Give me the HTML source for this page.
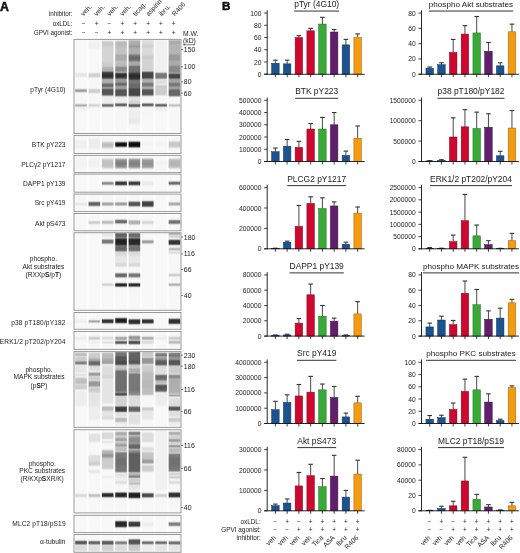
<!DOCTYPE html>
<html><head><meta charset="utf-8"><title>figure</title>
<style>
html,body{margin:0;padding:0;background:#fff;}
body{width:520px;height:553px;overflow:hidden;}
svg{display:block;font-family:"Liberation Sans", sans-serif;will-change:transform;filter:blur(0.25px);}
</style></head><body>
<svg width="520" height="553" viewBox="0 0 520 553">
<rect width="520" height="553" fill="#fff"/>
<text x="0.10" y="10.80" font-size="12.3" text-anchor="start" font-weight="bold" fill="#111" stroke="#111" stroke-width="0.5">A</text>
<text x="72.60" y="16.00" font-size="6.3" text-anchor="end" font-weight="normal" fill="#222" >inhibitor:</text>
<text x="72.60" y="25.60" font-size="6.3" text-anchor="end" font-weight="normal" fill="#222" >oxLDL:</text>
<text x="72.60" y="35.30" font-size="6.3" text-anchor="end" font-weight="normal" fill="#222" >GPVI agonist:</text>
<text x="83.60" y="16.6" font-size="6.8" fill="#222" transform="rotate(-48 83.60 16.6)">veh.</text>
<text x="83.75" y="25.60" font-size="6.5" text-anchor="middle" font-weight="normal" fill="#222" >−</text>
<text x="83.75" y="35.30" font-size="6.5" text-anchor="middle" font-weight="normal" fill="#222" >−</text>
<text x="96.64" y="16.6" font-size="6.8" fill="#222" transform="rotate(-48 96.64 16.6)">veh.</text>
<text x="96.61" y="25.60" font-size="6.5" text-anchor="middle" font-weight="normal" fill="#222" >+</text>
<text x="96.61" y="35.30" font-size="6.5" text-anchor="middle" font-weight="normal" fill="#222" >−</text>
<text x="109.68" y="16.6" font-size="6.8" fill="#222" transform="rotate(-48 109.68 16.6)">veh.</text>
<text x="109.47" y="25.60" font-size="6.5" text-anchor="middle" font-weight="normal" fill="#222" >−</text>
<text x="109.47" y="35.30" font-size="6.5" text-anchor="middle" font-weight="normal" fill="#222" >+</text>
<text x="122.72" y="16.6" font-size="6.8" fill="#222" transform="rotate(-48 122.72 16.6)">veh.</text>
<text x="122.33" y="25.60" font-size="6.5" text-anchor="middle" font-weight="normal" fill="#222" >+</text>
<text x="122.33" y="35.30" font-size="6.5" text-anchor="middle" font-weight="normal" fill="#222" >+</text>
<text x="135.76" y="16.6" font-size="6.8" fill="#222" transform="rotate(-48 135.76 16.6)">ticag.</text>
<text x="135.19" y="25.60" font-size="6.5" text-anchor="middle" font-weight="normal" fill="#222" >+</text>
<text x="135.19" y="35.30" font-size="6.5" text-anchor="middle" font-weight="normal" fill="#222" >+</text>
<text x="148.80" y="16.6" font-size="6.8" fill="#222" transform="rotate(-48 148.80 16.6)">aspirin</text>
<text x="148.05" y="25.60" font-size="6.5" text-anchor="middle" font-weight="normal" fill="#222" >+</text>
<text x="148.05" y="35.30" font-size="6.5" text-anchor="middle" font-weight="normal" fill="#222" >+</text>
<text x="161.84" y="16.6" font-size="6.8" fill="#222" transform="rotate(-48 161.84 16.6)">ibru.</text>
<text x="160.91" y="25.60" font-size="6.5" text-anchor="middle" font-weight="normal" fill="#222" >+</text>
<text x="160.91" y="35.30" font-size="6.5" text-anchor="middle" font-weight="normal" fill="#222" >+</text>
<text x="174.88" y="16.6" font-size="6.8" fill="#222" transform="rotate(-48 174.88 16.6)">R406</text>
<text x="173.77" y="25.60" font-size="6.5" text-anchor="middle" font-weight="normal" fill="#222" >+</text>
<text x="173.77" y="35.30" font-size="6.5" text-anchor="middle" font-weight="normal" fill="#222" >+</text>
<text x="183.00" y="35.90" font-size="6.8" text-anchor="start" font-weight="normal" fill="#222" >M.W.</text>
<text x="183.00" y="43.00" font-size="6.8" text-anchor="start" font-weight="normal" fill="#222" >(kD)</text>
<line x1="183" y1="44.8" x2="194.8" y2="44.8" stroke="#222" stroke-width="0.6"/>
<defs><filter id="hb" x="-2%" y="-1%" width="104%" height="102%"><feGaussianBlur stdDeviation="0.45 0.01"/></filter><linearGradient id="g0_0" gradientUnits="userSpaceOnUse" x1="0" y1="39.9" x2="0" y2="133.0"><stop offset="0.00%" stop-color="#f8f8f8"/><stop offset="33.83%" stop-color="#f8f8f8"/><stop offset="34.91%" stop-color="#f4f4f4"/><stop offset="36.52%" stop-color="#e7e7e7"/><stop offset="37.59%" stop-color="#e5e5e5"/><stop offset="38.94%" stop-color="#e7e7e7"/><stop offset="40.55%" stop-color="#f4f4f4"/><stop offset="41.35%" stop-color="#f8f8f8"/><stop offset="51.02%" stop-color="#f8f8f8"/><stop offset="51.56%" stop-color="#f6f6f6"/><stop offset="52.09%" stop-color="#eeeeee"/><stop offset="52.63%" stop-color="#dbdbdb"/><stop offset="53.71%" stop-color="#a8a8a8"/><stop offset="53.97%" stop-color="#a1a1a1"/><stop offset="54.51%" stop-color="#9b9b9b"/><stop offset="55.05%" stop-color="#a1a1a1"/><stop offset="55.32%" stop-color="#a8a8a8"/><stop offset="56.39%" stop-color="#dbdbdb"/><stop offset="56.93%" stop-color="#eeeeee"/><stop offset="57.47%" stop-color="#f6f6f6"/><stop offset="58.00%" stop-color="#f8f8f8"/><stop offset="67.67%" stop-color="#f6f6f6"/><stop offset="68.21%" stop-color="#efefef"/><stop offset="68.47%" stop-color="#e9e9e9"/><stop offset="69.82%" stop-color="#b5b5b5"/><stop offset="70.35%" stop-color="#aeaeae"/><stop offset="70.89%" stop-color="#b5b5b5"/><stop offset="72.23%" stop-color="#e8e8e8"/><stop offset="72.50%" stop-color="#eeeeee"/><stop offset="73.04%" stop-color="#f2f2f2"/><stop offset="74.38%" stop-color="#f0f0f0"/><stop offset="76.26%" stop-color="#f7f7f7"/><stop offset="77.34%" stop-color="#f8f8f8"/><stop offset="99.89%" stop-color="#f8f8f8"/></linearGradient><linearGradient id="g0_1" gradientUnits="userSpaceOnUse" x1="0" y1="39.9" x2="0" y2="133.0"><stop offset="0.00%" stop-color="#f8f8f8"/><stop offset="4.83%" stop-color="#f0f0f0"/><stop offset="7.52%" stop-color="#f0f0f0"/><stop offset="10.47%" stop-color="#f8f8f8"/><stop offset="34.10%" stop-color="#f8f8f8"/><stop offset="35.18%" stop-color="#f0f0f0"/><stop offset="36.79%" stop-color="#d1d1d1"/><stop offset="37.86%" stop-color="#cdcdcd"/><stop offset="39.21%" stop-color="#d1d1d1"/><stop offset="40.82%" stop-color="#f0f0f0"/><stop offset="41.62%" stop-color="#f7f7f7"/><stop offset="50.75%" stop-color="#f8f8f8"/><stop offset="51.56%" stop-color="#f6f6f6"/><stop offset="52.09%" stop-color="#f0f0f0"/><stop offset="53.71%" stop-color="#d1d1d1"/><stop offset="55.05%" stop-color="#cdcdcd"/><stop offset="56.12%" stop-color="#d1d1d1"/><stop offset="57.73%" stop-color="#f0f0f0"/><stop offset="58.27%" stop-color="#f6f6f6"/><stop offset="59.08%" stop-color="#f8f8f8"/><stop offset="67.67%" stop-color="#f7f7f7"/><stop offset="68.47%" stop-color="#f0f0f0"/><stop offset="69.82%" stop-color="#d5d5d5"/><stop offset="70.35%" stop-color="#d2d2d2"/><stop offset="70.89%" stop-color="#d5d5d5"/><stop offset="72.23%" stop-color="#f0f0f0"/><stop offset="73.31%" stop-color="#f8f8f8"/><stop offset="99.89%" stop-color="#f8f8f8"/></linearGradient><linearGradient id="g0_2" gradientUnits="userSpaceOnUse" x1="0" y1="39.9" x2="0" y2="133.0"><stop offset="0.00%" stop-color="#f6f6f6"/><stop offset="0.81%" stop-color="#ececec"/><stop offset="2.15%" stop-color="#cfcfcf"/><stop offset="3.22%" stop-color="#c8c8c8"/><stop offset="5.37%" stop-color="#c9c9c9"/><stop offset="7.52%" stop-color="#d3d3d3"/><stop offset="8.59%" stop-color="#d4d4d4"/><stop offset="22.29%" stop-color="#d4d4d4"/><stop offset="24.70%" stop-color="#cecece"/><stop offset="27.93%" stop-color="#cbcbcb"/><stop offset="28.46%" stop-color="#c7c7c7"/><stop offset="30.08%" stop-color="#b2b2b2"/><stop offset="32.49%" stop-color="#aeaeae"/><stop offset="33.03%" stop-color="#ababab"/><stop offset="33.57%" stop-color="#9e9e9e"/><stop offset="33.83%" stop-color="#929292"/><stop offset="34.91%" stop-color="#545454"/><stop offset="35.45%" stop-color="#424242"/><stop offset="35.98%" stop-color="#3b3b3b"/><stop offset="37.06%" stop-color="#313131"/><stop offset="38.40%" stop-color="#2d2d2d"/><stop offset="39.74%" stop-color="#343434"/><stop offset="40.55%" stop-color="#414141"/><stop offset="41.08%" stop-color="#565656"/><stop offset="41.89%" stop-color="#888888"/><stop offset="42.43%" stop-color="#a2a2a2"/><stop offset="42.96%" stop-color="#adadad"/><stop offset="43.50%" stop-color="#afafaf"/><stop offset="45.11%" stop-color="#aeaeae"/><stop offset="45.92%" stop-color="#a7a7a7"/><stop offset="46.46%" stop-color="#999999"/><stop offset="47.53%" stop-color="#737373"/><stop offset="48.34%" stop-color="#686868"/><stop offset="49.14%" stop-color="#686868"/><stop offset="49.68%" stop-color="#6d6d6d"/><stop offset="50.21%" stop-color="#7a7a7a"/><stop offset="51.02%" stop-color="#949494"/><stop offset="51.56%" stop-color="#9a9a9a"/><stop offset="51.83%" stop-color="#979797"/><stop offset="52.09%" stop-color="#909090"/><stop offset="53.17%" stop-color="#656565"/><stop offset="53.71%" stop-color="#5a5a5a"/><stop offset="54.78%" stop-color="#555555"/><stop offset="58.00%" stop-color="#575757"/><stop offset="58.54%" stop-color="#5f5f5f"/><stop offset="59.08%" stop-color="#737373"/><stop offset="59.34%" stop-color="#838383"/><stop offset="60.15%" stop-color="#bdbdbd"/><stop offset="60.69%" stop-color="#dcdcdc"/><stop offset="61.22%" stop-color="#ebebeb"/><stop offset="61.76%" stop-color="#efefef"/><stop offset="67.13%" stop-color="#eeeeee"/><stop offset="67.67%" stop-color="#ebebeb"/><stop offset="67.94%" stop-color="#e5e5e5"/><stop offset="68.21%" stop-color="#dadada"/><stop offset="68.47%" stop-color="#cbcbcb"/><stop offset="69.28%" stop-color="#919191"/><stop offset="69.55%" stop-color="#818181"/><stop offset="69.82%" stop-color="#767676"/><stop offset="70.09%" stop-color="#6f6f6f"/><stop offset="70.35%" stop-color="#6d6d6d"/><stop offset="70.62%" stop-color="#6f6f6f"/><stop offset="70.89%" stop-color="#767676"/><stop offset="71.16%" stop-color="#818181"/><stop offset="71.43%" stop-color="#919191"/><stop offset="72.23%" stop-color="#cdcdcd"/><stop offset="72.50%" stop-color="#dddddd"/><stop offset="72.77%" stop-color="#e9e9e9"/><stop offset="73.04%" stop-color="#f0f0f0"/><stop offset="73.58%" stop-color="#f7f7f7"/><stop offset="99.89%" stop-color="#f8f8f8"/></linearGradient><linearGradient id="g0_3" gradientUnits="userSpaceOnUse" x1="0" y1="39.9" x2="0" y2="133.0"><stop offset="0.00%" stop-color="#f5f5f5"/><stop offset="0.81%" stop-color="#e8e8e8"/><stop offset="1.61%" stop-color="#cfcfcf"/><stop offset="2.15%" stop-color="#c3c3c3"/><stop offset="2.95%" stop-color="#bcbcbc"/><stop offset="6.18%" stop-color="#bbbbbb"/><stop offset="8.86%" stop-color="#c3c3c3"/><stop offset="13.96%" stop-color="#c3c3c3"/><stop offset="15.04%" stop-color="#bebebe"/><stop offset="16.65%" stop-color="#adadad"/><stop offset="18.26%" stop-color="#aaaaaa"/><stop offset="20.95%" stop-color="#ababab"/><stop offset="23.09%" stop-color="#bcbcbc"/><stop offset="27.12%" stop-color="#bbbbbb"/><stop offset="27.93%" stop-color="#b5b5b5"/><stop offset="29.54%" stop-color="#8e8e8e"/><stop offset="30.61%" stop-color="#888888"/><stop offset="33.03%" stop-color="#8b8b8b"/><stop offset="33.57%" stop-color="#929292"/><stop offset="34.37%" stop-color="#a4a4a4"/><stop offset="34.64%" stop-color="#a5a5a5"/><stop offset="34.91%" stop-color="#9f9f9f"/><stop offset="35.18%" stop-color="#929292"/><stop offset="35.98%" stop-color="#595959"/><stop offset="36.25%" stop-color="#4a4a4a"/><stop offset="36.52%" stop-color="#3f3f3f"/><stop offset="36.79%" stop-color="#383838"/><stop offset="37.33%" stop-color="#303030"/><stop offset="38.40%" stop-color="#2d2d2d"/><stop offset="39.74%" stop-color="#343434"/><stop offset="40.55%" stop-color="#414141"/><stop offset="41.08%" stop-color="#555555"/><stop offset="41.89%" stop-color="#808080"/><stop offset="42.16%" stop-color="#8c8c8c"/><stop offset="42.43%" stop-color="#949494"/><stop offset="42.96%" stop-color="#9a9a9a"/><stop offset="44.58%" stop-color="#989898"/><stop offset="45.11%" stop-color="#949494"/><stop offset="45.65%" stop-color="#8b8b8b"/><stop offset="46.72%" stop-color="#707070"/><stop offset="47.26%" stop-color="#696969"/><stop offset="47.80%" stop-color="#686868"/><stop offset="48.60%" stop-color="#717171"/><stop offset="49.68%" stop-color="#8f8f8f"/><stop offset="50.21%" stop-color="#9a9a9a"/><stop offset="50.75%" stop-color="#9f9f9f"/><stop offset="51.56%" stop-color="#9e9e9e"/><stop offset="52.09%" stop-color="#989898"/><stop offset="52.36%" stop-color="#929292"/><stop offset="53.71%" stop-color="#636363"/><stop offset="54.24%" stop-color="#595959"/><stop offset="55.32%" stop-color="#555555"/><stop offset="58.81%" stop-color="#575757"/><stop offset="59.34%" stop-color="#5e5e5e"/><stop offset="59.61%" stop-color="#666666"/><stop offset="59.88%" stop-color="#737373"/><stop offset="60.15%" stop-color="#858585"/><stop offset="60.96%" stop-color="#c5c5c5"/><stop offset="61.22%" stop-color="#d6d6d6"/><stop offset="61.49%" stop-color="#e1e1e1"/><stop offset="61.76%" stop-color="#e8e8e8"/><stop offset="62.30%" stop-color="#ededed"/><stop offset="66.33%" stop-color="#eeeeee"/><stop offset="67.13%" stop-color="#e7e7e7"/><stop offset="67.40%" stop-color="#e0e0e0"/><stop offset="67.67%" stop-color="#d4d4d4"/><stop offset="67.94%" stop-color="#c4c4c4"/><stop offset="68.74%" stop-color="#848484"/><stop offset="69.01%" stop-color="#737373"/><stop offset="69.28%" stop-color="#666666"/><stop offset="69.55%" stop-color="#5f5f5f"/><stop offset="69.82%" stop-color="#5d5d5d"/><stop offset="70.09%" stop-color="#5f5f5f"/><stop offset="70.35%" stop-color="#676767"/><stop offset="70.62%" stop-color="#737373"/><stop offset="70.89%" stop-color="#858585"/><stop offset="71.70%" stop-color="#c8c8c8"/><stop offset="71.97%" stop-color="#dadada"/><stop offset="72.23%" stop-color="#e7e7e7"/><stop offset="72.50%" stop-color="#efefef"/><stop offset="73.04%" stop-color="#f6f6f6"/><stop offset="99.89%" stop-color="#f8f8f8"/></linearGradient><linearGradient id="g0_4" gradientUnits="userSpaceOnUse" x1="0" y1="39.9" x2="0" y2="133.0"><stop offset="0.00%" stop-color="#d9d9d9"/><stop offset="0.81%" stop-color="#bcbcbc"/><stop offset="1.34%" stop-color="#b3b3b3"/><stop offset="1.88%" stop-color="#b0b0b0"/><stop offset="4.56%" stop-color="#adadad"/><stop offset="6.44%" stop-color="#9c9c9c"/><stop offset="7.25%" stop-color="#9c9c9c"/><stop offset="8.86%" stop-color="#ababab"/><stop offset="9.67%" stop-color="#aeaeae"/><stop offset="13.69%" stop-color="#afafaf"/><stop offset="14.50%" stop-color="#acacac"/><stop offset="15.04%" stop-color="#a5a5a5"/><stop offset="16.11%" stop-color="#878787"/><stop offset="16.65%" stop-color="#7c7c7c"/><stop offset="18.26%" stop-color="#6a6a6a"/><stop offset="19.07%" stop-color="#656565"/><stop offset="20.41%" stop-color="#686868"/><stop offset="22.02%" stop-color="#787878"/><stop offset="22.56%" stop-color="#818181"/><stop offset="23.63%" stop-color="#9d9d9d"/><stop offset="24.17%" stop-color="#a6a6a6"/><stop offset="24.97%" stop-color="#aaaaaa"/><stop offset="26.32%" stop-color="#a9a9a9"/><stop offset="27.12%" stop-color="#a1a1a1"/><stop offset="28.46%" stop-color="#7a7a7a"/><stop offset="29.00%" stop-color="#717171"/><stop offset="29.81%" stop-color="#6e6e6e"/><stop offset="33.30%" stop-color="#6e6e6e"/><stop offset="34.10%" stop-color="#6b6b6b"/><stop offset="34.64%" stop-color="#646464"/><stop offset="35.98%" stop-color="#404040"/><stop offset="36.52%" stop-color="#383838"/><stop offset="37.86%" stop-color="#2c2c2c"/><stop offset="39.21%" stop-color="#2a2a2a"/><stop offset="40.55%" stop-color="#2e2e2e"/><stop offset="41.62%" stop-color="#393939"/><stop offset="42.16%" stop-color="#444444"/><stop offset="43.50%" stop-color="#6f6f6f"/><stop offset="44.31%" stop-color="#777777"/><stop offset="46.19%" stop-color="#777777"/><stop offset="47.53%" stop-color="#6b6b6b"/><stop offset="48.34%" stop-color="#676767"/><stop offset="51.29%" stop-color="#6b6b6b"/><stop offset="51.83%" stop-color="#626262"/><stop offset="52.63%" stop-color="#4f4f4f"/><stop offset="53.44%" stop-color="#454545"/><stop offset="58.81%" stop-color="#464646"/><stop offset="59.34%" stop-color="#4d4d4d"/><stop offset="59.61%" stop-color="#565656"/><stop offset="59.88%" stop-color="#656565"/><stop offset="60.15%" stop-color="#787878"/><stop offset="60.96%" stop-color="#bbbbbb"/><stop offset="61.22%" stop-color="#cbcbcb"/><stop offset="61.49%" stop-color="#d6d6d6"/><stop offset="62.03%" stop-color="#dedede"/><stop offset="64.98%" stop-color="#e0e0e0"/><stop offset="66.60%" stop-color="#d2d2d2"/><stop offset="67.67%" stop-color="#d6d6d6"/><stop offset="67.94%" stop-color="#d4d4d4"/><stop offset="68.21%" stop-color="#cdcdcd"/><stop offset="68.47%" stop-color="#c0c0c0"/><stop offset="69.28%" stop-color="#848484"/><stop offset="69.55%" stop-color="#737373"/><stop offset="69.82%" stop-color="#666666"/><stop offset="70.09%" stop-color="#5e5e5e"/><stop offset="70.62%" stop-color="#5a5a5a"/><stop offset="70.89%" stop-color="#5e5e5e"/><stop offset="71.16%" stop-color="#666666"/><stop offset="71.43%" stop-color="#737373"/><stop offset="71.70%" stop-color="#858585"/><stop offset="72.50%" stop-color="#c8c8c8"/><stop offset="72.77%" stop-color="#dadada"/><stop offset="73.04%" stop-color="#e6e6e6"/><stop offset="73.58%" stop-color="#f2f2f2"/><stop offset="75.99%" stop-color="#eeeeee"/><stop offset="84.59%" stop-color="#eeeeee"/><stop offset="87.27%" stop-color="#e6e6e6"/><stop offset="92.64%" stop-color="#f7f7f7"/><stop offset="99.89%" stop-color="#f8f8f8"/></linearGradient><linearGradient id="g0_5" gradientUnits="userSpaceOnUse" x1="0" y1="39.9" x2="0" y2="133.0"><stop offset="0.00%" stop-color="#ebebeb"/><stop offset="0.81%" stop-color="#e0e0e0"/><stop offset="1.34%" stop-color="#dcdcdc"/><stop offset="4.56%" stop-color="#d9d9d9"/><stop offset="6.71%" stop-color="#cdcdcd"/><stop offset="7.52%" stop-color="#cfcfcf"/><stop offset="9.13%" stop-color="#d9d9d9"/><stop offset="10.20%" stop-color="#dadada"/><stop offset="15.31%" stop-color="#d9d9d9"/><stop offset="17.45%" stop-color="#cdcdcd"/><stop offset="18.53%" stop-color="#cccccc"/><stop offset="20.14%" stop-color="#cdcdcd"/><stop offset="22.02%" stop-color="#d4d4d4"/><stop offset="29.81%" stop-color="#d2d2d2"/><stop offset="32.76%" stop-color="#d4d4d4"/><stop offset="33.30%" stop-color="#cacaca"/><stop offset="33.57%" stop-color="#bebebe"/><stop offset="33.83%" stop-color="#aeaeae"/><stop offset="34.64%" stop-color="#707070"/><stop offset="34.91%" stop-color="#606060"/><stop offset="35.18%" stop-color="#545454"/><stop offset="35.45%" stop-color="#4c4c4c"/><stop offset="36.25%" stop-color="#444444"/><stop offset="39.21%" stop-color="#444444"/><stop offset="40.01%" stop-color="#454545"/><stop offset="40.55%" stop-color="#4c4c4c"/><stop offset="41.08%" stop-color="#5e5e5e"/><stop offset="41.89%" stop-color="#8c8c8c"/><stop offset="42.43%" stop-color="#a3a3a3"/><stop offset="42.96%" stop-color="#adadad"/><stop offset="43.50%" stop-color="#afafaf"/><stop offset="44.58%" stop-color="#aeaeae"/><stop offset="45.11%" stop-color="#a9a9a9"/><stop offset="45.65%" stop-color="#9e9e9e"/><stop offset="46.72%" stop-color="#818181"/><stop offset="47.26%" stop-color="#7a7a7a"/><stop offset="48.07%" stop-color="#777777"/><stop offset="49.14%" stop-color="#7d7d7d"/><stop offset="49.68%" stop-color="#888888"/><stop offset="50.75%" stop-color="#a5a5a5"/><stop offset="51.56%" stop-color="#acacac"/><stop offset="52.09%" stop-color="#a5a5a5"/><stop offset="52.36%" stop-color="#9e9e9e"/><stop offset="53.71%" stop-color="#666666"/><stop offset="54.24%" stop-color="#5a5a5a"/><stop offset="55.32%" stop-color="#555555"/><stop offset="58.00%" stop-color="#575757"/><stop offset="58.54%" stop-color="#5f5f5f"/><stop offset="59.08%" stop-color="#737373"/><stop offset="59.34%" stop-color="#838383"/><stop offset="60.15%" stop-color="#bebebe"/><stop offset="60.69%" stop-color="#dedede"/><stop offset="61.22%" stop-color="#f0f0f0"/><stop offset="62.03%" stop-color="#f7f7f7"/><stop offset="66.33%" stop-color="#f7f7f7"/><stop offset="66.86%" stop-color="#f4f4f4"/><stop offset="67.13%" stop-color="#efefef"/><stop offset="67.40%" stop-color="#e7e7e7"/><stop offset="67.67%" stop-color="#dadada"/><stop offset="67.94%" stop-color="#c8c8c8"/><stop offset="68.74%" stop-color="#858585"/><stop offset="69.01%" stop-color="#737373"/><stop offset="69.28%" stop-color="#676767"/><stop offset="69.55%" stop-color="#5f5f5f"/><stop offset="69.82%" stop-color="#5d5d5d"/><stop offset="70.09%" stop-color="#5f5f5f"/><stop offset="70.35%" stop-color="#676767"/><stop offset="70.62%" stop-color="#737373"/><stop offset="70.89%" stop-color="#858585"/><stop offset="71.70%" stop-color="#c8c8c8"/><stop offset="71.97%" stop-color="#dadada"/><stop offset="72.23%" stop-color="#e7e7e7"/><stop offset="72.50%" stop-color="#efefef"/><stop offset="73.04%" stop-color="#f6f6f6"/><stop offset="99.89%" stop-color="#f8f8f8"/></linearGradient><linearGradient id="g0_6" gradientUnits="userSpaceOnUse" x1="0" y1="39.9" x2="0" y2="133.0"><stop offset="0.00%" stop-color="#f5f5f5"/><stop offset="2.15%" stop-color="#f0f0f0"/><stop offset="33.57%" stop-color="#f0f0f0"/><stop offset="34.10%" stop-color="#ececec"/><stop offset="34.64%" stop-color="#dddddd"/><stop offset="34.91%" stop-color="#d0d0d0"/><stop offset="35.71%" stop-color="#9d9d9d"/><stop offset="35.98%" stop-color="#8f8f8f"/><stop offset="36.52%" stop-color="#7e7e7e"/><stop offset="37.33%" stop-color="#777777"/><stop offset="39.21%" stop-color="#777777"/><stop offset="40.28%" stop-color="#7a7a7a"/><stop offset="40.82%" stop-color="#848484"/><stop offset="41.35%" stop-color="#9c9c9c"/><stop offset="42.16%" stop-color="#cdcdcd"/><stop offset="42.43%" stop-color="#d8d8d8"/><stop offset="42.96%" stop-color="#e2e2e2"/><stop offset="45.65%" stop-color="#dddddd"/><stop offset="47.80%" stop-color="#e8e8e8"/><stop offset="48.34%" stop-color="#e2e2e2"/><stop offset="49.41%" stop-color="#d0d0d0"/><stop offset="49.95%" stop-color="#cdcdcd"/><stop offset="57.47%" stop-color="#cccccc"/><stop offset="58.54%" stop-color="#d1d1d1"/><stop offset="59.08%" stop-color="#d9d9d9"/><stop offset="60.15%" stop-color="#f0f0f0"/><stop offset="60.96%" stop-color="#f7f7f7"/><stop offset="66.86%" stop-color="#f7f7f7"/><stop offset="67.40%" stop-color="#f4f4f4"/><stop offset="67.94%" stop-color="#e7e7e7"/><stop offset="68.21%" stop-color="#dadada"/><stop offset="68.47%" stop-color="#c8c8c8"/><stop offset="69.28%" stop-color="#858585"/><stop offset="69.55%" stop-color="#747474"/><stop offset="69.82%" stop-color="#686868"/><stop offset="70.09%" stop-color="#616161"/><stop offset="70.35%" stop-color="#616161"/><stop offset="70.62%" stop-color="#686868"/><stop offset="70.89%" stop-color="#747474"/><stop offset="71.16%" stop-color="#858585"/><stop offset="71.97%" stop-color="#c7c7c7"/><stop offset="72.23%" stop-color="#d9d9d9"/><stop offset="72.50%" stop-color="#e5e5e5"/><stop offset="73.04%" stop-color="#f0f0f0"/><stop offset="75.19%" stop-color="#efefef"/><stop offset="78.14%" stop-color="#f8f8f8"/><stop offset="99.89%" stop-color="#f8f8f8"/></linearGradient><linearGradient id="g0_7" gradientUnits="userSpaceOnUse" x1="0" y1="39.9" x2="0" y2="133.0"><stop offset="0.00%" stop-color="#d9d9d9"/><stop offset="0.54%" stop-color="#c4c4c4"/><stop offset="1.07%" stop-color="#b4b4b4"/><stop offset="1.61%" stop-color="#adadad"/><stop offset="2.15%" stop-color="#aaaaaa"/><stop offset="3.49%" stop-color="#ababab"/><stop offset="5.91%" stop-color="#b4b4b4"/><stop offset="13.96%" stop-color="#b4b4b4"/><stop offset="15.04%" stop-color="#afafaf"/><stop offset="16.65%" stop-color="#9c9c9c"/><stop offset="18.26%" stop-color="#999999"/><stop offset="20.95%" stop-color="#9a9a9a"/><stop offset="23.09%" stop-color="#aaaaaa"/><stop offset="26.05%" stop-color="#aaaaaa"/><stop offset="27.12%" stop-color="#a5a5a5"/><stop offset="28.73%" stop-color="#8c8c8c"/><stop offset="29.81%" stop-color="#888888"/><stop offset="33.83%" stop-color="#8a8a8a"/><stop offset="34.37%" stop-color="#8e8e8e"/><stop offset="35.18%" stop-color="#9c9c9c"/><stop offset="35.45%" stop-color="#9d9d9d"/><stop offset="35.71%" stop-color="#999999"/><stop offset="35.98%" stop-color="#8f8f8f"/><stop offset="36.79%" stop-color="#616161"/><stop offset="37.33%" stop-color="#4d4d4d"/><stop offset="37.86%" stop-color="#464646"/><stop offset="39.21%" stop-color="#444444"/><stop offset="40.01%" stop-color="#454545"/><stop offset="40.55%" stop-color="#4c4c4c"/><stop offset="41.08%" stop-color="#5d5d5d"/><stop offset="42.16%" stop-color="#939393"/><stop offset="42.70%" stop-color="#a2a2a2"/><stop offset="43.23%" stop-color="#a5a5a5"/><stop offset="44.31%" stop-color="#a5a5a5"/><stop offset="45.11%" stop-color="#a0a0a0"/><stop offset="45.65%" stop-color="#979797"/><stop offset="46.72%" stop-color="#7f7f7f"/><stop offset="47.26%" stop-color="#797979"/><stop offset="48.07%" stop-color="#777777"/><stop offset="49.14%" stop-color="#7c7c7c"/><stop offset="49.68%" stop-color="#858585"/><stop offset="50.75%" stop-color="#9c9c9c"/><stop offset="51.56%" stop-color="#a2a2a2"/><stop offset="52.36%" stop-color="#999999"/><stop offset="53.71%" stop-color="#727272"/><stop offset="54.24%" stop-color="#696969"/><stop offset="55.32%" stop-color="#666666"/><stop offset="58.81%" stop-color="#676767"/><stop offset="59.34%" stop-color="#6e6e6e"/><stop offset="59.61%" stop-color="#757575"/><stop offset="59.88%" stop-color="#818181"/><stop offset="60.15%" stop-color="#919191"/><stop offset="60.96%" stop-color="#cdcdcd"/><stop offset="61.22%" stop-color="#dddddd"/><stop offset="61.49%" stop-color="#e9e9e9"/><stop offset="62.03%" stop-color="#f5f5f5"/><stop offset="62.57%" stop-color="#f8f8f8"/><stop offset="66.86%" stop-color="#f8f8f8"/><stop offset="67.94%" stop-color="#f5f5f5"/><stop offset="68.47%" stop-color="#ededed"/><stop offset="69.82%" stop-color="#c7c7c7"/><stop offset="70.35%" stop-color="#c1c1c1"/><stop offset="70.89%" stop-color="#c7c7c7"/><stop offset="72.23%" stop-color="#ededed"/><stop offset="72.77%" stop-color="#f5f5f5"/><stop offset="73.31%" stop-color="#f7f7f7"/><stop offset="99.89%" stop-color="#f8f8f8"/></linearGradient><linearGradient id="g1_0" gradientUnits="userSpaceOnUse" x1="0" y1="135.9" x2="0" y2="153.0"><stop offset="0.00%" stop-color="#f8f8f8"/><stop offset="19.01%" stop-color="#f8f8f8"/><stop offset="30.70%" stop-color="#f1f1f1"/><stop offset="39.47%" stop-color="#f0f0f0"/><stop offset="65.79%" stop-color="#f0f0f0"/><stop offset="80.41%" stop-color="#f8f8f8"/><stop offset="99.42%" stop-color="#f8f8f8"/></linearGradient><linearGradient id="g1_1" gradientUnits="userSpaceOnUse" x1="0" y1="135.9" x2="0" y2="153.0"><stop offset="0.00%" stop-color="#f8f8f8"/><stop offset="11.70%" stop-color="#f7f7f7"/><stop offset="23.39%" stop-color="#ededed"/><stop offset="32.16%" stop-color="#ececec"/><stop offset="65.79%" stop-color="#ececec"/><stop offset="80.41%" stop-color="#f7f7f7"/><stop offset="99.42%" stop-color="#f8f8f8"/></linearGradient><linearGradient id="g1_2" gradientUnits="userSpaceOnUse" x1="0" y1="135.9" x2="0" y2="153.0"><stop offset="0.00%" stop-color="#f8f8f8"/><stop offset="26.32%" stop-color="#f6f6f6"/><stop offset="30.70%" stop-color="#eeeeee"/><stop offset="38.01%" stop-color="#d3d3d3"/><stop offset="42.40%" stop-color="#c8c8c8"/><stop offset="46.78%" stop-color="#c0c0c0"/><stop offset="52.63%" stop-color="#bcbcbc"/><stop offset="58.48%" stop-color="#bebebe"/><stop offset="64.33%" stop-color="#c8c8c8"/><stop offset="68.71%" stop-color="#d3d3d3"/><stop offset="76.02%" stop-color="#eeeeee"/><stop offset="78.95%" stop-color="#f5f5f5"/><stop offset="83.33%" stop-color="#f8f8f8"/><stop offset="99.42%" stop-color="#f8f8f8"/></linearGradient><linearGradient id="g1_3" gradientUnits="userSpaceOnUse" x1="0" y1="135.9" x2="0" y2="153.0"><stop offset="0.00%" stop-color="#f8f8f8"/><stop offset="24.85%" stop-color="#f7f7f7"/><stop offset="27.78%" stop-color="#f4f4f4"/><stop offset="29.24%" stop-color="#efefef"/><stop offset="30.70%" stop-color="#e7e7e7"/><stop offset="32.16%" stop-color="#d9d9d9"/><stop offset="33.63%" stop-color="#c5c5c5"/><stop offset="35.09%" stop-color="#acacac"/><stop offset="39.47%" stop-color="#555555"/><stop offset="40.94%" stop-color="#3d3d3d"/><stop offset="42.40%" stop-color="#2a2a2a"/><stop offset="43.86%" stop-color="#1d1d1d"/><stop offset="45.32%" stop-color="#141414"/><stop offset="46.78%" stop-color="#0f0f0f"/><stop offset="49.71%" stop-color="#0b0b0b"/><stop offset="52.63%" stop-color="#0c0c0c"/><stop offset="55.56%" stop-color="#141414"/><stop offset="57.02%" stop-color="#1d1d1d"/><stop offset="58.48%" stop-color="#2a2a2a"/><stop offset="59.94%" stop-color="#3d3d3d"/><stop offset="61.40%" stop-color="#555555"/><stop offset="65.79%" stop-color="#acacac"/><stop offset="67.25%" stop-color="#c5c5c5"/><stop offset="68.71%" stop-color="#d9d9d9"/><stop offset="70.18%" stop-color="#e7e7e7"/><stop offset="71.64%" stop-color="#efefef"/><stop offset="73.10%" stop-color="#f4f4f4"/><stop offset="76.02%" stop-color="#f7f7f7"/><stop offset="99.42%" stop-color="#f8f8f8"/></linearGradient><linearGradient id="g1_4" gradientUnits="userSpaceOnUse" x1="0" y1="135.9" x2="0" y2="153.0"><stop offset="0.00%" stop-color="#f8f8f8"/><stop offset="21.93%" stop-color="#f7f7f7"/><stop offset="24.85%" stop-color="#f4f4f4"/><stop offset="26.32%" stop-color="#efefef"/><stop offset="27.78%" stop-color="#e7e7e7"/><stop offset="29.24%" stop-color="#d9d9d9"/><stop offset="30.70%" stop-color="#c5c5c5"/><stop offset="32.16%" stop-color="#acacac"/><stop offset="36.55%" stop-color="#555555"/><stop offset="38.01%" stop-color="#3d3d3d"/><stop offset="39.47%" stop-color="#2a2a2a"/><stop offset="40.94%" stop-color="#1d1d1d"/><stop offset="43.86%" stop-color="#0f0f0f"/><stop offset="49.71%" stop-color="#0a0a0a"/><stop offset="54.09%" stop-color="#0b0b0b"/><stop offset="57.02%" stop-color="#0f0f0f"/><stop offset="59.94%" stop-color="#1d1d1d"/><stop offset="61.40%" stop-color="#2a2a2a"/><stop offset="62.87%" stop-color="#3d3d3d"/><stop offset="64.33%" stop-color="#555555"/><stop offset="68.71%" stop-color="#acacac"/><stop offset="70.18%" stop-color="#c5c5c5"/><stop offset="71.64%" stop-color="#d9d9d9"/><stop offset="73.10%" stop-color="#e7e7e7"/><stop offset="74.56%" stop-color="#efefef"/><stop offset="76.02%" stop-color="#f4f4f4"/><stop offset="78.95%" stop-color="#f7f7f7"/><stop offset="99.42%" stop-color="#f8f8f8"/></linearGradient><linearGradient id="g1_5" gradientUnits="userSpaceOnUse" x1="0" y1="135.9" x2="0" y2="153.0"><stop offset="0.00%" stop-color="#f8f8f8"/><stop offset="26.32%" stop-color="#f8f8f8"/><stop offset="46.78%" stop-color="#f3f3f3"/><stop offset="70.18%" stop-color="#f8f8f8"/><stop offset="99.42%" stop-color="#f8f8f8"/></linearGradient><linearGradient id="g1_6" gradientUnits="userSpaceOnUse" x1="0" y1="135.9" x2="0" y2="153.0"><stop offset="0.00%" stop-color="#f8f8f8"/><stop offset="26.32%" stop-color="#f8f8f8"/><stop offset="46.78%" stop-color="#f3f3f3"/><stop offset="70.18%" stop-color="#f8f8f8"/><stop offset="99.42%" stop-color="#f8f8f8"/></linearGradient><linearGradient id="g1_7" gradientUnits="userSpaceOnUse" x1="0" y1="135.9" x2="0" y2="153.0"><stop offset="0.00%" stop-color="#f8f8f8"/><stop offset="23.39%" stop-color="#f7f7f7"/><stop offset="27.78%" stop-color="#efefef"/><stop offset="35.09%" stop-color="#d8d8d8"/><stop offset="39.47%" stop-color="#cecece"/><stop offset="43.86%" stop-color="#c8c8c8"/><stop offset="49.71%" stop-color="#c6c6c6"/><stop offset="55.56%" stop-color="#c7c7c7"/><stop offset="61.40%" stop-color="#cecece"/><stop offset="65.79%" stop-color="#d8d8d8"/><stop offset="73.10%" stop-color="#efefef"/><stop offset="77.49%" stop-color="#f7f7f7"/><stop offset="99.42%" stop-color="#f8f8f8"/></linearGradient><linearGradient id="g2_0" gradientUnits="userSpaceOnUse" x1="0" y1="155.9" x2="0" y2="172.1"><stop offset="0.00%" stop-color="#f8f8f8"/><stop offset="33.95%" stop-color="#f3f3f3"/><stop offset="66.36%" stop-color="#f3f3f3"/><stop offset="81.79%" stop-color="#f8f8f8"/><stop offset="100.31%" stop-color="#f8f8f8"/></linearGradient><linearGradient id="g2_1" gradientUnits="userSpaceOnUse" x1="0" y1="155.9" x2="0" y2="172.1"><stop offset="0.00%" stop-color="#f8f8f8"/><stop offset="12.35%" stop-color="#f8f8f8"/><stop offset="24.69%" stop-color="#f2f2f2"/><stop offset="33.95%" stop-color="#f1f1f1"/><stop offset="66.36%" stop-color="#f1f1f1"/><stop offset="81.79%" stop-color="#f8f8f8"/><stop offset="100.31%" stop-color="#f8f8f8"/></linearGradient><linearGradient id="g2_2" gradientUnits="userSpaceOnUse" x1="0" y1="155.9" x2="0" y2="172.1"><stop offset="0.00%" stop-color="#f8f8f8"/><stop offset="10.80%" stop-color="#f5f5f5"/><stop offset="13.89%" stop-color="#eeeeee"/><stop offset="21.60%" stop-color="#d4d4d4"/><stop offset="27.78%" stop-color="#c8c8c8"/><stop offset="35.49%" stop-color="#c1c1c1"/><stop offset="46.30%" stop-color="#c0c0c0"/><stop offset="58.64%" stop-color="#c1c1c1"/><stop offset="67.90%" stop-color="#cacaca"/><stop offset="72.53%" stop-color="#d4d4d4"/><stop offset="80.25%" stop-color="#eeeeee"/><stop offset="84.88%" stop-color="#f6f6f6"/><stop offset="100.31%" stop-color="#f8f8f8"/></linearGradient><linearGradient id="g2_3" gradientUnits="userSpaceOnUse" x1="0" y1="155.9" x2="0" y2="172.1"><stop offset="0.00%" stop-color="#f8f8f8"/><stop offset="7.72%" stop-color="#f6f6f6"/><stop offset="10.80%" stop-color="#f0f0f0"/><stop offset="13.89%" stop-color="#e2e2e2"/><stop offset="21.60%" stop-color="#ababab"/><stop offset="24.69%" stop-color="#9c9c9c"/><stop offset="27.78%" stop-color="#929292"/><stop offset="32.41%" stop-color="#898989"/><stop offset="38.58%" stop-color="#818181"/><stop offset="47.84%" stop-color="#7d7d7d"/><stop offset="54.01%" stop-color="#808080"/><stop offset="60.19%" stop-color="#878787"/><stop offset="67.90%" stop-color="#979797"/><stop offset="72.53%" stop-color="#ababab"/><stop offset="80.25%" stop-color="#e2e2e2"/><stop offset="81.79%" stop-color="#eaeaea"/><stop offset="84.88%" stop-color="#f4f4f4"/><stop offset="89.51%" stop-color="#f8f8f8"/><stop offset="100.31%" stop-color="#f8f8f8"/></linearGradient><linearGradient id="g2_4" gradientUnits="userSpaceOnUse" x1="0" y1="155.9" x2="0" y2="172.1"><stop offset="0.00%" stop-color="#f8f8f8"/><stop offset="7.72%" stop-color="#f6f6f6"/><stop offset="10.80%" stop-color="#f0f0f0"/><stop offset="13.89%" stop-color="#e2e2e2"/><stop offset="21.60%" stop-color="#ababab"/><stop offset="24.69%" stop-color="#9c9c9c"/><stop offset="27.78%" stop-color="#929292"/><stop offset="35.49%" stop-color="#868686"/><stop offset="47.84%" stop-color="#808080"/><stop offset="60.19%" stop-color="#878787"/><stop offset="64.81%" stop-color="#8f8f8f"/><stop offset="67.90%" stop-color="#979797"/><stop offset="72.53%" stop-color="#ababab"/><stop offset="80.25%" stop-color="#e2e2e2"/><stop offset="81.79%" stop-color="#eaeaea"/><stop offset="84.88%" stop-color="#f4f4f4"/><stop offset="89.51%" stop-color="#f8f8f8"/><stop offset="100.31%" stop-color="#f8f8f8"/></linearGradient><linearGradient id="g2_5" gradientUnits="userSpaceOnUse" x1="0" y1="155.9" x2="0" y2="172.1"><stop offset="0.00%" stop-color="#f8f8f8"/><stop offset="7.72%" stop-color="#f6f6f6"/><stop offset="10.80%" stop-color="#f1f1f1"/><stop offset="13.89%" stop-color="#e5e5e5"/><stop offset="21.60%" stop-color="#b4b4b4"/><stop offset="24.69%" stop-color="#a7a7a7"/><stop offset="27.78%" stop-color="#9e9e9e"/><stop offset="35.49%" stop-color="#959595"/><stop offset="46.30%" stop-color="#919191"/><stop offset="60.19%" stop-color="#969696"/><stop offset="67.90%" stop-color="#a2a2a2"/><stop offset="72.53%" stop-color="#b4b4b4"/><stop offset="80.25%" stop-color="#e5e5e5"/><stop offset="81.79%" stop-color="#ececec"/><stop offset="84.88%" stop-color="#f5f5f5"/><stop offset="89.51%" stop-color="#f8f8f8"/><stop offset="100.31%" stop-color="#f8f8f8"/></linearGradient><linearGradient id="g2_6" gradientUnits="userSpaceOnUse" x1="0" y1="155.9" x2="0" y2="172.1"><stop offset="0.00%" stop-color="#f8f8f8"/><stop offset="18.52%" stop-color="#f8f8f8"/><stop offset="40.12%" stop-color="#f3f3f3"/><stop offset="100.31%" stop-color="#f8f8f8"/></linearGradient><linearGradient id="g2_7" gradientUnits="userSpaceOnUse" x1="0" y1="155.9" x2="0" y2="172.1"><stop offset="0.00%" stop-color="#f8f8f8"/><stop offset="7.72%" stop-color="#f7f7f7"/><stop offset="12.35%" stop-color="#f1f1f1"/><stop offset="21.60%" stop-color="#cdcdcd"/><stop offset="27.78%" stop-color="#bebebe"/><stop offset="35.49%" stop-color="#b6b6b6"/><stop offset="46.30%" stop-color="#b4b4b4"/><stop offset="57.10%" stop-color="#b5b5b5"/><stop offset="66.36%" stop-color="#bebebe"/><stop offset="72.53%" stop-color="#cdcdcd"/><stop offset="80.25%" stop-color="#ececec"/><stop offset="84.88%" stop-color="#f6f6f6"/><stop offset="100.31%" stop-color="#f8f8f8"/></linearGradient><linearGradient id="g3_0" gradientUnits="userSpaceOnUse" x1="0" y1="174.6" x2="0" y2="191.7"><stop offset="0.00%" stop-color="#f8f8f8"/><stop offset="99.42%" stop-color="#f8f8f8"/></linearGradient><linearGradient id="g3_1" gradientUnits="userSpaceOnUse" x1="0" y1="174.6" x2="0" y2="191.7"><stop offset="0.00%" stop-color="#f8f8f8"/><stop offset="99.42%" stop-color="#f8f8f8"/></linearGradient><linearGradient id="g3_2" gradientUnits="userSpaceOnUse" x1="0" y1="174.6" x2="0" y2="191.7"><stop offset="0.00%" stop-color="#f8f8f8"/><stop offset="30.70%" stop-color="#f8f8f8"/><stop offset="35.09%" stop-color="#f5f5f5"/><stop offset="38.01%" stop-color="#ececec"/><stop offset="39.47%" stop-color="#e2e2e2"/><stop offset="46.78%" stop-color="#989898"/><stop offset="48.25%" stop-color="#8f8f8f"/><stop offset="51.17%" stop-color="#888888"/><stop offset="54.09%" stop-color="#8f8f8f"/><stop offset="55.56%" stop-color="#989898"/><stop offset="62.87%" stop-color="#e2e2e2"/><stop offset="64.33%" stop-color="#ececec"/><stop offset="67.25%" stop-color="#f5f5f5"/><stop offset="71.64%" stop-color="#f8f8f8"/><stop offset="99.42%" stop-color="#f8f8f8"/></linearGradient><linearGradient id="g3_3" gradientUnits="userSpaceOnUse" x1="0" y1="174.6" x2="0" y2="191.7"><stop offset="0.00%" stop-color="#f8f8f8"/><stop offset="27.78%" stop-color="#f8f8f8"/><stop offset="32.16%" stop-color="#f3f3f3"/><stop offset="33.63%" stop-color="#eeeeee"/><stop offset="35.09%" stop-color="#e3e3e3"/><stop offset="36.55%" stop-color="#d3d3d3"/><stop offset="38.01%" stop-color="#bebebe"/><stop offset="42.40%" stop-color="#6c6c6c"/><stop offset="43.86%" stop-color="#575757"/><stop offset="45.32%" stop-color="#474747"/><stop offset="46.78%" stop-color="#3c3c3c"/><stop offset="48.25%" stop-color="#373737"/><stop offset="51.17%" stop-color="#333333"/><stop offset="54.09%" stop-color="#373737"/><stop offset="55.56%" stop-color="#3c3c3c"/><stop offset="57.02%" stop-color="#474747"/><stop offset="58.48%" stop-color="#575757"/><stop offset="59.94%" stop-color="#6c6c6c"/><stop offset="64.33%" stop-color="#bebebe"/><stop offset="65.79%" stop-color="#d3d3d3"/><stop offset="67.25%" stop-color="#e3e3e3"/><stop offset="68.71%" stop-color="#eeeeee"/><stop offset="70.18%" stop-color="#f3f3f3"/><stop offset="73.10%" stop-color="#f7f7f7"/><stop offset="99.42%" stop-color="#f8f8f8"/></linearGradient><linearGradient id="g3_4" gradientUnits="userSpaceOnUse" x1="0" y1="174.6" x2="0" y2="191.7"><stop offset="0.00%" stop-color="#f8f8f8"/><stop offset="27.78%" stop-color="#f8f8f8"/><stop offset="32.16%" stop-color="#f3f3f3"/><stop offset="33.63%" stop-color="#eeeeee"/><stop offset="35.09%" stop-color="#e4e4e4"/><stop offset="36.55%" stop-color="#d4d4d4"/><stop offset="38.01%" stop-color="#bfbfbf"/><stop offset="42.40%" stop-color="#707070"/><stop offset="43.86%" stop-color="#5b5b5b"/><stop offset="45.32%" stop-color="#4b4b4b"/><stop offset="46.78%" stop-color="#414141"/><stop offset="48.25%" stop-color="#3c3c3c"/><stop offset="51.17%" stop-color="#383838"/><stop offset="54.09%" stop-color="#3c3c3c"/><stop offset="55.56%" stop-color="#414141"/><stop offset="57.02%" stop-color="#4b4b4b"/><stop offset="58.48%" stop-color="#5b5b5b"/><stop offset="59.94%" stop-color="#707070"/><stop offset="64.33%" stop-color="#bfbfbf"/><stop offset="65.79%" stop-color="#d4d4d4"/><stop offset="67.25%" stop-color="#e4e4e4"/><stop offset="68.71%" stop-color="#eeeeee"/><stop offset="70.18%" stop-color="#f3f3f3"/><stop offset="73.10%" stop-color="#f7f7f7"/><stop offset="99.42%" stop-color="#f8f8f8"/></linearGradient><linearGradient id="g3_5" gradientUnits="userSpaceOnUse" x1="0" y1="174.6" x2="0" y2="191.7"><stop offset="0.00%" stop-color="#f8f8f8"/><stop offset="32.16%" stop-color="#f8f8f8"/><stop offset="45.32%" stop-color="#ececec"/><stop offset="51.17%" stop-color="#ebebeb"/><stop offset="58.48%" stop-color="#ececec"/><stop offset="70.18%" stop-color="#f7f7f7"/><stop offset="99.42%" stop-color="#f8f8f8"/></linearGradient><linearGradient id="g3_6" gradientUnits="userSpaceOnUse" x1="0" y1="174.6" x2="0" y2="191.7"><stop offset="0.00%" stop-color="#f8f8f8"/><stop offset="99.42%" stop-color="#f8f8f8"/></linearGradient><linearGradient id="g3_7" gradientUnits="userSpaceOnUse" x1="0" y1="174.6" x2="0" y2="191.7"><stop offset="0.00%" stop-color="#f8f8f8"/><stop offset="29.24%" stop-color="#f8f8f8"/><stop offset="33.63%" stop-color="#f4f4f4"/><stop offset="36.55%" stop-color="#e9e9e9"/><stop offset="38.01%" stop-color="#dddddd"/><stop offset="39.47%" stop-color="#cccccc"/><stop offset="43.86%" stop-color="#909090"/><stop offset="45.32%" stop-color="#7f7f7f"/><stop offset="46.78%" stop-color="#747474"/><stop offset="49.71%" stop-color="#696969"/><stop offset="52.63%" stop-color="#6c6c6c"/><stop offset="54.09%" stop-color="#747474"/><stop offset="55.56%" stop-color="#7f7f7f"/><stop offset="57.02%" stop-color="#909090"/><stop offset="61.40%" stop-color="#cccccc"/><stop offset="62.87%" stop-color="#dddddd"/><stop offset="64.33%" stop-color="#e9e9e9"/><stop offset="67.25%" stop-color="#f4f4f4"/><stop offset="71.64%" stop-color="#f8f8f8"/><stop offset="99.42%" stop-color="#f8f8f8"/></linearGradient><linearGradient id="g4_0" gradientUnits="userSpaceOnUse" x1="0" y1="194.6" x2="0" y2="211.1"><stop offset="0.00%" stop-color="#f8f8f8"/><stop offset="42.42%" stop-color="#f7f7f7"/><stop offset="46.97%" stop-color="#f4f4f4"/><stop offset="56.06%" stop-color="#e5e5e5"/><stop offset="59.09%" stop-color="#e6e6e6"/><stop offset="69.70%" stop-color="#f7f7f7"/><stop offset="100.00%" stop-color="#f8f8f8"/></linearGradient><linearGradient id="g4_1" gradientUnits="userSpaceOnUse" x1="0" y1="194.6" x2="0" y2="211.1"><stop offset="0.00%" stop-color="#f8f8f8"/><stop offset="31.82%" stop-color="#f8f8f8"/><stop offset="36.36%" stop-color="#f4f4f4"/><stop offset="39.39%" stop-color="#e8e8e8"/><stop offset="40.91%" stop-color="#dcdcdc"/><stop offset="42.42%" stop-color="#cbcbcb"/><stop offset="46.97%" stop-color="#8c8c8c"/><stop offset="48.48%" stop-color="#7b7b7b"/><stop offset="50.00%" stop-color="#6f6f6f"/><stop offset="53.03%" stop-color="#636363"/><stop offset="56.06%" stop-color="#606060"/><stop offset="60.61%" stop-color="#636363"/><stop offset="63.64%" stop-color="#6f6f6f"/><stop offset="65.15%" stop-color="#7b7b7b"/><stop offset="66.67%" stop-color="#8c8c8c"/><stop offset="71.21%" stop-color="#cbcbcb"/><stop offset="72.73%" stop-color="#dcdcdc"/><stop offset="74.24%" stop-color="#e8e8e8"/><stop offset="75.76%" stop-color="#f0f0f0"/><stop offset="80.30%" stop-color="#f8f8f8"/><stop offset="100.00%" stop-color="#f8f8f8"/></linearGradient><linearGradient id="g4_2" gradientUnits="userSpaceOnUse" x1="0" y1="194.6" x2="0" y2="211.1"><stop offset="0.00%" stop-color="#f8f8f8"/><stop offset="39.39%" stop-color="#f6f6f6"/><stop offset="42.42%" stop-color="#efefef"/><stop offset="43.94%" stop-color="#e8e8e8"/><stop offset="51.52%" stop-color="#b0b0b0"/><stop offset="53.03%" stop-color="#a9a9a9"/><stop offset="56.06%" stop-color="#a3a3a3"/><stop offset="59.09%" stop-color="#a5a5a5"/><stop offset="62.12%" stop-color="#b0b0b0"/><stop offset="69.70%" stop-color="#e8e8e8"/><stop offset="72.73%" stop-color="#f3f3f3"/><stop offset="77.27%" stop-color="#f8f8f8"/><stop offset="100.00%" stop-color="#f8f8f8"/></linearGradient><linearGradient id="g4_3" gradientUnits="userSpaceOnUse" x1="0" y1="194.6" x2="0" y2="211.1"><stop offset="0.00%" stop-color="#f8f8f8"/><stop offset="39.39%" stop-color="#f6f6f6"/><stop offset="42.42%" stop-color="#eeeeee"/><stop offset="43.94%" stop-color="#e6e6e6"/><stop offset="51.52%" stop-color="#a8a8a8"/><stop offset="53.03%" stop-color="#a0a0a0"/><stop offset="56.06%" stop-color="#999999"/><stop offset="59.09%" stop-color="#9b9b9b"/><stop offset="62.12%" stop-color="#a8a8a8"/><stop offset="69.70%" stop-color="#e6e6e6"/><stop offset="72.73%" stop-color="#f3f3f3"/><stop offset="77.27%" stop-color="#f8f8f8"/><stop offset="100.00%" stop-color="#f8f8f8"/></linearGradient><linearGradient id="g4_4" gradientUnits="userSpaceOnUse" x1="0" y1="194.6" x2="0" y2="211.1"><stop offset="0.00%" stop-color="#f8f8f8"/><stop offset="30.30%" stop-color="#f8f8f8"/><stop offset="34.85%" stop-color="#f4f4f4"/><stop offset="37.88%" stop-color="#e6e6e6"/><stop offset="39.39%" stop-color="#d9d9d9"/><stop offset="40.91%" stop-color="#c6c6c6"/><stop offset="45.45%" stop-color="#828282"/><stop offset="46.97%" stop-color="#6f6f6f"/><stop offset="48.48%" stop-color="#626262"/><stop offset="51.52%" stop-color="#545454"/><stop offset="56.06%" stop-color="#505050"/><stop offset="62.12%" stop-color="#545454"/><stop offset="65.15%" stop-color="#626262"/><stop offset="66.67%" stop-color="#6f6f6f"/><stop offset="68.18%" stop-color="#828282"/><stop offset="72.73%" stop-color="#c6c6c6"/><stop offset="74.24%" stop-color="#d9d9d9"/><stop offset="75.76%" stop-color="#e6e6e6"/><stop offset="77.27%" stop-color="#efefef"/><stop offset="78.79%" stop-color="#f4f4f4"/><stop offset="81.82%" stop-color="#f7f7f7"/><stop offset="100.00%" stop-color="#f8f8f8"/></linearGradient><linearGradient id="g4_5" gradientUnits="userSpaceOnUse" x1="0" y1="194.6" x2="0" y2="211.1"><stop offset="0.00%" stop-color="#f8f8f8"/><stop offset="27.27%" stop-color="#f8f8f8"/><stop offset="31.82%" stop-color="#f4f4f4"/><stop offset="33.33%" stop-color="#eeeeee"/><stop offset="34.85%" stop-color="#e5e5e5"/><stop offset="36.36%" stop-color="#d6d6d6"/><stop offset="37.88%" stop-color="#c2c2c2"/><stop offset="42.42%" stop-color="#777777"/><stop offset="43.94%" stop-color="#636363"/><stop offset="45.45%" stop-color="#545454"/><stop offset="46.97%" stop-color="#4b4b4b"/><stop offset="48.48%" stop-color="#454545"/><stop offset="54.55%" stop-color="#414141"/><stop offset="63.64%" stop-color="#434343"/><stop offset="66.67%" stop-color="#4b4b4b"/><stop offset="68.18%" stop-color="#545454"/><stop offset="69.70%" stop-color="#636363"/><stop offset="71.21%" stop-color="#777777"/><stop offset="75.76%" stop-color="#c2c2c2"/><stop offset="77.27%" stop-color="#d6d6d6"/><stop offset="78.79%" stop-color="#e5e5e5"/><stop offset="80.30%" stop-color="#eeeeee"/><stop offset="81.82%" stop-color="#f4f4f4"/><stop offset="84.85%" stop-color="#f7f7f7"/><stop offset="100.00%" stop-color="#f8f8f8"/></linearGradient><linearGradient id="g4_6" gradientUnits="userSpaceOnUse" x1="0" y1="194.6" x2="0" y2="211.1"><stop offset="0.00%" stop-color="#f8f8f8"/><stop offset="100.00%" stop-color="#f8f8f8"/></linearGradient><linearGradient id="g4_7" gradientUnits="userSpaceOnUse" x1="0" y1="194.6" x2="0" y2="211.1"><stop offset="0.00%" stop-color="#f8f8f8"/><stop offset="39.39%" stop-color="#f6f6f6"/><stop offset="42.42%" stop-color="#efefef"/><stop offset="43.94%" stop-color="#e9e9e9"/><stop offset="51.52%" stop-color="#b4b4b4"/><stop offset="53.03%" stop-color="#aeaeae"/><stop offset="56.06%" stop-color="#a8a8a8"/><stop offset="59.09%" stop-color="#aaaaaa"/><stop offset="62.12%" stop-color="#b4b4b4"/><stop offset="69.70%" stop-color="#e9e9e9"/><stop offset="72.73%" stop-color="#f4f4f4"/><stop offset="77.27%" stop-color="#f8f8f8"/><stop offset="100.00%" stop-color="#f8f8f8"/></linearGradient><linearGradient id="g5_0" gradientUnits="userSpaceOnUse" x1="0" y1="214.0" x2="0" y2="230.3"><stop offset="0.00%" stop-color="#f8f8f8"/><stop offset="99.69%" stop-color="#f8f8f8"/></linearGradient><linearGradient id="g5_1" gradientUnits="userSpaceOnUse" x1="0" y1="214.0" x2="0" y2="230.3"><stop offset="0.00%" stop-color="#f8f8f8"/><stop offset="35.28%" stop-color="#f7f7f7"/><stop offset="39.88%" stop-color="#efefef"/><stop offset="47.55%" stop-color="#d1d1d1"/><stop offset="52.15%" stop-color="#cacaca"/><stop offset="56.75%" stop-color="#d1d1d1"/><stop offset="64.42%" stop-color="#efefef"/><stop offset="67.48%" stop-color="#f5f5f5"/><stop offset="72.09%" stop-color="#f8f8f8"/><stop offset="99.69%" stop-color="#f8f8f8"/></linearGradient><linearGradient id="g5_2" gradientUnits="userSpaceOnUse" x1="0" y1="214.0" x2="0" y2="230.3"><stop offset="0.00%" stop-color="#f8f8f8"/><stop offset="29.14%" stop-color="#f8f8f8"/><stop offset="35.28%" stop-color="#f5f5f5"/><stop offset="38.34%" stop-color="#ececec"/><stop offset="46.01%" stop-color="#c5c5c5"/><stop offset="50.61%" stop-color="#bbbbbb"/><stop offset="53.68%" stop-color="#bdbdbd"/><stop offset="56.75%" stop-color="#c5c5c5"/><stop offset="64.42%" stop-color="#ececec"/><stop offset="67.48%" stop-color="#f5f5f5"/><stop offset="72.09%" stop-color="#f8f8f8"/><stop offset="99.69%" stop-color="#f8f8f8"/></linearGradient><linearGradient id="g5_3" gradientUnits="userSpaceOnUse" x1="0" y1="214.0" x2="0" y2="230.3"><stop offset="0.00%" stop-color="#f8f8f8"/><stop offset="24.54%" stop-color="#f8f8f8"/><stop offset="29.14%" stop-color="#f0f0f0"/><stop offset="30.67%" stop-color="#e9e9e9"/><stop offset="32.21%" stop-color="#dddddd"/><stop offset="33.74%" stop-color="#cccccc"/><stop offset="38.34%" stop-color="#909090"/><stop offset="39.88%" stop-color="#7f7f7f"/><stop offset="41.41%" stop-color="#737373"/><stop offset="44.48%" stop-color="#686868"/><stop offset="47.55%" stop-color="#666666"/><stop offset="50.61%" stop-color="#6c6c6c"/><stop offset="52.15%" stop-color="#737373"/><stop offset="53.68%" stop-color="#7f7f7f"/><stop offset="55.21%" stop-color="#909090"/><stop offset="59.82%" stop-color="#cccccc"/><stop offset="61.35%" stop-color="#dddddd"/><stop offset="62.88%" stop-color="#e9e9e9"/><stop offset="64.42%" stop-color="#f0f0f0"/><stop offset="67.48%" stop-color="#f7f7f7"/><stop offset="70.55%" stop-color="#f8f8f8"/><stop offset="99.69%" stop-color="#f8f8f8"/></linearGradient><linearGradient id="g5_4" gradientUnits="userSpaceOnUse" x1="0" y1="214.0" x2="0" y2="230.3"><stop offset="0.00%" stop-color="#f8f8f8"/><stop offset="27.61%" stop-color="#f8f8f8"/><stop offset="32.21%" stop-color="#f4f4f4"/><stop offset="35.28%" stop-color="#ebebeb"/><stop offset="41.41%" stop-color="#c5c5c5"/><stop offset="44.48%" stop-color="#b7b7b7"/><stop offset="47.55%" stop-color="#b1b1b1"/><stop offset="50.61%" stop-color="#afafaf"/><stop offset="55.21%" stop-color="#b1b1b1"/><stop offset="58.28%" stop-color="#b7b7b7"/><stop offset="61.35%" stop-color="#c5c5c5"/><stop offset="67.48%" stop-color="#ebebeb"/><stop offset="70.55%" stop-color="#f4f4f4"/><stop offset="75.15%" stop-color="#f8f8f8"/><stop offset="99.69%" stop-color="#f8f8f8"/></linearGradient><linearGradient id="g5_5" gradientUnits="userSpaceOnUse" x1="0" y1="214.0" x2="0" y2="230.3"><stop offset="0.00%" stop-color="#f8f8f8"/><stop offset="33.74%" stop-color="#f7f7f7"/><stop offset="38.34%" stop-color="#f2f2f2"/><stop offset="47.55%" stop-color="#dadada"/><stop offset="52.15%" stop-color="#d8d8d8"/><stop offset="58.28%" stop-color="#dddddd"/><stop offset="65.95%" stop-color="#f2f2f2"/><stop offset="69.02%" stop-color="#f6f6f6"/><stop offset="99.69%" stop-color="#f8f8f8"/></linearGradient><linearGradient id="g5_6" gradientUnits="userSpaceOnUse" x1="0" y1="214.0" x2="0" y2="230.3"><stop offset="0.00%" stop-color="#f8f8f8"/><stop offset="99.69%" stop-color="#f8f8f8"/></linearGradient><linearGradient id="g5_7" gradientUnits="userSpaceOnUse" x1="0" y1="214.0" x2="0" y2="230.3"><stop offset="0.00%" stop-color="#f8f8f8"/><stop offset="26.07%" stop-color="#f8f8f8"/><stop offset="30.67%" stop-color="#f1f1f1"/><stop offset="33.74%" stop-color="#dfdfdf"/><stop offset="35.28%" stop-color="#cfcfcf"/><stop offset="39.88%" stop-color="#979797"/><stop offset="41.41%" stop-color="#878787"/><stop offset="42.94%" stop-color="#7c7c7c"/><stop offset="46.01%" stop-color="#717171"/><stop offset="49.08%" stop-color="#6f6f6f"/><stop offset="52.15%" stop-color="#717171"/><stop offset="55.21%" stop-color="#7c7c7c"/><stop offset="56.75%" stop-color="#878787"/><stop offset="58.28%" stop-color="#979797"/><stop offset="62.88%" stop-color="#cfcfcf"/><stop offset="64.42%" stop-color="#dfdfdf"/><stop offset="67.48%" stop-color="#f1f1f1"/><stop offset="72.09%" stop-color="#f8f8f8"/><stop offset="99.69%" stop-color="#f8f8f8"/></linearGradient><linearGradient id="g6_0" gradientUnits="userSpaceOnUse" x1="0" y1="233.2" x2="0" y2="309.8"><stop offset="0.00%" stop-color="#f8f8f8"/><stop offset="99.87%" stop-color="#f8f8f8"/></linearGradient><linearGradient id="g6_1" gradientUnits="userSpaceOnUse" x1="0" y1="233.2" x2="0" y2="309.8"><stop offset="0.00%" stop-color="#f8f8f8"/><stop offset="99.87%" stop-color="#f8f8f8"/></linearGradient><linearGradient id="g6_2" gradientUnits="userSpaceOnUse" x1="0" y1="233.2" x2="0" y2="309.8"><stop offset="0.00%" stop-color="#f2f2f2"/><stop offset="1.31%" stop-color="#e8e8e8"/><stop offset="2.61%" stop-color="#e5e5e5"/><stop offset="3.59%" stop-color="#e8e8e8"/><stop offset="5.55%" stop-color="#f6f6f6"/><stop offset="6.53%" stop-color="#f5f5f5"/><stop offset="7.18%" stop-color="#eaeaea"/><stop offset="7.51%" stop-color="#dfdfdf"/><stop offset="7.83%" stop-color="#d1d1d1"/><stop offset="8.81%" stop-color="#9a9a9a"/><stop offset="9.14%" stop-color="#8c8c8c"/><stop offset="9.46%" stop-color="#818181"/><stop offset="10.12%" stop-color="#767676"/><stop offset="11.10%" stop-color="#747474"/><stop offset="11.75%" stop-color="#767676"/><stop offset="12.40%" stop-color="#818181"/><stop offset="12.73%" stop-color="#8c8c8c"/><stop offset="13.05%" stop-color="#9a9a9a"/><stop offset="14.03%" stop-color="#d1d1d1"/><stop offset="14.36%" stop-color="#dfdfdf"/><stop offset="15.01%" stop-color="#f1f1f1"/><stop offset="15.99%" stop-color="#f8f8f8"/><stop offset="63.32%" stop-color="#f8f8f8"/><stop offset="64.62%" stop-color="#f4f4f4"/><stop offset="66.58%" stop-color="#d5d5d5"/><stop offset="67.23%" stop-color="#d2d2d2"/><stop offset="67.89%" stop-color="#d5d5d5"/><stop offset="69.52%" stop-color="#f0f0f0"/><stop offset="70.82%" stop-color="#f8f8f8"/><stop offset="99.87%" stop-color="#f8f8f8"/></linearGradient><linearGradient id="g6_3" gradientUnits="userSpaceOnUse" x1="0" y1="233.2" x2="0" y2="309.8"><stop offset="0.00%" stop-color="#5f5f5f"/><stop offset="3.59%" stop-color="#616161"/><stop offset="4.24%" stop-color="#676767"/><stop offset="5.22%" stop-color="#767676"/><stop offset="5.87%" stop-color="#797979"/><stop offset="6.20%" stop-color="#747474"/><stop offset="6.53%" stop-color="#6b6b6b"/><stop offset="7.83%" stop-color="#363636"/><stop offset="8.49%" stop-color="#292929"/><stop offset="9.46%" stop-color="#232323"/><stop offset="13.38%" stop-color="#242424"/><stop offset="14.03%" stop-color="#272727"/><stop offset="14.69%" stop-color="#333333"/><stop offset="15.99%" stop-color="#5e5e5e"/><stop offset="16.64%" stop-color="#6b6b6b"/><stop offset="17.30%" stop-color="#6d6d6d"/><stop offset="18.60%" stop-color="#666666"/><stop offset="20.23%" stop-color="#646464"/><stop offset="21.54%" stop-color="#656565"/><stop offset="22.19%" stop-color="#6b6b6b"/><stop offset="22.85%" stop-color="#7c7c7c"/><stop offset="23.17%" stop-color="#8a8a8a"/><stop offset="24.15%" stop-color="#bdbdbd"/><stop offset="24.48%" stop-color="#cacaca"/><stop offset="24.80%" stop-color="#d2d2d2"/><stop offset="25.46%" stop-color="#d9d9d9"/><stop offset="28.72%" stop-color="#dbdbdb"/><stop offset="31.33%" stop-color="#e7e7e7"/><stop offset="36.23%" stop-color="#e8e8e8"/><stop offset="37.86%" stop-color="#e6e6e6"/><stop offset="40.14%" stop-color="#d9d9d9"/><stop offset="41.45%" stop-color="#d7d7d7"/><stop offset="42.75%" stop-color="#dddddd"/><stop offset="45.04%" stop-color="#f5f5f5"/><stop offset="47.00%" stop-color="#f8f8f8"/><stop offset="49.93%" stop-color="#f8f8f8"/><stop offset="50.91%" stop-color="#f0f0f0"/><stop offset="51.24%" stop-color="#e9e9e9"/><stop offset="51.57%" stop-color="#dddddd"/><stop offset="51.89%" stop-color="#cccccc"/><stop offset="52.87%" stop-color="#909090"/><stop offset="53.20%" stop-color="#7f7f7f"/><stop offset="53.52%" stop-color="#737373"/><stop offset="54.18%" stop-color="#686868"/><stop offset="55.16%" stop-color="#656565"/><stop offset="55.81%" stop-color="#686868"/><stop offset="56.46%" stop-color="#737373"/><stop offset="56.79%" stop-color="#7f7f7f"/><stop offset="57.11%" stop-color="#909090"/><stop offset="58.09%" stop-color="#cccccc"/><stop offset="58.42%" stop-color="#dddddd"/><stop offset="58.75%" stop-color="#e9e9e9"/><stop offset="59.07%" stop-color="#f0f0f0"/><stop offset="60.05%" stop-color="#f8f8f8"/><stop offset="62.66%" stop-color="#f8f8f8"/><stop offset="63.64%" stop-color="#f3f3f3"/><stop offset="63.97%" stop-color="#ececec"/><stop offset="64.30%" stop-color="#e1e1e1"/><stop offset="64.62%" stop-color="#cfcfcf"/><stop offset="64.95%" stop-color="#b7b7b7"/><stop offset="65.93%" stop-color="#5d5d5d"/><stop offset="66.25%" stop-color="#454545"/><stop offset="66.58%" stop-color="#333333"/><stop offset="66.91%" stop-color="#282828"/><stop offset="67.23%" stop-color="#222222"/><stop offset="67.56%" stop-color="#202020"/><stop offset="67.89%" stop-color="#222222"/><stop offset="68.21%" stop-color="#282828"/><stop offset="68.54%" stop-color="#333333"/><stop offset="68.86%" stop-color="#454545"/><stop offset="69.19%" stop-color="#5d5d5d"/><stop offset="70.17%" stop-color="#b7b7b7"/><stop offset="70.50%" stop-color="#cfcfcf"/><stop offset="70.82%" stop-color="#e1e1e1"/><stop offset="71.15%" stop-color="#ececec"/><stop offset="71.80%" stop-color="#f6f6f6"/><stop offset="72.78%" stop-color="#f8f8f8"/><stop offset="99.87%" stop-color="#f8f8f8"/></linearGradient><linearGradient id="g6_4" gradientUnits="userSpaceOnUse" x1="0" y1="233.2" x2="0" y2="309.8"><stop offset="0.00%" stop-color="#696969"/><stop offset="3.59%" stop-color="#6b6b6b"/><stop offset="4.24%" stop-color="#717171"/><stop offset="5.22%" stop-color="#808080"/><stop offset="5.87%" stop-color="#828282"/><stop offset="6.20%" stop-color="#7d7d7d"/><stop offset="6.53%" stop-color="#737373"/><stop offset="7.83%" stop-color="#3c3c3c"/><stop offset="8.49%" stop-color="#2e2e2e"/><stop offset="9.46%" stop-color="#282828"/><stop offset="13.38%" stop-color="#292929"/><stop offset="14.03%" stop-color="#2d2d2d"/><stop offset="14.69%" stop-color="#393939"/><stop offset="15.99%" stop-color="#666666"/><stop offset="16.64%" stop-color="#757575"/><stop offset="17.30%" stop-color="#777777"/><stop offset="18.60%" stop-color="#707070"/><stop offset="20.23%" stop-color="#6e6e6e"/><stop offset="21.54%" stop-color="#6f6f6f"/><stop offset="22.19%" stop-color="#747474"/><stop offset="22.85%" stop-color="#848484"/><stop offset="24.15%" stop-color="#c0c0c0"/><stop offset="24.48%" stop-color="#cccccc"/><stop offset="24.80%" stop-color="#d4d4d4"/><stop offset="25.46%" stop-color="#dbdbdb"/><stop offset="28.72%" stop-color="#dddddd"/><stop offset="31.33%" stop-color="#e7e7e7"/><stop offset="36.55%" stop-color="#e8e8e8"/><stop offset="38.19%" stop-color="#e5e5e5"/><stop offset="40.14%" stop-color="#d9d9d9"/><stop offset="41.45%" stop-color="#d7d7d7"/><stop offset="42.75%" stop-color="#dddddd"/><stop offset="45.04%" stop-color="#f5f5f5"/><stop offset="46.67%" stop-color="#f8f8f8"/><stop offset="49.93%" stop-color="#f8f8f8"/><stop offset="50.91%" stop-color="#f1f1f1"/><stop offset="51.57%" stop-color="#dfdfdf"/><stop offset="51.89%" stop-color="#d1d1d1"/><stop offset="52.87%" stop-color="#9a9a9a"/><stop offset="53.20%" stop-color="#8c8c8c"/><stop offset="53.52%" stop-color="#818181"/><stop offset="54.18%" stop-color="#767676"/><stop offset="55.48%" stop-color="#747474"/><stop offset="56.14%" stop-color="#7a7a7a"/><stop offset="56.79%" stop-color="#8c8c8c"/><stop offset="57.11%" stop-color="#9a9a9a"/><stop offset="58.09%" stop-color="#d1d1d1"/><stop offset="58.42%" stop-color="#dfdfdf"/><stop offset="59.07%" stop-color="#f1f1f1"/><stop offset="60.05%" stop-color="#f8f8f8"/><stop offset="62.66%" stop-color="#f8f8f8"/><stop offset="63.64%" stop-color="#f3f3f3"/><stop offset="63.97%" stop-color="#ededed"/><stop offset="64.30%" stop-color="#e1e1e1"/><stop offset="64.62%" stop-color="#d0d0d0"/><stop offset="64.95%" stop-color="#b8b8b8"/><stop offset="65.93%" stop-color="#606060"/><stop offset="66.25%" stop-color="#484848"/><stop offset="66.58%" stop-color="#373737"/><stop offset="66.91%" stop-color="#2c2c2c"/><stop offset="67.56%" stop-color="#242424"/><stop offset="68.21%" stop-color="#2c2c2c"/><stop offset="68.54%" stop-color="#373737"/><stop offset="68.86%" stop-color="#484848"/><stop offset="69.19%" stop-color="#606060"/><stop offset="70.17%" stop-color="#b8b8b8"/><stop offset="70.50%" stop-color="#d0d0d0"/><stop offset="70.82%" stop-color="#e1e1e1"/><stop offset="71.15%" stop-color="#ededed"/><stop offset="71.80%" stop-color="#f6f6f6"/><stop offset="99.87%" stop-color="#f8f8f8"/></linearGradient><linearGradient id="g6_5" gradientUnits="userSpaceOnUse" x1="0" y1="233.2" x2="0" y2="309.8"><stop offset="0.00%" stop-color="#f8f8f8"/><stop offset="7.51%" stop-color="#f6f6f6"/><stop offset="8.16%" stop-color="#eeeeee"/><stop offset="8.49%" stop-color="#e6e6e6"/><stop offset="10.12%" stop-color="#a8a8a8"/><stop offset="10.44%" stop-color="#a0a0a0"/><stop offset="11.10%" stop-color="#999999"/><stop offset="11.75%" stop-color="#9b9b9b"/><stop offset="12.40%" stop-color="#a8a8a8"/><stop offset="13.71%" stop-color="#dbdbdb"/><stop offset="14.36%" stop-color="#eeeeee"/><stop offset="15.01%" stop-color="#f6f6f6"/><stop offset="15.67%" stop-color="#f8f8f8"/><stop offset="99.87%" stop-color="#f8f8f8"/></linearGradient><linearGradient id="g6_6" gradientUnits="userSpaceOnUse" x1="0" y1="233.2" x2="0" y2="309.8"><stop offset="0.00%" stop-color="#f8f8f8"/><stop offset="99.87%" stop-color="#f8f8f8"/></linearGradient><linearGradient id="g6_7" gradientUnits="userSpaceOnUse" x1="0" y1="233.2" x2="0" y2="309.8"><stop offset="0.00%" stop-color="#939393"/><stop offset="0.65%" stop-color="#9c9c9c"/><stop offset="0.98%" stop-color="#a4a4a4"/><stop offset="1.96%" stop-color="#c7c7c7"/><stop offset="2.61%" stop-color="#d7d7d7"/><stop offset="2.94%" stop-color="#d9d9d9"/><stop offset="3.92%" stop-color="#d1d1d1"/><stop offset="4.57%" stop-color="#cfcfcf"/><stop offset="5.22%" stop-color="#d7d7d7"/><stop offset="6.20%" stop-color="#e9e9e9"/><stop offset="6.85%" stop-color="#eeeeee"/><stop offset="7.18%" stop-color="#ebebeb"/><stop offset="7.51%" stop-color="#e2e2e2"/><stop offset="7.83%" stop-color="#d3d3d3"/><stop offset="8.16%" stop-color="#bdbdbd"/><stop offset="9.14%" stop-color="#6c6c6c"/><stop offset="9.46%" stop-color="#575757"/><stop offset="9.79%" stop-color="#474747"/><stop offset="10.12%" stop-color="#3c3c3c"/><stop offset="10.77%" stop-color="#343434"/><stop offset="12.40%" stop-color="#323232"/><stop offset="13.38%" stop-color="#373737"/><stop offset="13.71%" stop-color="#3c3c3c"/><stop offset="14.03%" stop-color="#474747"/><stop offset="14.36%" stop-color="#575757"/><stop offset="14.69%" stop-color="#6c6c6c"/><stop offset="15.67%" stop-color="#bebebe"/><stop offset="15.99%" stop-color="#d3d3d3"/><stop offset="16.32%" stop-color="#e3e3e3"/><stop offset="16.64%" stop-color="#ededed"/><stop offset="17.30%" stop-color="#f5f5f5"/><stop offset="17.62%" stop-color="#f4f4f4"/><stop offset="18.28%" stop-color="#ebebeb"/><stop offset="19.91%" stop-color="#c1c1c1"/><stop offset="20.56%" stop-color="#b9b9b9"/><stop offset="20.89%" stop-color="#b9b9b9"/><stop offset="21.54%" stop-color="#c1c1c1"/><stop offset="22.85%" stop-color="#e1e1e1"/><stop offset="23.17%" stop-color="#e5e5e5"/><stop offset="23.83%" stop-color="#e6e6e6"/><stop offset="24.80%" stop-color="#dedede"/><stop offset="25.46%" stop-color="#dcdcdc"/><stop offset="26.11%" stop-color="#e1e1e1"/><stop offset="27.42%" stop-color="#f2f2f2"/><stop offset="28.39%" stop-color="#f7f7f7"/><stop offset="50.91%" stop-color="#f8f8f8"/><stop offset="51.89%" stop-color="#f3f3f3"/><stop offset="52.55%" stop-color="#eaeaea"/><stop offset="53.85%" stop-color="#d1d1d1"/><stop offset="54.83%" stop-color="#cccccc"/><stop offset="55.48%" stop-color="#d1d1d1"/><stop offset="57.11%" stop-color="#efefef"/><stop offset="57.77%" stop-color="#f5f5f5"/><stop offset="63.32%" stop-color="#f8f8f8"/><stop offset="63.97%" stop-color="#f6f6f6"/><stop offset="64.62%" stop-color="#efefef"/><stop offset="65.27%" stop-color="#e0e0e0"/><stop offset="66.58%" stop-color="#b5b5b5"/><stop offset="67.23%" stop-color="#aeaeae"/><stop offset="67.89%" stop-color="#b5b5b5"/><stop offset="69.52%" stop-color="#e9e9e9"/><stop offset="70.17%" stop-color="#f4f4f4"/><stop offset="70.82%" stop-color="#f7f7f7"/><stop offset="99.87%" stop-color="#f8f8f8"/></linearGradient><linearGradient id="g7_0" gradientUnits="userSpaceOnUse" x1="0" y1="313.0" x2="0" y2="328.8"><stop offset="0.00%" stop-color="#f8f8f8"/><stop offset="36.39%" stop-color="#f7f7f7"/><stop offset="52.22%" stop-color="#eeeeee"/><stop offset="69.62%" stop-color="#f7f7f7"/><stop offset="99.68%" stop-color="#f8f8f8"/></linearGradient><linearGradient id="g7_1" gradientUnits="userSpaceOnUse" x1="0" y1="313.0" x2="0" y2="328.8"><stop offset="0.00%" stop-color="#f8f8f8"/><stop offset="37.97%" stop-color="#f6f6f6"/><stop offset="41.14%" stop-color="#eeeeee"/><stop offset="42.72%" stop-color="#e6e6e6"/><stop offset="49.05%" stop-color="#b4b4b4"/><stop offset="50.63%" stop-color="#aaaaaa"/><stop offset="52.22%" stop-color="#a5a5a5"/><stop offset="53.80%" stop-color="#a5a5a5"/><stop offset="55.38%" stop-color="#aaaaaa"/><stop offset="56.96%" stop-color="#b4b4b4"/><stop offset="63.29%" stop-color="#e6e6e6"/><stop offset="64.87%" stop-color="#eeeeee"/><stop offset="68.04%" stop-color="#f6f6f6"/><stop offset="99.68%" stop-color="#f8f8f8"/></linearGradient><linearGradient id="g7_2" gradientUnits="userSpaceOnUse" x1="0" y1="313.0" x2="0" y2="328.8"><stop offset="0.00%" stop-color="#f8f8f8"/><stop offset="28.48%" stop-color="#f7f7f7"/><stop offset="31.65%" stop-color="#f3f3f3"/><stop offset="33.23%" stop-color="#ededed"/><stop offset="34.81%" stop-color="#e3e3e3"/><stop offset="36.39%" stop-color="#d3d3d3"/><stop offset="37.97%" stop-color="#bcbcbc"/><stop offset="42.72%" stop-color="#696969"/><stop offset="44.30%" stop-color="#525252"/><stop offset="45.89%" stop-color="#424242"/><stop offset="47.47%" stop-color="#383838"/><stop offset="49.05%" stop-color="#323232"/><stop offset="52.22%" stop-color="#2e2e2e"/><stop offset="55.38%" stop-color="#323232"/><stop offset="56.96%" stop-color="#383838"/><stop offset="58.54%" stop-color="#424242"/><stop offset="60.13%" stop-color="#525252"/><stop offset="61.71%" stop-color="#696969"/><stop offset="66.46%" stop-color="#bcbcbc"/><stop offset="68.04%" stop-color="#d3d3d3"/><stop offset="69.62%" stop-color="#e3e3e3"/><stop offset="71.20%" stop-color="#ededed"/><stop offset="72.78%" stop-color="#f3f3f3"/><stop offset="75.95%" stop-color="#f7f7f7"/><stop offset="99.68%" stop-color="#f8f8f8"/></linearGradient><linearGradient id="g7_3" gradientUnits="userSpaceOnUse" x1="0" y1="313.0" x2="0" y2="328.8"><stop offset="0.00%" stop-color="#f8f8f8"/><stop offset="20.57%" stop-color="#f7f7f7"/><stop offset="23.73%" stop-color="#f3f3f3"/><stop offset="25.32%" stop-color="#ececec"/><stop offset="26.90%" stop-color="#e1e1e1"/><stop offset="28.48%" stop-color="#d0d0d0"/><stop offset="30.06%" stop-color="#b8b8b8"/><stop offset="34.81%" stop-color="#5e5e5e"/><stop offset="36.39%" stop-color="#464646"/><stop offset="37.97%" stop-color="#353535"/><stop offset="39.56%" stop-color="#2a2a2a"/><stop offset="41.14%" stop-color="#232323"/><stop offset="47.47%" stop-color="#1e1e1e"/><stop offset="52.22%" stop-color="#1f1f1f"/><stop offset="55.38%" stop-color="#232323"/><stop offset="56.96%" stop-color="#2a2a2a"/><stop offset="58.54%" stop-color="#353535"/><stop offset="60.13%" stop-color="#464646"/><stop offset="61.71%" stop-color="#5e5e5e"/><stop offset="66.46%" stop-color="#b8b8b8"/><stop offset="68.04%" stop-color="#d0d0d0"/><stop offset="69.62%" stop-color="#e1e1e1"/><stop offset="71.20%" stop-color="#ececec"/><stop offset="72.78%" stop-color="#f3f3f3"/><stop offset="75.95%" stop-color="#f7f7f7"/><stop offset="99.68%" stop-color="#f8f8f8"/></linearGradient><linearGradient id="g7_4" gradientUnits="userSpaceOnUse" x1="0" y1="313.0" x2="0" y2="328.8"><stop offset="0.00%" stop-color="#f8f8f8"/><stop offset="26.90%" stop-color="#f8f8f8"/><stop offset="31.65%" stop-color="#f3f3f3"/><stop offset="33.23%" stop-color="#ededed"/><stop offset="34.81%" stop-color="#e3e3e3"/><stop offset="36.39%" stop-color="#d3d3d3"/><stop offset="37.97%" stop-color="#bcbcbc"/><stop offset="42.72%" stop-color="#696969"/><stop offset="44.30%" stop-color="#525252"/><stop offset="45.89%" stop-color="#424242"/><stop offset="47.47%" stop-color="#383838"/><stop offset="49.05%" stop-color="#323232"/><stop offset="55.38%" stop-color="#2d2d2d"/><stop offset="61.71%" stop-color="#323232"/><stop offset="63.29%" stop-color="#383838"/><stop offset="64.87%" stop-color="#424242"/><stop offset="66.46%" stop-color="#525252"/><stop offset="68.04%" stop-color="#696969"/><stop offset="72.78%" stop-color="#bcbcbc"/><stop offset="74.37%" stop-color="#d3d3d3"/><stop offset="75.95%" stop-color="#e3e3e3"/><stop offset="77.53%" stop-color="#ededed"/><stop offset="79.11%" stop-color="#f3f3f3"/><stop offset="82.28%" stop-color="#f7f7f7"/><stop offset="99.68%" stop-color="#f8f8f8"/></linearGradient><linearGradient id="g7_5" gradientUnits="userSpaceOnUse" x1="0" y1="313.0" x2="0" y2="328.8"><stop offset="0.00%" stop-color="#f8f8f8"/><stop offset="28.48%" stop-color="#f7f7f7"/><stop offset="31.65%" stop-color="#f3f3f3"/><stop offset="33.23%" stop-color="#ededed"/><stop offset="34.81%" stop-color="#e3e3e3"/><stop offset="36.39%" stop-color="#d3d3d3"/><stop offset="37.97%" stop-color="#bcbcbc"/><stop offset="42.72%" stop-color="#696969"/><stop offset="44.30%" stop-color="#525252"/><stop offset="45.89%" stop-color="#424242"/><stop offset="47.47%" stop-color="#383838"/><stop offset="49.05%" stop-color="#323232"/><stop offset="52.22%" stop-color="#2e2e2e"/><stop offset="56.96%" stop-color="#323232"/><stop offset="58.54%" stop-color="#383838"/><stop offset="60.13%" stop-color="#424242"/><stop offset="61.71%" stop-color="#525252"/><stop offset="63.29%" stop-color="#696969"/><stop offset="68.04%" stop-color="#bcbcbc"/><stop offset="69.62%" stop-color="#d3d3d3"/><stop offset="71.20%" stop-color="#e3e3e3"/><stop offset="72.78%" stop-color="#ededed"/><stop offset="74.37%" stop-color="#f3f3f3"/><stop offset="77.53%" stop-color="#f7f7f7"/><stop offset="99.68%" stop-color="#f8f8f8"/></linearGradient><linearGradient id="g7_6" gradientUnits="userSpaceOnUse" x1="0" y1="313.0" x2="0" y2="328.8"><stop offset="0.00%" stop-color="#f8f8f8"/><stop offset="99.68%" stop-color="#f8f8f8"/></linearGradient><linearGradient id="g7_7" gradientUnits="userSpaceOnUse" x1="0" y1="313.0" x2="0" y2="328.8"><stop offset="0.00%" stop-color="#f8f8f8"/><stop offset="25.32%" stop-color="#f7f7f7"/><stop offset="28.48%" stop-color="#f3f3f3"/><stop offset="30.06%" stop-color="#ededed"/><stop offset="31.65%" stop-color="#e3e3e3"/><stop offset="33.23%" stop-color="#d3d3d3"/><stop offset="34.81%" stop-color="#bcbcbc"/><stop offset="39.56%" stop-color="#696969"/><stop offset="41.14%" stop-color="#525252"/><stop offset="42.72%" stop-color="#424242"/><stop offset="44.30%" stop-color="#383838"/><stop offset="45.89%" stop-color="#323232"/><stop offset="52.22%" stop-color="#2d2d2d"/><stop offset="56.96%" stop-color="#2e2e2e"/><stop offset="60.13%" stop-color="#323232"/><stop offset="61.71%" stop-color="#383838"/><stop offset="63.29%" stop-color="#424242"/><stop offset="64.87%" stop-color="#525252"/><stop offset="66.46%" stop-color="#696969"/><stop offset="71.20%" stop-color="#bcbcbc"/><stop offset="72.78%" stop-color="#d3d3d3"/><stop offset="74.37%" stop-color="#e3e3e3"/><stop offset="75.95%" stop-color="#ededed"/><stop offset="77.53%" stop-color="#f3f3f3"/><stop offset="80.70%" stop-color="#f7f7f7"/><stop offset="99.68%" stop-color="#f8f8f8"/></linearGradient><linearGradient id="g8_0" gradientUnits="userSpaceOnUse" x1="0" y1="332.0" x2="0" y2="348.9"><stop offset="0.00%" stop-color="#f8f8f8"/><stop offset="22.19%" stop-color="#f7f7f7"/><stop offset="36.98%" stop-color="#ececec"/><stop offset="53.25%" stop-color="#f8f8f8"/><stop offset="100.59%" stop-color="#f8f8f8"/></linearGradient><linearGradient id="g8_1" gradientUnits="userSpaceOnUse" x1="0" y1="332.0" x2="0" y2="348.9"><stop offset="0.00%" stop-color="#f8f8f8"/><stop offset="22.19%" stop-color="#f5f5f5"/><stop offset="25.15%" stop-color="#efefef"/><stop offset="32.54%" stop-color="#d1d1d1"/><stop offset="36.98%" stop-color="#cacaca"/><stop offset="41.42%" stop-color="#d1d1d1"/><stop offset="48.82%" stop-color="#eeeeee"/><stop offset="51.78%" stop-color="#f3f3f3"/><stop offset="62.13%" stop-color="#ededed"/><stop offset="73.96%" stop-color="#f7f7f7"/><stop offset="100.59%" stop-color="#f8f8f8"/></linearGradient><linearGradient id="g8_2" gradientUnits="userSpaceOnUse" x1="0" y1="332.0" x2="0" y2="348.9"><stop offset="0.00%" stop-color="#f8f8f8"/><stop offset="22.19%" stop-color="#f7f7f7"/><stop offset="25.15%" stop-color="#f3f3f3"/><stop offset="32.54%" stop-color="#e1e1e1"/><stop offset="36.98%" stop-color="#dddddd"/><stop offset="41.42%" stop-color="#e1e1e1"/><stop offset="47.34%" stop-color="#efefef"/><stop offset="50.30%" stop-color="#f2f2f2"/><stop offset="53.25%" stop-color="#efefef"/><stop offset="59.17%" stop-color="#e2e2e2"/><stop offset="62.13%" stop-color="#e0e0e0"/><stop offset="73.96%" stop-color="#f7f7f7"/><stop offset="100.59%" stop-color="#f8f8f8"/></linearGradient><linearGradient id="g8_3" gradientUnits="userSpaceOnUse" x1="0" y1="332.0" x2="0" y2="348.9"><stop offset="0.00%" stop-color="#f8f8f8"/><stop offset="17.75%" stop-color="#f8f8f8"/><stop offset="22.19%" stop-color="#f3f3f3"/><stop offset="25.15%" stop-color="#e8e8e8"/><stop offset="32.54%" stop-color="#b0b0b0"/><stop offset="34.02%" stop-color="#a9a9a9"/><stop offset="36.98%" stop-color="#a3a3a3"/><stop offset="39.94%" stop-color="#a5a5a5"/><stop offset="41.42%" stop-color="#a9a9a9"/><stop offset="47.34%" stop-color="#c9c9c9"/><stop offset="48.82%" stop-color="#cdcdcd"/><stop offset="50.30%" stop-color="#c9c9c9"/><stop offset="51.78%" stop-color="#bdbdbd"/><stop offset="53.25%" stop-color="#ababab"/><stop offset="56.21%" stop-color="#818181"/><stop offset="57.69%" stop-color="#6f6f6f"/><stop offset="59.17%" stop-color="#626262"/><stop offset="60.65%" stop-color="#5a5a5a"/><stop offset="62.13%" stop-color="#585858"/><stop offset="63.61%" stop-color="#5a5a5a"/><stop offset="65.09%" stop-color="#626262"/><stop offset="66.57%" stop-color="#6f6f6f"/><stop offset="68.05%" stop-color="#828282"/><stop offset="72.49%" stop-color="#c6c6c6"/><stop offset="73.96%" stop-color="#d9d9d9"/><stop offset="75.44%" stop-color="#e6e6e6"/><stop offset="76.92%" stop-color="#efefef"/><stop offset="78.40%" stop-color="#f4f4f4"/><stop offset="81.36%" stop-color="#f7f7f7"/><stop offset="100.59%" stop-color="#f8f8f8"/></linearGradient><linearGradient id="g8_4" gradientUnits="userSpaceOnUse" x1="0" y1="332.0" x2="0" y2="348.9"><stop offset="0.00%" stop-color="#f8f8f8"/><stop offset="11.83%" stop-color="#f8f8f8"/><stop offset="16.27%" stop-color="#f3f3f3"/><stop offset="19.23%" stop-color="#e6e6e6"/><stop offset="26.63%" stop-color="#a8a8a8"/><stop offset="28.11%" stop-color="#a0a0a0"/><stop offset="31.07%" stop-color="#989898"/><stop offset="35.50%" stop-color="#969696"/><stop offset="39.94%" stop-color="#9b9b9b"/><stop offset="42.90%" stop-color="#a6a6a6"/><stop offset="45.86%" stop-color="#b7b7b7"/><stop offset="47.34%" stop-color="#bbbbbb"/><stop offset="48.82%" stop-color="#bababa"/><stop offset="50.30%" stop-color="#b1b1b1"/><stop offset="51.78%" stop-color="#a1a1a1"/><stop offset="54.73%" stop-color="#787878"/><stop offset="56.21%" stop-color="#666666"/><stop offset="57.69%" stop-color="#585858"/><stop offset="59.17%" stop-color="#4f4f4f"/><stop offset="62.13%" stop-color="#494949"/><stop offset="65.09%" stop-color="#505050"/><stop offset="66.57%" stop-color="#595959"/><stop offset="68.05%" stop-color="#676767"/><stop offset="69.53%" stop-color="#7b7b7b"/><stop offset="73.96%" stop-color="#c3c3c3"/><stop offset="75.44%" stop-color="#d7d7d7"/><stop offset="76.92%" stop-color="#e5e5e5"/><stop offset="78.40%" stop-color="#efefef"/><stop offset="79.88%" stop-color="#f4f4f4"/><stop offset="82.84%" stop-color="#f7f7f7"/><stop offset="100.59%" stop-color="#f8f8f8"/></linearGradient><linearGradient id="g8_5" gradientUnits="userSpaceOnUse" x1="0" y1="332.0" x2="0" y2="348.9"><stop offset="0.00%" stop-color="#f8f8f8"/><stop offset="17.75%" stop-color="#f8f8f8"/><stop offset="22.19%" stop-color="#f4f4f4"/><stop offset="25.15%" stop-color="#e9e9e9"/><stop offset="32.54%" stop-color="#b4b4b4"/><stop offset="34.02%" stop-color="#aeaeae"/><stop offset="36.98%" stop-color="#a9a9a9"/><stop offset="39.94%" stop-color="#aeaeae"/><stop offset="41.42%" stop-color="#b4b4b4"/><stop offset="47.34%" stop-color="#dcdcdc"/><stop offset="50.30%" stop-color="#e6e6e6"/><stop offset="51.78%" stop-color="#e5e5e5"/><stop offset="57.69%" stop-color="#dadada"/><stop offset="62.13%" stop-color="#d9d9d9"/><stop offset="65.09%" stop-color="#dddddd"/><stop offset="72.49%" stop-color="#f2f2f2"/><stop offset="75.44%" stop-color="#f6f6f6"/><stop offset="100.59%" stop-color="#f8f8f8"/></linearGradient><linearGradient id="g8_6" gradientUnits="userSpaceOnUse" x1="0" y1="332.0" x2="0" y2="348.9"><stop offset="0.00%" stop-color="#f8f8f8"/><stop offset="22.19%" stop-color="#f7f7f7"/><stop offset="36.98%" stop-color="#ececec"/><stop offset="53.25%" stop-color="#f8f8f8"/><stop offset="100.59%" stop-color="#f8f8f8"/></linearGradient><linearGradient id="g8_7" gradientUnits="userSpaceOnUse" x1="0" y1="332.0" x2="0" y2="348.9"><stop offset="0.00%" stop-color="#f8f8f8"/><stop offset="22.19%" stop-color="#f5f5f5"/><stop offset="25.15%" stop-color="#efefef"/><stop offset="32.54%" stop-color="#d1d1d1"/><stop offset="36.98%" stop-color="#cacaca"/><stop offset="41.42%" stop-color="#d1d1d1"/><stop offset="45.86%" stop-color="#e0e0e0"/><stop offset="48.82%" stop-color="#e3e3e3"/><stop offset="51.78%" stop-color="#d8d8d8"/><stop offset="56.21%" stop-color="#c0c0c0"/><stop offset="57.69%" stop-color="#bbbbbb"/><stop offset="60.65%" stop-color="#b7b7b7"/><stop offset="63.61%" stop-color="#bbbbbb"/><stop offset="65.09%" stop-color="#c1c1c1"/><stop offset="72.49%" stop-color="#ebebeb"/><stop offset="75.44%" stop-color="#f4f4f4"/><stop offset="79.88%" stop-color="#f8f8f8"/><stop offset="100.59%" stop-color="#f8f8f8"/></linearGradient><linearGradient id="g9_0" gradientUnits="userSpaceOnUse" x1="0" y1="352.1" x2="0" y2="426.9"><stop offset="0.00%" stop-color="#ededed"/><stop offset="1.67%" stop-color="#c6c6c6"/><stop offset="2.67%" stop-color="#bdbdbd"/><stop offset="4.01%" stop-color="#bebebe"/><stop offset="4.68%" stop-color="#c5c5c5"/><stop offset="5.68%" stop-color="#d6d6d6"/><stop offset="6.35%" stop-color="#dadada"/><stop offset="8.02%" stop-color="#cecece"/><stop offset="11.03%" stop-color="#cacaca"/><stop offset="11.70%" stop-color="#c1c1c1"/><stop offset="12.03%" stop-color="#b9b9b9"/><stop offset="13.03%" stop-color="#969696"/><stop offset="13.70%" stop-color="#838383"/><stop offset="14.37%" stop-color="#7c7c7c"/><stop offset="15.04%" stop-color="#7f7f7f"/><stop offset="15.37%" stop-color="#858585"/><stop offset="16.04%" stop-color="#9d9d9d"/><stop offset="17.05%" stop-color="#cfcfcf"/><stop offset="17.38%" stop-color="#dbdbdb"/><stop offset="17.71%" stop-color="#e3e3e3"/><stop offset="18.38%" stop-color="#e8e8e8"/><stop offset="25.40%" stop-color="#e5e5e5"/><stop offset="28.41%" stop-color="#f0f0f0"/><stop offset="30.08%" stop-color="#e3e3e3"/><stop offset="30.75%" stop-color="#e1e1e1"/><stop offset="32.75%" stop-color="#eeeeee"/><stop offset="33.42%" stop-color="#e8e8e8"/><stop offset="34.76%" stop-color="#d1d1d1"/><stop offset="35.43%" stop-color="#cacaca"/><stop offset="39.77%" stop-color="#bcbcbc"/><stop offset="41.11%" stop-color="#c1c1c1"/><stop offset="43.45%" stop-color="#d6d6d6"/><stop offset="44.12%" stop-color="#d6d6d6"/><stop offset="45.79%" stop-color="#cdcdcd"/><stop offset="48.46%" stop-color="#cecece"/><stop offset="49.13%" stop-color="#d4d4d4"/><stop offset="50.80%" stop-color="#efefef"/><stop offset="51.47%" stop-color="#f3f3f3"/><stop offset="54.14%" stop-color="#eeeeee"/><stop offset="69.52%" stop-color="#eeeeee"/><stop offset="74.20%" stop-color="#f8f8f8"/><stop offset="99.93%" stop-color="#f8f8f8"/></linearGradient><linearGradient id="g9_1" gradientUnits="userSpaceOnUse" x1="0" y1="352.1" x2="0" y2="426.9"><stop offset="0.00%" stop-color="#f0f0f0"/><stop offset="1.67%" stop-color="#d4d4d4"/><stop offset="2.34%" stop-color="#cecece"/><stop offset="6.68%" stop-color="#cbcbcb"/><stop offset="7.69%" stop-color="#c6c6c6"/><stop offset="9.36%" stop-color="#b0b0b0"/><stop offset="11.03%" stop-color="#a3a3a3"/><stop offset="11.70%" stop-color="#969696"/><stop offset="12.70%" stop-color="#7a7a7a"/><stop offset="13.37%" stop-color="#6d6d6d"/><stop offset="14.04%" stop-color="#686868"/><stop offset="15.04%" stop-color="#666666"/><stop offset="16.04%" stop-color="#696969"/><stop offset="16.71%" stop-color="#727272"/><stop offset="17.38%" stop-color="#898989"/><stop offset="18.38%" stop-color="#bababa"/><stop offset="18.72%" stop-color="#c7c7c7"/><stop offset="19.39%" stop-color="#d7d7d7"/><stop offset="20.39%" stop-color="#dddddd"/><stop offset="23.73%" stop-color="#dedede"/><stop offset="25.74%" stop-color="#ebebeb"/><stop offset="26.40%" stop-color="#e4e4e4"/><stop offset="26.74%" stop-color="#dbdbdb"/><stop offset="28.07%" stop-color="#ababab"/><stop offset="28.41%" stop-color="#a3a3a3"/><stop offset="29.08%" stop-color="#9b9b9b"/><stop offset="30.08%" stop-color="#9b9b9b"/><stop offset="30.75%" stop-color="#a2a2a2"/><stop offset="31.08%" stop-color="#a9a9a9"/><stop offset="32.09%" stop-color="#c7c7c7"/><stop offset="32.75%" stop-color="#d4d4d4"/><stop offset="33.09%" stop-color="#d5d5d5"/><stop offset="34.43%" stop-color="#cecece"/><stop offset="35.43%" stop-color="#cdcdcd"/><stop offset="37.43%" stop-color="#d5d5d5"/><stop offset="38.10%" stop-color="#cfcfcf"/><stop offset="39.44%" stop-color="#a9a9a9"/><stop offset="40.11%" stop-color="#9e9e9e"/><stop offset="41.11%" stop-color="#999999"/><stop offset="43.11%" stop-color="#999999"/><stop offset="44.45%" stop-color="#9b9b9b"/><stop offset="45.12%" stop-color="#a2a2a2"/><stop offset="45.45%" stop-color="#a9a9a9"/><stop offset="46.46%" stop-color="#c7c7c7"/><stop offset="47.13%" stop-color="#d4d4d4"/><stop offset="47.79%" stop-color="#d4d4d4"/><stop offset="49.47%" stop-color="#cccccc"/><stop offset="51.80%" stop-color="#cdcdcd"/><stop offset="52.81%" stop-color="#d1d1d1"/><stop offset="54.48%" stop-color="#e0e0e0"/><stop offset="55.48%" stop-color="#e4e4e4"/><stop offset="70.86%" stop-color="#e5e5e5"/><stop offset="74.53%" stop-color="#eeeeee"/><stop offset="88.57%" stop-color="#eeeeee"/><stop offset="92.25%" stop-color="#f7f7f7"/><stop offset="99.93%" stop-color="#f8f8f8"/></linearGradient><linearGradient id="g9_2" gradientUnits="userSpaceOnUse" x1="0" y1="352.1" x2="0" y2="426.9"><stop offset="0.00%" stop-color="#ededed"/><stop offset="1.67%" stop-color="#c6c6c6"/><stop offset="2.34%" stop-color="#bebebe"/><stop offset="3.34%" stop-color="#bbbbbb"/><stop offset="7.35%" stop-color="#b9b9b9"/><stop offset="9.36%" stop-color="#adadad"/><stop offset="11.36%" stop-color="#a8a8a8"/><stop offset="13.70%" stop-color="#9c9c9c"/><stop offset="14.37%" stop-color="#9e9e9e"/><stop offset="14.71%" stop-color="#a3a3a3"/><stop offset="15.37%" stop-color="#b5b5b5"/><stop offset="16.38%" stop-color="#dbdbdb"/><stop offset="16.71%" stop-color="#e4e4e4"/><stop offset="17.38%" stop-color="#ebebeb"/><stop offset="19.72%" stop-color="#dedede"/><stop offset="29.41%" stop-color="#dddddd"/><stop offset="33.09%" stop-color="#d6d6d6"/><stop offset="34.09%" stop-color="#d8d8d8"/><stop offset="36.10%" stop-color="#e3e3e3"/><stop offset="37.10%" stop-color="#e5e5e5"/><stop offset="67.18%" stop-color="#e5e5e5"/><stop offset="68.18%" stop-color="#e9e9e9"/><stop offset="69.85%" stop-color="#f4f4f4"/><stop offset="70.52%" stop-color="#f6f6f6"/><stop offset="71.19%" stop-color="#f5f5f5"/><stop offset="71.86%" stop-color="#ededed"/><stop offset="73.20%" stop-color="#cdcdcd"/><stop offset="73.86%" stop-color="#c1c1c1"/><stop offset="74.53%" stop-color="#bcbcbc"/><stop offset="75.87%" stop-color="#bbbbbb"/><stop offset="77.21%" stop-color="#bfbfbf"/><stop offset="79.21%" stop-color="#dddddd"/><stop offset="80.21%" stop-color="#e4e4e4"/><stop offset="83.89%" stop-color="#e5e5e5"/><stop offset="87.90%" stop-color="#dddddd"/><stop offset="89.24%" stop-color="#e1e1e1"/><stop offset="91.24%" stop-color="#f2f2f2"/><stop offset="92.25%" stop-color="#f7f7f7"/><stop offset="99.93%" stop-color="#f8f8f8"/></linearGradient><linearGradient id="g9_3" gradientUnits="userSpaceOnUse" x1="0" y1="352.1" x2="0" y2="426.9"><stop offset="0.00%" stop-color="#787878"/><stop offset="4.01%" stop-color="#767676"/><stop offset="4.68%" stop-color="#727272"/><stop offset="6.35%" stop-color="#5b5b5b"/><stop offset="7.02%" stop-color="#575757"/><stop offset="11.03%" stop-color="#545454"/><stop offset="13.70%" stop-color="#484848"/><stop offset="15.04%" stop-color="#484848"/><stop offset="15.71%" stop-color="#4f4f4f"/><stop offset="16.38%" stop-color="#626262"/><stop offset="17.71%" stop-color="#a5a5a5"/><stop offset="18.38%" stop-color="#bcbcbc"/><stop offset="19.05%" stop-color="#c5c5c5"/><stop offset="20.05%" stop-color="#c7c7c7"/><stop offset="21.39%" stop-color="#c2c2c2"/><stop offset="23.40%" stop-color="#b2b2b2"/><stop offset="24.06%" stop-color="#a3a3a3"/><stop offset="25.40%" stop-color="#7c7c7c"/><stop offset="25.74%" stop-color="#767676"/><stop offset="26.40%" stop-color="#707070"/><stop offset="50.80%" stop-color="#6e6e6e"/><stop offset="52.14%" stop-color="#747474"/><stop offset="53.48%" stop-color="#888888"/><stop offset="53.81%" stop-color="#888888"/><stop offset="54.14%" stop-color="#838383"/><stop offset="54.48%" stop-color="#797979"/><stop offset="55.48%" stop-color="#555555"/><stop offset="55.82%" stop-color="#4f4f4f"/><stop offset="56.48%" stop-color="#4c4c4c"/><stop offset="56.82%" stop-color="#505050"/><stop offset="57.15%" stop-color="#585858"/><stop offset="57.49%" stop-color="#666666"/><stop offset="57.82%" stop-color="#787878"/><stop offset="58.82%" stop-color="#b8b8b8"/><stop offset="59.16%" stop-color="#c7c7c7"/><stop offset="59.49%" stop-color="#d0d0d0"/><stop offset="59.83%" stop-color="#d4d4d4"/><stop offset="68.52%" stop-color="#d2d2d2"/><stop offset="70.86%" stop-color="#d5d5d5"/><stop offset="71.52%" stop-color="#cfcfcf"/><stop offset="71.86%" stop-color="#c5c5c5"/><stop offset="72.19%" stop-color="#b5b5b5"/><stop offset="73.20%" stop-color="#717171"/><stop offset="73.53%" stop-color="#5e5e5e"/><stop offset="73.86%" stop-color="#4f4f4f"/><stop offset="74.20%" stop-color="#464646"/><stop offset="74.53%" stop-color="#404040"/><stop offset="75.20%" stop-color="#3d3d3d"/><stop offset="77.21%" stop-color="#3c3c3c"/><stop offset="78.21%" stop-color="#404040"/><stop offset="78.54%" stop-color="#464646"/><stop offset="78.88%" stop-color="#505050"/><stop offset="79.21%" stop-color="#5f5f5f"/><stop offset="79.55%" stop-color="#737373"/><stop offset="80.55%" stop-color="#bfbfbf"/><stop offset="80.88%" stop-color="#d2d2d2"/><stop offset="81.22%" stop-color="#dfdfdf"/><stop offset="81.55%" stop-color="#e6e6e6"/><stop offset="81.89%" stop-color="#e8e8e8"/><stop offset="83.22%" stop-color="#dfdfdf"/><stop offset="84.22%" stop-color="#dedede"/><stop offset="85.90%" stop-color="#eaeaea"/><stop offset="86.56%" stop-color="#ececec"/><stop offset="87.23%" stop-color="#e4e4e4"/><stop offset="88.24%" stop-color="#cbcbcb"/><stop offset="88.90%" stop-color="#c0c0c0"/><stop offset="89.57%" stop-color="#bbbbbb"/><stop offset="90.91%" stop-color="#b9b9b9"/><stop offset="92.25%" stop-color="#bfbfbf"/><stop offset="92.91%" stop-color="#c9c9c9"/><stop offset="94.25%" stop-color="#e4e4e4"/><stop offset="94.92%" stop-color="#ebebeb"/><stop offset="97.59%" stop-color="#efefef"/><stop offset="99.93%" stop-color="#f7f7f7"/></linearGradient><linearGradient id="g9_4" gradientUnits="userSpaceOnUse" x1="0" y1="352.1" x2="0" y2="426.9"><stop offset="0.00%" stop-color="#646464"/><stop offset="8.69%" stop-color="#646464"/><stop offset="12.03%" stop-color="#565656"/><stop offset="14.37%" stop-color="#575757"/><stop offset="15.04%" stop-color="#5e5e5e"/><stop offset="15.37%" stop-color="#666666"/><stop offset="15.71%" stop-color="#727272"/><stop offset="17.05%" stop-color="#afafaf"/><stop offset="17.71%" stop-color="#c1c1c1"/><stop offset="18.38%" stop-color="#c7c7c7"/><stop offset="20.39%" stop-color="#cecece"/><stop offset="21.06%" stop-color="#cccccc"/><stop offset="22.73%" stop-color="#b1b1b1"/><stop offset="23.40%" stop-color="#acacac"/><stop offset="25.40%" stop-color="#ababab"/><stop offset="27.41%" stop-color="#b4b4b4"/><stop offset="28.07%" stop-color="#aaaaaa"/><stop offset="29.41%" stop-color="#838383"/><stop offset="29.75%" stop-color="#7e7e7e"/><stop offset="30.41%" stop-color="#797979"/><stop offset="51.47%" stop-color="#787878"/><stop offset="52.81%" stop-color="#7b7b7b"/><stop offset="56.48%" stop-color="#8d8d8d"/><stop offset="57.15%" stop-color="#9a9a9a"/><stop offset="58.49%" stop-color="#cbcbcb"/><stop offset="58.82%" stop-color="#d3d3d3"/><stop offset="59.49%" stop-color="#dbdbdb"/><stop offset="70.86%" stop-color="#dedede"/><stop offset="71.52%" stop-color="#d9d9d9"/><stop offset="71.86%" stop-color="#d1d1d1"/><stop offset="72.19%" stop-color="#c4c4c4"/><stop offset="73.53%" stop-color="#7f7f7f"/><stop offset="73.86%" stop-color="#737373"/><stop offset="74.20%" stop-color="#6c6c6c"/><stop offset="75.20%" stop-color="#646464"/><stop offset="77.54%" stop-color="#646464"/><stop offset="78.21%" stop-color="#686868"/><stop offset="78.88%" stop-color="#737373"/><stop offset="79.21%" stop-color="#7f7f7f"/><stop offset="79.55%" stop-color="#909090"/><stop offset="80.55%" stop-color="#cbcbcb"/><stop offset="80.88%" stop-color="#dadada"/><stop offset="81.22%" stop-color="#e4e4e4"/><stop offset="81.55%" stop-color="#e9e9e9"/><stop offset="81.89%" stop-color="#ebebeb"/><stop offset="84.22%" stop-color="#e1e1e1"/><stop offset="94.92%" stop-color="#e1e1e1"/><stop offset="96.26%" stop-color="#e5e5e5"/><stop offset="98.26%" stop-color="#f6f6f6"/><stop offset="99.93%" stop-color="#f8f8f8"/></linearGradient><linearGradient id="g9_5" gradientUnits="userSpaceOnUse" x1="0" y1="352.1" x2="0" y2="426.9"><stop offset="0.00%" stop-color="#c8c8c8"/><stop offset="4.34%" stop-color="#c8c8c8"/><stop offset="6.35%" stop-color="#d2d2d2"/><stop offset="6.68%" stop-color="#d1d1d1"/><stop offset="7.35%" stop-color="#c5c5c5"/><stop offset="8.36%" stop-color="#a7a7a7"/><stop offset="9.02%" stop-color="#9b9b9b"/><stop offset="10.03%" stop-color="#969696"/><stop offset="13.03%" stop-color="#969696"/><stop offset="14.04%" stop-color="#989898"/><stop offset="14.71%" stop-color="#a0a0a0"/><stop offset="15.37%" stop-color="#b2b2b2"/><stop offset="16.38%" stop-color="#d3d3d3"/><stop offset="17.05%" stop-color="#dbdbdb"/><stop offset="19.05%" stop-color="#cecece"/><stop offset="25.07%" stop-color="#cccccc"/><stop offset="28.41%" stop-color="#bebebe"/><stop offset="35.76%" stop-color="#bebebe"/><stop offset="39.10%" stop-color="#b9b9b9"/><stop offset="46.12%" stop-color="#b9b9b9"/><stop offset="49.47%" stop-color="#bebebe"/><stop offset="55.48%" stop-color="#bfbfbf"/><stop offset="56.48%" stop-color="#c9c9c9"/><stop offset="58.16%" stop-color="#ededed"/><stop offset="58.82%" stop-color="#f5f5f5"/><stop offset="59.49%" stop-color="#f7f7f7"/><stop offset="72.19%" stop-color="#f7f7f7"/><stop offset="73.20%" stop-color="#efefef"/><stop offset="74.53%" stop-color="#d6d6d6"/><stop offset="75.20%" stop-color="#cdcdcd"/><stop offset="76.20%" stop-color="#c9c9c9"/><stop offset="77.21%" stop-color="#cecece"/><stop offset="78.88%" stop-color="#e2e2e2"/><stop offset="79.88%" stop-color="#e7e7e7"/><stop offset="88.90%" stop-color="#e8e8e8"/><stop offset="92.25%" stop-color="#f7f7f7"/><stop offset="99.93%" stop-color="#f8f8f8"/></linearGradient><linearGradient id="g9_6" gradientUnits="userSpaceOnUse" x1="0" y1="352.1" x2="0" y2="426.9"><stop offset="0.00%" stop-color="#e3e3e3"/><stop offset="0.33%" stop-color="#d7d7d7"/><stop offset="1.34%" stop-color="#a8a8a8"/><stop offset="2.01%" stop-color="#919191"/><stop offset="3.01%" stop-color="#7e7e7e"/><stop offset="4.01%" stop-color="#767676"/><stop offset="4.68%" stop-color="#7b7b7b"/><stop offset="6.02%" stop-color="#a1a1a1"/><stop offset="6.35%" stop-color="#a7a7a7"/><stop offset="6.68%" stop-color="#a8a8a8"/><stop offset="9.36%" stop-color="#949494"/><stop offset="10.03%" stop-color="#8a8a8a"/><stop offset="11.36%" stop-color="#6f6f6f"/><stop offset="12.03%" stop-color="#676767"/><stop offset="14.04%" stop-color="#5c5c5c"/><stop offset="15.37%" stop-color="#5c5c5c"/><stop offset="16.04%" stop-color="#616161"/><stop offset="16.71%" stop-color="#6f6f6f"/><stop offset="17.38%" stop-color="#8c8c8c"/><stop offset="18.38%" stop-color="#c1c1c1"/><stop offset="18.72%" stop-color="#cecece"/><stop offset="19.39%" stop-color="#dadada"/><stop offset="20.05%" stop-color="#dddddd"/><stop offset="28.41%" stop-color="#dfdfdf"/><stop offset="29.08%" stop-color="#dadada"/><stop offset="29.41%" stop-color="#d3d3d3"/><stop offset="29.75%" stop-color="#c7c7c7"/><stop offset="31.08%" stop-color="#858585"/><stop offset="31.75%" stop-color="#717171"/><stop offset="32.42%" stop-color="#686868"/><stop offset="33.76%" stop-color="#666666"/><stop offset="36.10%" stop-color="#727272"/><stop offset="36.76%" stop-color="#7c7c7c"/><stop offset="38.10%" stop-color="#a4a4a4"/><stop offset="38.77%" stop-color="#b3b3b3"/><stop offset="39.44%" stop-color="#b9b9b9"/><stop offset="42.11%" stop-color="#c5c5c5"/><stop offset="42.45%" stop-color="#c2c2c2"/><stop offset="42.78%" stop-color="#b9b9b9"/><stop offset="43.11%" stop-color="#ababab"/><stop offset="44.12%" stop-color="#797979"/><stop offset="44.79%" stop-color="#646464"/><stop offset="45.79%" stop-color="#585858"/><stop offset="47.46%" stop-color="#555555"/><stop offset="50.80%" stop-color="#606060"/><stop offset="51.47%" stop-color="#676767"/><stop offset="51.80%" stop-color="#6e6e6e"/><stop offset="52.14%" stop-color="#7a7a7a"/><stop offset="52.47%" stop-color="#8a8a8a"/><stop offset="53.48%" stop-color="#c5c5c5"/><stop offset="53.81%" stop-color="#d5d5d5"/><stop offset="54.14%" stop-color="#e0e0e0"/><stop offset="54.48%" stop-color="#e7e7e7"/><stop offset="55.15%" stop-color="#ededed"/><stop offset="70.19%" stop-color="#eeeeee"/><stop offset="74.20%" stop-color="#f8f8f8"/><stop offset="99.93%" stop-color="#f8f8f8"/></linearGradient><linearGradient id="g9_7" gradientUnits="userSpaceOnUse" x1="0" y1="352.1" x2="0" y2="426.9"><stop offset="0.00%" stop-color="#e0e0e0"/><stop offset="0.33%" stop-color="#d2d2d2"/><stop offset="1.34%" stop-color="#9e9e9e"/><stop offset="1.67%" stop-color="#909090"/><stop offset="2.01%" stop-color="#858585"/><stop offset="2.67%" stop-color="#7b7b7b"/><stop offset="3.68%" stop-color="#787878"/><stop offset="5.01%" stop-color="#7a7a7a"/><stop offset="5.68%" stop-color="#7e7e7e"/><stop offset="7.35%" stop-color="#939393"/><stop offset="8.02%" stop-color="#979797"/><stop offset="8.69%" stop-color="#979797"/><stop offset="9.69%" stop-color="#8c8c8c"/><stop offset="11.03%" stop-color="#696969"/><stop offset="11.70%" stop-color="#5c5c5c"/><stop offset="12.37%" stop-color="#575757"/><stop offset="13.70%" stop-color="#555555"/><stop offset="15.71%" stop-color="#575757"/><stop offset="16.38%" stop-color="#5d5d5d"/><stop offset="16.71%" stop-color="#656565"/><stop offset="17.05%" stop-color="#717171"/><stop offset="18.05%" stop-color="#a5a5a5"/><stop offset="18.38%" stop-color="#b5b5b5"/><stop offset="18.72%" stop-color="#c1c1c1"/><stop offset="19.05%" stop-color="#c8c8c8"/><stop offset="19.72%" stop-color="#cdcdcd"/><stop offset="26.74%" stop-color="#cccccc"/><stop offset="29.08%" stop-color="#d3d3d3"/><stop offset="29.75%" stop-color="#cacaca"/><stop offset="31.08%" stop-color="#9c9c9c"/><stop offset="31.42%" stop-color="#939393"/><stop offset="32.09%" stop-color="#8b8b8b"/><stop offset="32.75%" stop-color="#898989"/><stop offset="33.76%" stop-color="#8c8c8c"/><stop offset="35.76%" stop-color="#a8a8a8"/><stop offset="36.76%" stop-color="#aeaeae"/><stop offset="53.14%" stop-color="#afafaf"/><stop offset="54.14%" stop-color="#b3b3b3"/><stop offset="55.82%" stop-color="#c7c7c7"/><stop offset="56.48%" stop-color="#c2c2c2"/><stop offset="57.49%" stop-color="#ababab"/><stop offset="57.82%" stop-color="#a7a7a7"/><stop offset="58.16%" stop-color="#a8a8a8"/><stop offset="58.49%" stop-color="#adadad"/><stop offset="58.82%" stop-color="#b6b6b6"/><stop offset="59.83%" stop-color="#dbdbdb"/><stop offset="60.16%" stop-color="#e4e4e4"/><stop offset="60.83%" stop-color="#ebebeb"/><stop offset="63.17%" stop-color="#dedede"/><stop offset="70.86%" stop-color="#dedede"/><stop offset="71.52%" stop-color="#d8d8d8"/><stop offset="71.86%" stop-color="#cecece"/><stop offset="72.19%" stop-color="#c0c0c0"/><stop offset="73.20%" stop-color="#848484"/><stop offset="73.53%" stop-color="#727272"/><stop offset="73.86%" stop-color="#666666"/><stop offset="74.53%" stop-color="#595959"/><stop offset="75.53%" stop-color="#555555"/><stop offset="76.54%" stop-color="#595959"/><stop offset="77.21%" stop-color="#666666"/><stop offset="77.54%" stop-color="#737373"/><stop offset="77.87%" stop-color="#858585"/><stop offset="78.88%" stop-color="#c5c5c5"/><stop offset="79.21%" stop-color="#d5d5d5"/><stop offset="79.55%" stop-color="#dfdfdf"/><stop offset="79.88%" stop-color="#e4e4e4"/><stop offset="81.89%" stop-color="#dedede"/><stop offset="83.89%" stop-color="#dedede"/><stop offset="84.56%" stop-color="#e0e0e0"/><stop offset="86.56%" stop-color="#eeeeee"/><stop offset="87.23%" stop-color="#eaeaea"/><stop offset="88.90%" stop-color="#d1d1d1"/><stop offset="89.91%" stop-color="#cccccc"/><stop offset="91.24%" stop-color="#cccccc"/><stop offset="92.58%" stop-color="#d2d2d2"/><stop offset="94.25%" stop-color="#e8e8e8"/><stop offset="94.92%" stop-color="#ececec"/><stop offset="97.59%" stop-color="#efefef"/><stop offset="99.93%" stop-color="#f7f7f7"/></linearGradient><linearGradient id="g10_0" gradientUnits="userSpaceOnUse" x1="0" y1="430.2" x2="0" y2="512.4"><stop offset="0.00%" stop-color="#f8f8f8"/><stop offset="75.43%" stop-color="#f8f8f8"/><stop offset="76.64%" stop-color="#f5f5f5"/><stop offset="78.47%" stop-color="#dddddd"/><stop offset="79.38%" stop-color="#d8d8d8"/><stop offset="80.29%" stop-color="#dadada"/><stop offset="82.12%" stop-color="#f2f2f2"/><stop offset="83.33%" stop-color="#f8f8f8"/><stop offset="100.06%" stop-color="#f8f8f8"/></linearGradient><linearGradient id="g10_1" gradientUnits="userSpaceOnUse" x1="0" y1="430.2" x2="0" y2="512.4"><stop offset="0.00%" stop-color="#f8f8f8"/><stop offset="3.04%" stop-color="#f7f7f7"/><stop offset="5.47%" stop-color="#e3e3e3"/><stop offset="7.30%" stop-color="#e1e1e1"/><stop offset="13.08%" stop-color="#e2e2e2"/><stop offset="15.21%" stop-color="#f4f4f4"/><stop offset="16.42%" stop-color="#f8f8f8"/><stop offset="28.28%" stop-color="#f8f8f8"/><stop offset="29.50%" stop-color="#f3f3f3"/><stop offset="31.02%" stop-color="#e3e3e3"/><stop offset="31.63%" stop-color="#dfdfdf"/><stop offset="37.41%" stop-color="#dddddd"/><stop offset="39.54%" stop-color="#d0d0d0"/><stop offset="40.45%" stop-color="#cecece"/><stop offset="41.97%" stop-color="#d3d3d3"/><stop offset="44.40%" stop-color="#f3f3f3"/><stop offset="45.62%" stop-color="#f8f8f8"/><stop offset="47.45%" stop-color="#f6f6f6"/><stop offset="49.27%" stop-color="#e9e9e9"/><stop offset="50.49%" stop-color="#e7e7e7"/><stop offset="51.40%" stop-color="#e9e9e9"/><stop offset="53.22%" stop-color="#f6f6f6"/><stop offset="54.14%" stop-color="#f8f8f8"/><stop offset="75.43%" stop-color="#f8f8f8"/><stop offset="76.64%" stop-color="#f2f2f2"/><stop offset="77.25%" stop-color="#e7e7e7"/><stop offset="78.47%" stop-color="#c9c9c9"/><stop offset="79.38%" stop-color="#c0c0c0"/><stop offset="80.29%" stop-color="#c4c4c4"/><stop offset="80.90%" stop-color="#cfcfcf"/><stop offset="82.12%" stop-color="#ededed"/><stop offset="82.73%" stop-color="#f5f5f5"/><stop offset="83.33%" stop-color="#f7f7f7"/><stop offset="100.06%" stop-color="#f8f8f8"/></linearGradient><linearGradient id="g10_2" gradientUnits="userSpaceOnUse" x1="0" y1="430.2" x2="0" y2="512.4"><stop offset="0.00%" stop-color="#f8f8f8"/><stop offset="1.82%" stop-color="#f5f5f5"/><stop offset="3.95%" stop-color="#dadada"/><stop offset="5.78%" stop-color="#d7d7d7"/><stop offset="9.43%" stop-color="#d9d9d9"/><stop offset="10.04%" stop-color="#dddddd"/><stop offset="11.25%" stop-color="#eeeeee"/><stop offset="11.86%" stop-color="#f3f3f3"/><stop offset="12.47%" stop-color="#f3f3f3"/><stop offset="13.99%" stop-color="#e6e6e6"/><stop offset="14.60%" stop-color="#e5e5e5"/><stop offset="17.03%" stop-color="#f7f7f7"/><stop offset="22.20%" stop-color="#f7f7f7"/><stop offset="22.81%" stop-color="#f4f4f4"/><stop offset="23.42%" stop-color="#ebebeb"/><stop offset="24.94%" stop-color="#c1c1c1"/><stop offset="25.55%" stop-color="#b8b8b8"/><stop offset="27.98%" stop-color="#b1b1b1"/><stop offset="29.81%" stop-color="#9c9c9c"/><stop offset="30.72%" stop-color="#979797"/><stop offset="31.93%" stop-color="#9c9c9c"/><stop offset="32.54%" stop-color="#a4a4a4"/><stop offset="34.06%" stop-color="#c1c1c1"/><stop offset="34.98%" stop-color="#cacaca"/><stop offset="36.19%" stop-color="#cdcdcd"/><stop offset="45.62%" stop-color="#cecece"/><stop offset="46.53%" stop-color="#d5d5d5"/><stop offset="48.05%" stop-color="#f0f0f0"/><stop offset="48.97%" stop-color="#f7f7f7"/><stop offset="54.14%" stop-color="#f8f8f8"/><stop offset="57.18%" stop-color="#ebebeb"/><stop offset="59.00%" stop-color="#f5f5f5"/><stop offset="60.22%" stop-color="#f8f8f8"/><stop offset="74.21%" stop-color="#f7f7f7"/><stop offset="74.82%" stop-color="#f3f3f3"/><stop offset="75.12%" stop-color="#ededed"/><stop offset="75.43%" stop-color="#e2e2e2"/><stop offset="75.73%" stop-color="#d2d2d2"/><stop offset="76.03%" stop-color="#bbbbbb"/><stop offset="76.95%" stop-color="#656565"/><stop offset="77.25%" stop-color="#4e4e4e"/><stop offset="77.55%" stop-color="#3e3e3e"/><stop offset="77.86%" stop-color="#333333"/><stop offset="78.16%" stop-color="#2d2d2d"/><stop offset="78.77%" stop-color="#292929"/><stop offset="79.68%" stop-color="#2d2d2d"/><stop offset="79.99%" stop-color="#333333"/><stop offset="80.29%" stop-color="#3e3e3e"/><stop offset="80.60%" stop-color="#4e4e4e"/><stop offset="80.90%" stop-color="#656565"/><stop offset="81.81%" stop-color="#bbbbbb"/><stop offset="82.12%" stop-color="#d2d2d2"/><stop offset="82.42%" stop-color="#e2e2e2"/><stop offset="82.73%" stop-color="#ededed"/><stop offset="83.33%" stop-color="#f6f6f6"/><stop offset="100.06%" stop-color="#f8f8f8"/></linearGradient><linearGradient id="g10_3" gradientUnits="userSpaceOnUse" x1="0" y1="430.2" x2="0" y2="512.4"><stop offset="0.00%" stop-color="#f7f7f7"/><stop offset="0.91%" stop-color="#f0f0f0"/><stop offset="1.52%" stop-color="#e1e1e1"/><stop offset="2.74%" stop-color="#b8b8b8"/><stop offset="3.35%" stop-color="#aeaeae"/><stop offset="3.95%" stop-color="#ababab"/><stop offset="5.47%" stop-color="#aeaeae"/><stop offset="6.08%" stop-color="#b7b7b7"/><stop offset="7.00%" stop-color="#cbcbcb"/><stop offset="7.60%" stop-color="#cfcfcf"/><stop offset="9.73%" stop-color="#b5b5b5"/><stop offset="10.95%" stop-color="#a3a3a3"/><stop offset="11.86%" stop-color="#9d9d9d"/><stop offset="12.47%" stop-color="#a3a3a3"/><stop offset="13.69%" stop-color="#c4c4c4"/><stop offset="14.29%" stop-color="#cccccc"/><stop offset="14.60%" stop-color="#cbcbcb"/><stop offset="16.42%" stop-color="#b5b5b5"/><stop offset="17.94%" stop-color="#a0a0a0"/><stop offset="18.55%" stop-color="#9d9d9d"/><stop offset="19.16%" stop-color="#a2a2a2"/><stop offset="20.68%" stop-color="#c2c2c2"/><stop offset="21.29%" stop-color="#c3c3c3"/><stop offset="22.51%" stop-color="#bcbcbc"/><stop offset="23.72%" stop-color="#bcbcbc"/><stop offset="25.55%" stop-color="#c8c8c8"/><stop offset="25.85%" stop-color="#c6c6c6"/><stop offset="26.16%" stop-color="#c0c0c0"/><stop offset="26.46%" stop-color="#b6b6b6"/><stop offset="27.37%" stop-color="#8e8e8e"/><stop offset="27.68%" stop-color="#858585"/><stop offset="27.98%" stop-color="#7f7f7f"/><stop offset="28.59%" stop-color="#797979"/><stop offset="32.54%" stop-color="#787878"/><stop offset="35.58%" stop-color="#707070"/><stop offset="40.75%" stop-color="#707070"/><stop offset="42.58%" stop-color="#717171"/><stop offset="45.01%" stop-color="#787878"/><stop offset="48.66%" stop-color="#787878"/><stop offset="49.57%" stop-color="#7b7b7b"/><stop offset="50.18%" stop-color="#858585"/><stop offset="50.49%" stop-color="#909090"/><stop offset="50.79%" stop-color="#9e9e9e"/><stop offset="51.70%" stop-color="#d1d1d1"/><stop offset="52.01%" stop-color="#dedede"/><stop offset="52.31%" stop-color="#e6e6e6"/><stop offset="52.62%" stop-color="#e9e9e9"/><stop offset="54.74%" stop-color="#dfdfdf"/><stop offset="57.18%" stop-color="#ececec"/><stop offset="60.52%" stop-color="#efefef"/><stop offset="61.13%" stop-color="#ededed"/><stop offset="62.65%" stop-color="#e0e0e0"/><stop offset="63.56%" stop-color="#dedede"/><stop offset="64.78%" stop-color="#e2e2e2"/><stop offset="66.30%" stop-color="#f3f3f3"/><stop offset="66.91%" stop-color="#f7f7f7"/><stop offset="73.60%" stop-color="#f7f7f7"/><stop offset="74.21%" stop-color="#f3f3f3"/><stop offset="74.51%" stop-color="#ededed"/><stop offset="74.82%" stop-color="#e2e2e2"/><stop offset="75.12%" stop-color="#d1d1d1"/><stop offset="75.43%" stop-color="#b9b9b9"/><stop offset="76.34%" stop-color="#626262"/><stop offset="76.64%" stop-color="#4a4a4a"/><stop offset="76.95%" stop-color="#393939"/><stop offset="77.25%" stop-color="#2e2e2e"/><stop offset="77.55%" stop-color="#282828"/><stop offset="78.77%" stop-color="#232323"/><stop offset="79.99%" stop-color="#282828"/><stop offset="80.29%" stop-color="#2e2e2e"/><stop offset="80.60%" stop-color="#393939"/><stop offset="80.90%" stop-color="#4a4a4a"/><stop offset="81.20%" stop-color="#626262"/><stop offset="82.12%" stop-color="#b9b9b9"/><stop offset="82.42%" stop-color="#d1d1d1"/><stop offset="82.73%" stop-color="#e2e2e2"/><stop offset="83.03%" stop-color="#ededed"/><stop offset="83.64%" stop-color="#f6f6f6"/><stop offset="100.06%" stop-color="#f8f8f8"/></linearGradient><linearGradient id="g10_4" gradientUnits="userSpaceOnUse" x1="0" y1="430.2" x2="0" y2="512.4"><stop offset="0.00%" stop-color="#f7f7f7"/><stop offset="0.61%" stop-color="#f1f1f1"/><stop offset="0.91%" stop-color="#ebebeb"/><stop offset="1.52%" stop-color="#d2d2d2"/><stop offset="2.43%" stop-color="#9e9e9e"/><stop offset="2.74%" stop-color="#909090"/><stop offset="3.04%" stop-color="#858585"/><stop offset="3.65%" stop-color="#7b7b7b"/><stop offset="4.26%" stop-color="#7b7b7b"/><stop offset="4.87%" stop-color="#848484"/><stop offset="6.08%" stop-color="#b0b0b0"/><stop offset="6.39%" stop-color="#b6b6b6"/><stop offset="6.69%" stop-color="#b8b8b8"/><stop offset="7.00%" stop-color="#b4b4b4"/><stop offset="8.21%" stop-color="#9d9d9d"/><stop offset="10.34%" stop-color="#8b8b8b"/><stop offset="13.08%" stop-color="#898989"/><stop offset="15.21%" stop-color="#959595"/><stop offset="15.82%" stop-color="#959595"/><stop offset="16.42%" stop-color="#8f8f8f"/><stop offset="17.64%" stop-color="#757575"/><stop offset="18.25%" stop-color="#6b6b6b"/><stop offset="19.16%" stop-color="#666666"/><stop offset="20.68%" stop-color="#666666"/><stop offset="21.29%" stop-color="#696969"/><stop offset="21.90%" stop-color="#747474"/><stop offset="22.20%" stop-color="#7e7e7e"/><stop offset="23.11%" stop-color="#a5a5a5"/><stop offset="23.42%" stop-color="#acacac"/><stop offset="23.72%" stop-color="#adadad"/><stop offset="24.03%" stop-color="#a9a9a9"/><stop offset="25.24%" stop-color="#8d8d8d"/><stop offset="26.76%" stop-color="#808080"/><stop offset="28.28%" stop-color="#676767"/><stop offset="29.20%" stop-color="#606060"/><stop offset="30.41%" stop-color="#5f5f5f"/><stop offset="49.27%" stop-color="#606060"/><stop offset="49.88%" stop-color="#676767"/><stop offset="50.18%" stop-color="#6e6e6e"/><stop offset="50.49%" stop-color="#797979"/><stop offset="51.40%" stop-color="#a8a8a8"/><stop offset="51.70%" stop-color="#b4b4b4"/><stop offset="52.01%" stop-color="#bbbbbb"/><stop offset="52.31%" stop-color="#bcbcbc"/><stop offset="54.44%" stop-color="#b1b1b1"/><stop offset="55.96%" stop-color="#858585"/><stop offset="56.27%" stop-color="#818181"/><stop offset="56.57%" stop-color="#818181"/><stop offset="56.87%" stop-color="#868686"/><stop offset="57.18%" stop-color="#8f8f8f"/><stop offset="58.39%" stop-color="#c5c5c5"/><stop offset="58.70%" stop-color="#cecece"/><stop offset="59.00%" stop-color="#d2d2d2"/><stop offset="60.83%" stop-color="#cdcdcd"/><stop offset="62.96%" stop-color="#d3d3d3"/><stop offset="64.48%" stop-color="#c1c1c1"/><stop offset="65.09%" stop-color="#bfbfbf"/><stop offset="65.69%" stop-color="#c6c6c6"/><stop offset="66.91%" stop-color="#e0e0e0"/><stop offset="67.52%" stop-color="#e7e7e7"/><stop offset="71.78%" stop-color="#e6e6e6"/><stop offset="73.91%" stop-color="#f2f2f2"/><stop offset="74.51%" stop-color="#ebebeb"/><stop offset="74.82%" stop-color="#e1e1e1"/><stop offset="75.12%" stop-color="#d0d0d0"/><stop offset="75.43%" stop-color="#b8b8b8"/><stop offset="76.34%" stop-color="#5e5e5e"/><stop offset="76.64%" stop-color="#464646"/><stop offset="76.95%" stop-color="#353535"/><stop offset="77.25%" stop-color="#2a2a2a"/><stop offset="77.86%" stop-color="#202020"/><stop offset="79.68%" stop-color="#1e1e1e"/><stop offset="80.90%" stop-color="#232323"/><stop offset="81.20%" stop-color="#2a2a2a"/><stop offset="81.51%" stop-color="#353535"/><stop offset="81.81%" stop-color="#464646"/><stop offset="82.12%" stop-color="#5e5e5e"/><stop offset="83.03%" stop-color="#b8b8b8"/><stop offset="83.33%" stop-color="#d0d0d0"/><stop offset="83.64%" stop-color="#e1e1e1"/><stop offset="83.94%" stop-color="#ececec"/><stop offset="84.25%" stop-color="#f3f3f3"/><stop offset="85.46%" stop-color="#f8f8f8"/><stop offset="100.06%" stop-color="#f8f8f8"/></linearGradient><linearGradient id="g10_5" gradientUnits="userSpaceOnUse" x1="0" y1="430.2" x2="0" y2="512.4"><stop offset="0.00%" stop-color="#f8f8f8"/><stop offset="1.82%" stop-color="#f5f5f5"/><stop offset="3.65%" stop-color="#e2e2e2"/><stop offset="4.87%" stop-color="#dddddd"/><stop offset="12.77%" stop-color="#dedede"/><stop offset="13.69%" stop-color="#e2e2e2"/><stop offset="15.51%" stop-color="#f5f5f5"/><stop offset="16.73%" stop-color="#f8f8f8"/><stop offset="19.46%" stop-color="#f5f5f5"/><stop offset="21.29%" stop-color="#e2e2e2"/><stop offset="22.20%" stop-color="#dedede"/><stop offset="23.72%" stop-color="#dedede"/><stop offset="25.85%" stop-color="#e6e6e6"/><stop offset="26.46%" stop-color="#dedede"/><stop offset="27.37%" stop-color="#cdcdcd"/><stop offset="27.98%" stop-color="#c6c6c6"/><stop offset="34.37%" stop-color="#c1c1c1"/><stop offset="34.98%" stop-color="#bbbbbb"/><stop offset="36.50%" stop-color="#a1a1a1"/><stop offset="37.71%" stop-color="#9a9a9a"/><stop offset="38.63%" stop-color="#9b9b9b"/><stop offset="39.23%" stop-color="#a2a2a2"/><stop offset="39.84%" stop-color="#b1b1b1"/><stop offset="41.06%" stop-color="#dcdcdc"/><stop offset="41.67%" stop-color="#e9e9e9"/><stop offset="41.97%" stop-color="#eaeaea"/><stop offset="42.58%" stop-color="#e4e4e4"/><stop offset="43.49%" stop-color="#d4d4d4"/><stop offset="44.10%" stop-color="#cecece"/><stop offset="48.05%" stop-color="#cccccc"/><stop offset="49.27%" stop-color="#d1d1d1"/><stop offset="49.88%" stop-color="#d9d9d9"/><stop offset="51.09%" stop-color="#f0f0f0"/><stop offset="52.31%" stop-color="#f8f8f8"/><stop offset="74.51%" stop-color="#f7f7f7"/><stop offset="75.12%" stop-color="#f4f4f4"/><stop offset="75.43%" stop-color="#eeeeee"/><stop offset="75.73%" stop-color="#e5e5e5"/><stop offset="76.03%" stop-color="#d7d7d7"/><stop offset="76.34%" stop-color="#c3c3c3"/><stop offset="77.25%" stop-color="#797979"/><stop offset="77.55%" stop-color="#656565"/><stop offset="77.86%" stop-color="#575757"/><stop offset="78.16%" stop-color="#4e4e4e"/><stop offset="78.47%" stop-color="#484848"/><stop offset="79.08%" stop-color="#454545"/><stop offset="79.99%" stop-color="#484848"/><stop offset="80.29%" stop-color="#4e4e4e"/><stop offset="80.60%" stop-color="#575757"/><stop offset="80.90%" stop-color="#656565"/><stop offset="81.20%" stop-color="#797979"/><stop offset="82.12%" stop-color="#c3c3c3"/><stop offset="82.42%" stop-color="#d7d7d7"/><stop offset="82.73%" stop-color="#e5e5e5"/><stop offset="83.03%" stop-color="#eeeeee"/><stop offset="83.33%" stop-color="#f4f4f4"/><stop offset="84.55%" stop-color="#f8f8f8"/><stop offset="100.06%" stop-color="#f8f8f8"/></linearGradient><linearGradient id="g10_6" gradientUnits="userSpaceOnUse" x1="0" y1="430.2" x2="0" y2="512.4"><stop offset="0.00%" stop-color="#f1f1f1"/><stop offset="70.56%" stop-color="#f1f1f1"/><stop offset="75.43%" stop-color="#f8f8f8"/><stop offset="76.64%" stop-color="#f4f4f4"/><stop offset="78.47%" stop-color="#d5d5d5"/><stop offset="79.08%" stop-color="#cfcfcf"/><stop offset="79.68%" stop-color="#cecece"/><stop offset="80.60%" stop-color="#d5d5d5"/><stop offset="82.12%" stop-color="#f0f0f0"/><stop offset="83.03%" stop-color="#f7f7f7"/><stop offset="100.06%" stop-color="#f8f8f8"/></linearGradient><linearGradient id="g10_7" gradientUnits="userSpaceOnUse" x1="0" y1="430.2" x2="0" y2="512.4"><stop offset="0.00%" stop-color="#f7f7f7"/><stop offset="0.91%" stop-color="#f0f0f0"/><stop offset="1.52%" stop-color="#e1e1e1"/><stop offset="2.74%" stop-color="#b8b8b8"/><stop offset="3.04%" stop-color="#b2b2b2"/><stop offset="3.65%" stop-color="#acacac"/><stop offset="4.26%" stop-color="#acacac"/><stop offset="4.87%" stop-color="#b2b2b2"/><stop offset="6.08%" stop-color="#cecece"/><stop offset="6.69%" stop-color="#d7d7d7"/><stop offset="8.21%" stop-color="#d0d0d0"/><stop offset="9.43%" stop-color="#d5d5d5"/><stop offset="10.04%" stop-color="#cfcfcf"/><stop offset="11.56%" stop-color="#a2a2a2"/><stop offset="12.17%" stop-color="#9c9c9c"/><stop offset="12.77%" stop-color="#9c9c9c"/><stop offset="13.38%" stop-color="#a2a2a2"/><stop offset="13.69%" stop-color="#a9a9a9"/><stop offset="14.60%" stop-color="#c7c7c7"/><stop offset="15.21%" stop-color="#d4d4d4"/><stop offset="16.73%" stop-color="#d5d5d5"/><stop offset="17.34%" stop-color="#d1d1d1"/><stop offset="17.64%" stop-color="#cacaca"/><stop offset="18.86%" stop-color="#9d9d9d"/><stop offset="19.16%" stop-color="#969696"/><stop offset="19.46%" stop-color="#939393"/><stop offset="19.77%" stop-color="#969696"/><stop offset="20.07%" stop-color="#9c9c9c"/><stop offset="20.99%" stop-color="#bdbdbd"/><stop offset="21.29%" stop-color="#c5c5c5"/><stop offset="21.59%" stop-color="#c9c9c9"/><stop offset="21.90%" stop-color="#c9c9c9"/><stop offset="23.11%" stop-color="#bebebe"/><stop offset="24.33%" stop-color="#bbbbbb"/><stop offset="25.85%" stop-color="#bcbcbc"/><stop offset="27.37%" stop-color="#c8c8c8"/><stop offset="27.68%" stop-color="#c6c6c6"/><stop offset="27.98%" stop-color="#c0c0c0"/><stop offset="28.28%" stop-color="#b6b6b6"/><stop offset="29.20%" stop-color="#8e8e8e"/><stop offset="29.50%" stop-color="#858585"/><stop offset="30.11%" stop-color="#7b7b7b"/><stop offset="35.28%" stop-color="#707070"/><stop offset="40.75%" stop-color="#707070"/><stop offset="48.66%" stop-color="#7b7b7b"/><stop offset="49.27%" stop-color="#858585"/><stop offset="49.57%" stop-color="#909090"/><stop offset="49.88%" stop-color="#9e9e9e"/><stop offset="50.79%" stop-color="#d0d0d0"/><stop offset="51.09%" stop-color="#dcdcdc"/><stop offset="51.40%" stop-color="#e3e3e3"/><stop offset="51.70%" stop-color="#e4e4e4"/><stop offset="53.22%" stop-color="#d3d3d3"/><stop offset="53.83%" stop-color="#d5d5d5"/><stop offset="54.74%" stop-color="#e1e1e1"/><stop offset="55.35%" stop-color="#e3e3e3"/><stop offset="56.87%" stop-color="#d1d1d1"/><stop offset="57.48%" stop-color="#cfcfcf"/><stop offset="58.09%" stop-color="#d4d4d4"/><stop offset="59.61%" stop-color="#f0f0f0"/><stop offset="60.22%" stop-color="#f4f4f4"/><stop offset="60.83%" stop-color="#f3f3f3"/><stop offset="62.65%" stop-color="#e0e0e0"/><stop offset="63.56%" stop-color="#dedede"/><stop offset="64.78%" stop-color="#e2e2e2"/><stop offset="66.30%" stop-color="#f3f3f3"/><stop offset="66.91%" stop-color="#f7f7f7"/><stop offset="73.60%" stop-color="#f7f7f7"/><stop offset="74.21%" stop-color="#f3f3f3"/><stop offset="74.51%" stop-color="#ededed"/><stop offset="74.82%" stop-color="#e3e3e3"/><stop offset="75.12%" stop-color="#d3d3d3"/><stop offset="75.43%" stop-color="#bcbcbc"/><stop offset="76.34%" stop-color="#696969"/><stop offset="76.64%" stop-color="#525252"/><stop offset="76.95%" stop-color="#424242"/><stop offset="77.25%" stop-color="#383838"/><stop offset="77.55%" stop-color="#323232"/><stop offset="78.77%" stop-color="#2d2d2d"/><stop offset="79.99%" stop-color="#323232"/><stop offset="80.29%" stop-color="#383838"/><stop offset="80.60%" stop-color="#424242"/><stop offset="80.90%" stop-color="#525252"/><stop offset="81.20%" stop-color="#696969"/><stop offset="82.12%" stop-color="#bcbcbc"/><stop offset="82.42%" stop-color="#d3d3d3"/><stop offset="82.73%" stop-color="#e3e3e3"/><stop offset="83.03%" stop-color="#ededed"/><stop offset="83.64%" stop-color="#f6f6f6"/><stop offset="100.06%" stop-color="#f8f8f8"/></linearGradient><linearGradient id="g11_0" gradientUnits="userSpaceOnUse" x1="0" y1="515.8" x2="0" y2="532.1"><stop offset="0.00%" stop-color="#f8f8f8"/><stop offset="99.69%" stop-color="#f8f8f8"/></linearGradient><linearGradient id="g11_1" gradientUnits="userSpaceOnUse" x1="0" y1="515.8" x2="0" y2="532.1"><stop offset="0.00%" stop-color="#f8f8f8"/><stop offset="99.69%" stop-color="#f8f8f8"/></linearGradient><linearGradient id="g11_2" gradientUnits="userSpaceOnUse" x1="0" y1="515.8" x2="0" y2="532.1"><stop offset="0.00%" stop-color="#f8f8f8"/><stop offset="99.69%" stop-color="#f8f8f8"/></linearGradient><linearGradient id="g11_3" gradientUnits="userSpaceOnUse" x1="0" y1="515.8" x2="0" y2="532.1"><stop offset="0.00%" stop-color="#f8f8f8"/><stop offset="21.47%" stop-color="#f7f7f7"/><stop offset="24.54%" stop-color="#f3f3f3"/><stop offset="26.07%" stop-color="#ededed"/><stop offset="27.61%" stop-color="#e2e2e2"/><stop offset="29.14%" stop-color="#d2d2d2"/><stop offset="30.67%" stop-color="#bbbbbb"/><stop offset="35.28%" stop-color="#656565"/><stop offset="36.81%" stop-color="#4e4e4e"/><stop offset="38.34%" stop-color="#3e3e3e"/><stop offset="39.88%" stop-color="#333333"/><stop offset="41.41%" stop-color="#2d2d2d"/><stop offset="47.55%" stop-color="#282828"/><stop offset="58.28%" stop-color="#292929"/><stop offset="61.35%" stop-color="#2d2d2d"/><stop offset="62.88%" stop-color="#333333"/><stop offset="64.42%" stop-color="#3e3e3e"/><stop offset="65.95%" stop-color="#4e4e4e"/><stop offset="67.48%" stop-color="#656565"/><stop offset="72.09%" stop-color="#bbbbbb"/><stop offset="73.62%" stop-color="#d2d2d2"/><stop offset="75.15%" stop-color="#e2e2e2"/><stop offset="76.69%" stop-color="#ededed"/><stop offset="78.22%" stop-color="#f3f3f3"/><stop offset="81.29%" stop-color="#f7f7f7"/><stop offset="99.69%" stop-color="#f8f8f8"/></linearGradient><linearGradient id="g11_4" gradientUnits="userSpaceOnUse" x1="0" y1="515.8" x2="0" y2="532.1"><stop offset="0.00%" stop-color="#f8f8f8"/><stop offset="24.54%" stop-color="#f7f7f7"/><stop offset="27.61%" stop-color="#f3f3f3"/><stop offset="29.14%" stop-color="#eeeeee"/><stop offset="30.67%" stop-color="#e4e4e4"/><stop offset="32.21%" stop-color="#d4d4d4"/><stop offset="33.74%" stop-color="#bfbfbf"/><stop offset="38.34%" stop-color="#707070"/><stop offset="39.88%" stop-color="#5b5b5b"/><stop offset="41.41%" stop-color="#4b4b4b"/><stop offset="42.94%" stop-color="#414141"/><stop offset="44.48%" stop-color="#3c3c3c"/><stop offset="50.61%" stop-color="#373737"/><stop offset="55.21%" stop-color="#383838"/><stop offset="58.28%" stop-color="#3c3c3c"/><stop offset="59.82%" stop-color="#414141"/><stop offset="61.35%" stop-color="#4b4b4b"/><stop offset="62.88%" stop-color="#5b5b5b"/><stop offset="64.42%" stop-color="#707070"/><stop offset="69.02%" stop-color="#bfbfbf"/><stop offset="70.55%" stop-color="#d4d4d4"/><stop offset="72.09%" stop-color="#e4e4e4"/><stop offset="73.62%" stop-color="#eeeeee"/><stop offset="75.15%" stop-color="#f3f3f3"/><stop offset="78.22%" stop-color="#f7f7f7"/><stop offset="99.69%" stop-color="#f8f8f8"/></linearGradient><linearGradient id="g11_5" gradientUnits="userSpaceOnUse" x1="0" y1="515.8" x2="0" y2="532.1"><stop offset="0.00%" stop-color="#f8f8f8"/><stop offset="32.21%" stop-color="#f7f7f7"/><stop offset="44.48%" stop-color="#efefef"/><stop offset="50.61%" stop-color="#eeeeee"/><stop offset="58.28%" stop-color="#efefef"/><stop offset="70.55%" stop-color="#f7f7f7"/><stop offset="99.69%" stop-color="#f8f8f8"/></linearGradient><linearGradient id="g11_6" gradientUnits="userSpaceOnUse" x1="0" y1="515.8" x2="0" y2="532.1"><stop offset="0.00%" stop-color="#f8f8f8"/><stop offset="99.69%" stop-color="#f8f8f8"/></linearGradient><linearGradient id="g11_7" gradientUnits="userSpaceOnUse" x1="0" y1="515.8" x2="0" y2="532.1"><stop offset="0.00%" stop-color="#f8f8f8"/><stop offset="27.61%" stop-color="#f8f8f8"/><stop offset="30.67%" stop-color="#f7f7f7"/><stop offset="33.74%" stop-color="#f1f1f1"/><stop offset="36.81%" stop-color="#e0e0e0"/><stop offset="38.34%" stop-color="#d2d2d2"/><stop offset="42.94%" stop-color="#9e9e9e"/><stop offset="44.48%" stop-color="#909090"/><stop offset="47.55%" stop-color="#7f7f7f"/><stop offset="50.61%" stop-color="#7a7a7a"/><stop offset="53.68%" stop-color="#7b7b7b"/><stop offset="56.75%" stop-color="#858585"/><stop offset="59.82%" stop-color="#9e9e9e"/><stop offset="64.42%" stop-color="#d2d2d2"/><stop offset="65.95%" stop-color="#e0e0e0"/><stop offset="69.02%" stop-color="#f1f1f1"/><stop offset="73.62%" stop-color="#f8f8f8"/><stop offset="99.69%" stop-color="#f8f8f8"/></linearGradient><linearGradient id="g12_0" gradientUnits="userSpaceOnUse" x1="0" y1="535.0" x2="0" y2="551.8"><stop offset="0.00%" stop-color="#f8f8f8"/><stop offset="23.81%" stop-color="#f7f7f7"/><stop offset="26.79%" stop-color="#f4f4f4"/><stop offset="28.27%" stop-color="#efefef"/><stop offset="29.76%" stop-color="#e6e6e6"/><stop offset="31.25%" stop-color="#d9d9d9"/><stop offset="32.74%" stop-color="#c6c6c6"/><stop offset="37.20%" stop-color="#828282"/><stop offset="38.69%" stop-color="#6f6f6f"/><stop offset="40.18%" stop-color="#626262"/><stop offset="41.67%" stop-color="#595959"/><stop offset="44.64%" stop-color="#525252"/><stop offset="47.62%" stop-color="#545454"/><stop offset="50.60%" stop-color="#616161"/><stop offset="52.08%" stop-color="#6f6f6f"/><stop offset="53.57%" stop-color="#818181"/><stop offset="58.04%" stop-color="#c1c1c1"/><stop offset="59.52%" stop-color="#d0d0d0"/><stop offset="61.01%" stop-color="#dadada"/><stop offset="62.50%" stop-color="#dedede"/><stop offset="71.43%" stop-color="#dadada"/><stop offset="87.80%" stop-color="#dbdbdb"/><stop offset="92.26%" stop-color="#e0e0e0"/><stop offset="99.70%" stop-color="#f2f2f2"/></linearGradient><linearGradient id="g12_1" gradientUnits="userSpaceOnUse" x1="0" y1="535.0" x2="0" y2="551.8"><stop offset="0.00%" stop-color="#f8f8f8"/><stop offset="25.30%" stop-color="#f8f8f8"/><stop offset="29.76%" stop-color="#f0f0f0"/><stop offset="31.25%" stop-color="#e8e8e8"/><stop offset="32.74%" stop-color="#dcdcdc"/><stop offset="34.23%" stop-color="#cbcbcb"/><stop offset="38.69%" stop-color="#8c8c8c"/><stop offset="40.18%" stop-color="#7b7b7b"/><stop offset="41.67%" stop-color="#6f6f6f"/><stop offset="43.15%" stop-color="#676767"/><stop offset="46.13%" stop-color="#626262"/><stop offset="49.11%" stop-color="#676767"/><stop offset="50.60%" stop-color="#6f6f6f"/><stop offset="52.08%" stop-color="#7b7b7b"/><stop offset="53.57%" stop-color="#8c8c8c"/><stop offset="58.04%" stop-color="#c6c6c6"/><stop offset="59.52%" stop-color="#d4d4d4"/><stop offset="61.01%" stop-color="#dddddd"/><stop offset="62.50%" stop-color="#e1e1e1"/><stop offset="87.80%" stop-color="#dfdfdf"/><stop offset="92.26%" stop-color="#e3e3e3"/><stop offset="99.70%" stop-color="#f3f3f3"/></linearGradient><linearGradient id="g12_2" gradientUnits="userSpaceOnUse" x1="0" y1="535.0" x2="0" y2="551.8"><stop offset="0.00%" stop-color="#f8f8f8"/><stop offset="23.81%" stop-color="#f7f7f7"/><stop offset="26.79%" stop-color="#f4f4f4"/><stop offset="28.27%" stop-color="#efefef"/><stop offset="29.76%" stop-color="#e7e7e7"/><stop offset="31.25%" stop-color="#dadada"/><stop offset="32.74%" stop-color="#c8c8c8"/><stop offset="37.20%" stop-color="#858585"/><stop offset="38.69%" stop-color="#737373"/><stop offset="40.18%" stop-color="#666666"/><stop offset="43.15%" stop-color="#595959"/><stop offset="46.13%" stop-color="#565656"/><stop offset="49.11%" stop-color="#595959"/><stop offset="52.08%" stop-color="#666666"/><stop offset="53.57%" stop-color="#727272"/><stop offset="55.06%" stop-color="#838383"/><stop offset="59.52%" stop-color="#bcbcbc"/><stop offset="61.01%" stop-color="#c9c9c9"/><stop offset="62.50%" stop-color="#d0d0d0"/><stop offset="65.48%" stop-color="#d3d3d3"/><stop offset="74.40%" stop-color="#d0d0d0"/><stop offset="89.29%" stop-color="#d2d2d2"/><stop offset="92.26%" stop-color="#d7d7d7"/><stop offset="99.70%" stop-color="#f1f1f1"/></linearGradient><linearGradient id="g12_3" gradientUnits="userSpaceOnUse" x1="0" y1="535.0" x2="0" y2="551.8"><stop offset="0.00%" stop-color="#f8f8f8"/><stop offset="26.79%" stop-color="#f8f8f8"/><stop offset="31.25%" stop-color="#f1f1f1"/><stop offset="34.23%" stop-color="#e0e0e0"/><stop offset="35.71%" stop-color="#d2d2d2"/><stop offset="40.18%" stop-color="#9e9e9e"/><stop offset="41.67%" stop-color="#909090"/><stop offset="43.15%" stop-color="#858585"/><stop offset="46.13%" stop-color="#7c7c7c"/><stop offset="49.11%" stop-color="#7f7f7f"/><stop offset="50.60%" stop-color="#858585"/><stop offset="53.57%" stop-color="#9d9d9d"/><stop offset="58.04%" stop-color="#cdcdcd"/><stop offset="59.52%" stop-color="#d8d8d8"/><stop offset="61.01%" stop-color="#dedede"/><stop offset="62.50%" stop-color="#e0e0e0"/><stop offset="71.43%" stop-color="#dadada"/><stop offset="87.80%" stop-color="#dbdbdb"/><stop offset="92.26%" stop-color="#e0e0e0"/><stop offset="99.70%" stop-color="#f2f2f2"/></linearGradient><linearGradient id="g12_4" gradientUnits="userSpaceOnUse" x1="0" y1="535.0" x2="0" y2="551.8"><stop offset="0.00%" stop-color="#f8f8f8"/><stop offset="14.88%" stop-color="#f7f7f7"/><stop offset="17.86%" stop-color="#f4f4f4"/><stop offset="19.35%" stop-color="#efefef"/><stop offset="20.83%" stop-color="#e6e6e6"/><stop offset="22.32%" stop-color="#d9d9d9"/><stop offset="23.81%" stop-color="#c6c6c6"/><stop offset="28.27%" stop-color="#828282"/><stop offset="29.76%" stop-color="#6f6f6f"/><stop offset="31.25%" stop-color="#626262"/><stop offset="34.23%" stop-color="#545454"/><stop offset="40.18%" stop-color="#505050"/><stop offset="47.62%" stop-color="#535353"/><stop offset="50.60%" stop-color="#5d5d5d"/><stop offset="53.57%" stop-color="#737373"/><stop offset="58.04%" stop-color="#a5a5a5"/><stop offset="59.52%" stop-color="#b2b2b2"/><stop offset="62.50%" stop-color="#c2c2c2"/><stop offset="66.96%" stop-color="#c8c8c8"/><stop offset="89.29%" stop-color="#cbcbcb"/><stop offset="92.26%" stop-color="#d1d1d1"/><stop offset="99.70%" stop-color="#efefef"/></linearGradient><linearGradient id="g12_5" gradientUnits="userSpaceOnUse" x1="0" y1="535.0" x2="0" y2="551.8"><stop offset="0.00%" stop-color="#f8f8f8"/><stop offset="26.79%" stop-color="#f8f8f8"/><stop offset="31.25%" stop-color="#f0f0f0"/><stop offset="32.74%" stop-color="#e9e9e9"/><stop offset="34.23%" stop-color="#dddddd"/><stop offset="35.71%" stop-color="#cccccc"/><stop offset="40.18%" stop-color="#909090"/><stop offset="41.67%" stop-color="#7f7f7f"/><stop offset="43.15%" stop-color="#747474"/><stop offset="44.64%" stop-color="#6d6d6d"/><stop offset="46.13%" stop-color="#6b6b6b"/><stop offset="47.62%" stop-color="#6d6d6d"/><stop offset="49.11%" stop-color="#747474"/><stop offset="50.60%" stop-color="#7f7f7f"/><stop offset="52.08%" stop-color="#909090"/><stop offset="56.55%" stop-color="#cbcbcb"/><stop offset="58.04%" stop-color="#dadada"/><stop offset="59.52%" stop-color="#e5e5e5"/><stop offset="61.01%" stop-color="#ebebeb"/><stop offset="63.99%" stop-color="#ededed"/><stop offset="89.29%" stop-color="#ececec"/><stop offset="99.70%" stop-color="#f6f6f6"/></linearGradient><linearGradient id="g12_6" gradientUnits="userSpaceOnUse" x1="0" y1="535.0" x2="0" y2="551.8"><stop offset="0.00%" stop-color="#f8f8f8"/><stop offset="26.79%" stop-color="#f8f8f8"/><stop offset="31.25%" stop-color="#f0f0f0"/><stop offset="32.74%" stop-color="#e9e9e9"/><stop offset="34.23%" stop-color="#dddddd"/><stop offset="35.71%" stop-color="#cccccc"/><stop offset="40.18%" stop-color="#909090"/><stop offset="41.67%" stop-color="#7f7f7f"/><stop offset="43.15%" stop-color="#747474"/><stop offset="44.64%" stop-color="#6d6d6d"/><stop offset="46.13%" stop-color="#6b6b6b"/><stop offset="47.62%" stop-color="#6d6d6d"/><stop offset="49.11%" stop-color="#747474"/><stop offset="50.60%" stop-color="#7f7f7f"/><stop offset="52.08%" stop-color="#8f8f8f"/><stop offset="56.55%" stop-color="#cacaca"/><stop offset="58.04%" stop-color="#d9d9d9"/><stop offset="59.52%" stop-color="#e3e3e3"/><stop offset="61.01%" stop-color="#e8e8e8"/><stop offset="71.43%" stop-color="#e4e4e4"/><stop offset="87.80%" stop-color="#e4e4e4"/><stop offset="92.26%" stop-color="#e8e8e8"/><stop offset="99.70%" stop-color="#f4f4f4"/></linearGradient><linearGradient id="g12_7" gradientUnits="userSpaceOnUse" x1="0" y1="535.0" x2="0" y2="551.8"><stop offset="0.00%" stop-color="#f8f8f8"/><stop offset="26.79%" stop-color="#f8f8f8"/><stop offset="31.25%" stop-color="#f0f0f0"/><stop offset="32.74%" stop-color="#e9e9e9"/><stop offset="34.23%" stop-color="#dddddd"/><stop offset="35.71%" stop-color="#cccccc"/><stop offset="40.18%" stop-color="#909090"/><stop offset="41.67%" stop-color="#7f7f7f"/><stop offset="43.15%" stop-color="#747474"/><stop offset="46.13%" stop-color="#696969"/><stop offset="49.11%" stop-color="#6c6c6c"/><stop offset="50.60%" stop-color="#737373"/><stop offset="52.08%" stop-color="#7f7f7f"/><stop offset="53.57%" stop-color="#8f8f8f"/><stop offset="58.04%" stop-color="#c9c9c9"/><stop offset="59.52%" stop-color="#d7d7d7"/><stop offset="61.01%" stop-color="#e0e0e0"/><stop offset="62.50%" stop-color="#e5e5e5"/><stop offset="89.29%" stop-color="#e5e5e5"/><stop offset="99.70%" stop-color="#f4f4f4"/></linearGradient></defs>
<rect x="74" y="39.4" width="107" height="94.10" fill="#fcfcfc"/>
<g filter="url(#hb)">
<rect x="75.20" y="39.9" width="11.6" height="93.10" fill="url(#g0_0)"/>
<rect x="88.55" y="39.9" width="11.6" height="93.10" fill="url(#g0_1)"/>
<rect x="101.90" y="39.9" width="11.6" height="93.10" fill="url(#g0_2)"/>
<rect x="115.25" y="39.9" width="11.6" height="93.10" fill="url(#g0_3)"/>
<rect x="128.60" y="39.9" width="11.6" height="93.10" fill="url(#g0_4)"/>
<rect x="141.95" y="39.9" width="11.6" height="93.10" fill="url(#g0_5)"/>
<rect x="155.30" y="39.9" width="11.6" height="93.10" fill="url(#g0_6)"/>
<rect x="168.65" y="39.9" width="11.6" height="93.10" fill="url(#g0_7)"/>
</g>
<rect x="74" y="39.4" width="107" height="94.10" fill="none" stroke="#999" stroke-width="1"/>
<line x1="181" y1="49.4" x2="183" y2="49.4" stroke="#444" stroke-width="0.6"/>
<text x="183.8" y="51.90" font-size="6.9" fill="#222">150</text>
<line x1="181" y1="66.8" x2="183" y2="66.8" stroke="#444" stroke-width="0.6"/>
<text x="183.8" y="69.30" font-size="6.9" fill="#222">100</text>
<line x1="181" y1="81.8" x2="183" y2="81.8" stroke="#444" stroke-width="0.6"/>
<text x="183.8" y="84.30" font-size="6.9" fill="#222">80</text>
<line x1="181" y1="93.2" x2="183" y2="93.2" stroke="#444" stroke-width="0.6"/>
<text x="183.8" y="95.70" font-size="6.9" fill="#222">60</text>
<rect x="74" y="135.4" width="107" height="18.10" fill="#fcfcfc"/>
<g filter="url(#hb)">
<rect x="75.20" y="135.9" width="11.6" height="17.10" fill="url(#g1_0)"/>
<rect x="88.55" y="135.9" width="11.6" height="17.10" fill="url(#g1_1)"/>
<rect x="101.90" y="135.9" width="11.6" height="17.10" fill="url(#g1_2)"/>
<rect x="115.25" y="135.9" width="11.6" height="17.10" fill="url(#g1_3)"/>
<rect x="128.60" y="135.9" width="11.6" height="17.10" fill="url(#g1_4)"/>
<rect x="141.95" y="135.9" width="11.6" height="17.10" fill="url(#g1_5)"/>
<rect x="155.30" y="135.9" width="11.6" height="17.10" fill="url(#g1_6)"/>
<rect x="168.65" y="135.9" width="11.6" height="17.10" fill="url(#g1_7)"/>
</g>
<rect x="74" y="135.4" width="107" height="18.10" fill="none" stroke="#999" stroke-width="1"/>
<rect x="74" y="155.4" width="107" height="17.20" fill="#fcfcfc"/>
<g filter="url(#hb)">
<rect x="75.20" y="155.9" width="11.6" height="16.20" fill="url(#g2_0)"/>
<rect x="88.55" y="155.9" width="11.6" height="16.20" fill="url(#g2_1)"/>
<rect x="101.90" y="155.9" width="11.6" height="16.20" fill="url(#g2_2)"/>
<rect x="115.25" y="155.9" width="11.6" height="16.20" fill="url(#g2_3)"/>
<rect x="128.60" y="155.9" width="11.6" height="16.20" fill="url(#g2_4)"/>
<rect x="141.95" y="155.9" width="11.6" height="16.20" fill="url(#g2_5)"/>
<rect x="155.30" y="155.9" width="11.6" height="16.20" fill="url(#g2_6)"/>
<rect x="168.65" y="155.9" width="11.6" height="16.20" fill="url(#g2_7)"/>
</g>
<rect x="74" y="155.4" width="107" height="17.20" fill="none" stroke="#999" stroke-width="1"/>
<rect x="74" y="174.1" width="107" height="18.10" fill="#fcfcfc"/>
<g filter="url(#hb)">
<rect x="75.20" y="174.6" width="11.6" height="17.10" fill="url(#g3_0)"/>
<rect x="88.55" y="174.6" width="11.6" height="17.10" fill="url(#g3_1)"/>
<rect x="101.90" y="174.6" width="11.6" height="17.10" fill="url(#g3_2)"/>
<rect x="115.25" y="174.6" width="11.6" height="17.10" fill="url(#g3_3)"/>
<rect x="128.60" y="174.6" width="11.6" height="17.10" fill="url(#g3_4)"/>
<rect x="141.95" y="174.6" width="11.6" height="17.10" fill="url(#g3_5)"/>
<rect x="155.30" y="174.6" width="11.6" height="17.10" fill="url(#g3_6)"/>
<rect x="168.65" y="174.6" width="11.6" height="17.10" fill="url(#g3_7)"/>
</g>
<rect x="74" y="174.1" width="107" height="18.10" fill="none" stroke="#999" stroke-width="1"/>
<rect x="74" y="194.1" width="107" height="17.50" fill="#fcfcfc"/>
<g filter="url(#hb)">
<rect x="75.20" y="194.6" width="11.6" height="16.50" fill="url(#g4_0)"/>
<rect x="88.55" y="194.6" width="11.6" height="16.50" fill="url(#g4_1)"/>
<rect x="101.90" y="194.6" width="11.6" height="16.50" fill="url(#g4_2)"/>
<rect x="115.25" y="194.6" width="11.6" height="16.50" fill="url(#g4_3)"/>
<rect x="128.60" y="194.6" width="11.6" height="16.50" fill="url(#g4_4)"/>
<rect x="141.95" y="194.6" width="11.6" height="16.50" fill="url(#g4_5)"/>
<rect x="155.30" y="194.6" width="11.6" height="16.50" fill="url(#g4_6)"/>
<rect x="168.65" y="194.6" width="11.6" height="16.50" fill="url(#g4_7)"/>
</g>
<rect x="74" y="194.1" width="107" height="17.50" fill="none" stroke="#999" stroke-width="1"/>
<rect x="74" y="213.5" width="107" height="17.30" fill="#fcfcfc"/>
<g filter="url(#hb)">
<rect x="75.20" y="214.0" width="11.6" height="16.30" fill="url(#g5_0)"/>
<rect x="88.55" y="214.0" width="11.6" height="16.30" fill="url(#g5_1)"/>
<rect x="101.90" y="214.0" width="11.6" height="16.30" fill="url(#g5_2)"/>
<rect x="115.25" y="214.0" width="11.6" height="16.30" fill="url(#g5_3)"/>
<rect x="128.60" y="214.0" width="11.6" height="16.30" fill="url(#g5_4)"/>
<rect x="141.95" y="214.0" width="11.6" height="16.30" fill="url(#g5_5)"/>
<rect x="155.30" y="214.0" width="11.6" height="16.30" fill="url(#g5_6)"/>
<rect x="168.65" y="214.0" width="11.6" height="16.30" fill="url(#g5_7)"/>
</g>
<rect x="74" y="213.5" width="107" height="17.30" fill="none" stroke="#999" stroke-width="1"/>
<rect x="74" y="232.7" width="107" height="77.60" fill="#fcfcfc"/>
<g filter="url(#hb)">
<rect x="75.20" y="233.2" width="11.6" height="76.60" fill="url(#g6_0)"/>
<rect x="88.55" y="233.2" width="11.6" height="76.60" fill="url(#g6_1)"/>
<rect x="101.90" y="233.2" width="11.6" height="76.60" fill="url(#g6_2)"/>
<rect x="115.25" y="233.2" width="11.6" height="76.60" fill="url(#g6_3)"/>
<rect x="128.60" y="233.2" width="11.6" height="76.60" fill="url(#g6_4)"/>
<rect x="141.95" y="233.2" width="11.6" height="76.60" fill="url(#g6_5)"/>
<rect x="155.30" y="233.2" width="11.6" height="76.60" fill="url(#g6_6)"/>
<rect x="168.65" y="233.2" width="11.6" height="76.60" fill="url(#g6_7)"/>
</g>
<rect x="74" y="232.7" width="107" height="77.60" fill="none" stroke="#999" stroke-width="1"/>
<line x1="181" y1="237" x2="183" y2="237" stroke="#444" stroke-width="0.6"/>
<text x="183.8" y="239.50" font-size="6.9" fill="#222">180</text>
<line x1="181" y1="253.8" x2="183" y2="253.8" stroke="#444" stroke-width="0.6"/>
<text x="183.8" y="256.30" font-size="6.9" fill="#222">116</text>
<line x1="181" y1="269.4" x2="183" y2="269.4" stroke="#444" stroke-width="0.6"/>
<text x="183.8" y="271.90" font-size="6.9" fill="#222">66</text>
<line x1="181" y1="295.5" x2="183" y2="295.5" stroke="#444" stroke-width="0.6"/>
<text x="183.8" y="298.00" font-size="6.9" fill="#222">40</text>
<rect x="74" y="312.5" width="107" height="16.80" fill="#fcfcfc"/>
<g filter="url(#hb)">
<rect x="75.20" y="313.0" width="11.6" height="15.80" fill="url(#g7_0)"/>
<rect x="88.55" y="313.0" width="11.6" height="15.80" fill="url(#g7_1)"/>
<rect x="101.90" y="313.0" width="11.6" height="15.80" fill="url(#g7_2)"/>
<rect x="115.25" y="313.0" width="11.6" height="15.80" fill="url(#g7_3)"/>
<rect x="128.60" y="313.0" width="11.6" height="15.80" fill="url(#g7_4)"/>
<rect x="141.95" y="313.0" width="11.6" height="15.80" fill="url(#g7_5)"/>
<rect x="155.30" y="313.0" width="11.6" height="15.80" fill="url(#g7_6)"/>
<rect x="168.65" y="313.0" width="11.6" height="15.80" fill="url(#g7_7)"/>
</g>
<rect x="74" y="312.5" width="107" height="16.80" fill="none" stroke="#999" stroke-width="1"/>
<rect x="74" y="331.5" width="107" height="17.90" fill="#fcfcfc"/>
<g filter="url(#hb)">
<rect x="75.20" y="332.0" width="11.6" height="16.90" fill="url(#g8_0)"/>
<rect x="88.55" y="332.0" width="11.6" height="16.90" fill="url(#g8_1)"/>
<rect x="101.90" y="332.0" width="11.6" height="16.90" fill="url(#g8_2)"/>
<rect x="115.25" y="332.0" width="11.6" height="16.90" fill="url(#g8_3)"/>
<rect x="128.60" y="332.0" width="11.6" height="16.90" fill="url(#g8_4)"/>
<rect x="141.95" y="332.0" width="11.6" height="16.90" fill="url(#g8_5)"/>
<rect x="155.30" y="332.0" width="11.6" height="16.90" fill="url(#g8_6)"/>
<rect x="168.65" y="332.0" width="11.6" height="16.90" fill="url(#g8_7)"/>
</g>
<rect x="74" y="331.5" width="107" height="17.90" fill="none" stroke="#999" stroke-width="1"/>
<rect x="74" y="351.6" width="107" height="75.80" fill="#fcfcfc"/>
<g filter="url(#hb)">
<rect x="75.20" y="352.1" width="11.6" height="74.80" fill="url(#g9_0)"/>
<rect x="88.55" y="352.1" width="11.6" height="74.80" fill="url(#g9_1)"/>
<rect x="101.90" y="352.1" width="11.6" height="74.80" fill="url(#g9_2)"/>
<rect x="115.25" y="352.1" width="11.6" height="74.80" fill="url(#g9_3)"/>
<rect x="128.60" y="352.1" width="11.6" height="74.80" fill="url(#g9_4)"/>
<rect x="141.95" y="352.1" width="11.6" height="74.80" fill="url(#g9_5)"/>
<rect x="155.30" y="352.1" width="11.6" height="74.80" fill="url(#g9_6)"/>
<rect x="168.65" y="352.1" width="11.6" height="74.80" fill="url(#g9_7)"/>
</g>
<rect x="74" y="351.6" width="107" height="75.80" fill="none" stroke="#999" stroke-width="1"/>
<line x1="181" y1="355.2" x2="183" y2="355.2" stroke="#444" stroke-width="0.6"/>
<text x="183.8" y="357.70" font-size="6.9" fill="#222">230</text>
<line x1="181" y1="366.2" x2="183" y2="366.2" stroke="#444" stroke-width="0.6"/>
<text x="183.8" y="368.70" font-size="6.9" fill="#222">180</text>
<line x1="181" y1="389.6" x2="183" y2="389.6" stroke="#444" stroke-width="0.6"/>
<text x="183.8" y="392.10" font-size="6.9" fill="#222">116</text>
<line x1="181" y1="411.7" x2="183" y2="411.7" stroke="#444" stroke-width="0.6"/>
<text x="183.8" y="414.20" font-size="6.9" fill="#222">66</text>
<rect x="74" y="429.7" width="107" height="83.20" fill="#fcfcfc"/>
<g filter="url(#hb)">
<rect x="75.20" y="430.2" width="11.6" height="82.20" fill="url(#g10_0)"/>
<rect x="88.55" y="430.2" width="11.6" height="82.20" fill="url(#g10_1)"/>
<rect x="101.90" y="430.2" width="11.6" height="82.20" fill="url(#g10_2)"/>
<rect x="115.25" y="430.2" width="11.6" height="82.20" fill="url(#g10_3)"/>
<rect x="128.60" y="430.2" width="11.6" height="82.20" fill="url(#g10_4)"/>
<rect x="141.95" y="430.2" width="11.6" height="82.20" fill="url(#g10_5)"/>
<rect x="155.30" y="430.2" width="11.6" height="82.20" fill="url(#g10_6)"/>
<rect x="168.65" y="430.2" width="11.6" height="82.20" fill="url(#g10_7)"/>
</g>
<rect x="74" y="429.7" width="107" height="83.20" fill="none" stroke="#999" stroke-width="1"/>
<line x1="181" y1="445.4" x2="183" y2="445.4" stroke="#444" stroke-width="0.6"/>
<text x="183.8" y="447.90" font-size="6.9" fill="#222">116</text>
<line x1="181" y1="468.3" x2="183" y2="468.3" stroke="#444" stroke-width="0.6"/>
<text x="183.8" y="470.80" font-size="6.9" fill="#222">66</text>
<line x1="181" y1="507.4" x2="183" y2="507.4" stroke="#444" stroke-width="0.6"/>
<text x="183.8" y="509.90" font-size="6.9" fill="#222">40</text>
<rect x="74" y="515.3" width="107" height="17.30" fill="#fcfcfc"/>
<g filter="url(#hb)">
<rect x="75.20" y="515.8" width="11.6" height="16.30" fill="url(#g11_0)"/>
<rect x="88.55" y="515.8" width="11.6" height="16.30" fill="url(#g11_1)"/>
<rect x="101.90" y="515.8" width="11.6" height="16.30" fill="url(#g11_2)"/>
<rect x="115.25" y="515.8" width="11.6" height="16.30" fill="url(#g11_3)"/>
<rect x="128.60" y="515.8" width="11.6" height="16.30" fill="url(#g11_4)"/>
<rect x="141.95" y="515.8" width="11.6" height="16.30" fill="url(#g11_5)"/>
<rect x="155.30" y="515.8" width="11.6" height="16.30" fill="url(#g11_6)"/>
<rect x="168.65" y="515.8" width="11.6" height="16.30" fill="url(#g11_7)"/>
</g>
<rect x="74" y="515.3" width="107" height="17.30" fill="none" stroke="#999" stroke-width="1"/>
<rect x="74" y="534.5" width="107" height="17.80" fill="#fcfcfc"/>
<g filter="url(#hb)">
<rect x="75.20" y="535.0" width="11.6" height="16.80" fill="url(#g12_0)"/>
<rect x="88.55" y="535.0" width="11.6" height="16.80" fill="url(#g12_1)"/>
<rect x="101.90" y="535.0" width="11.6" height="16.80" fill="url(#g12_2)"/>
<rect x="115.25" y="535.0" width="11.6" height="16.80" fill="url(#g12_3)"/>
<rect x="128.60" y="535.0" width="11.6" height="16.80" fill="url(#g12_4)"/>
<rect x="141.95" y="535.0" width="11.6" height="16.80" fill="url(#g12_5)"/>
<rect x="155.30" y="535.0" width="11.6" height="16.80" fill="url(#g12_6)"/>
<rect x="168.65" y="535.0" width="11.6" height="16.80" fill="url(#g12_7)"/>
</g>
<rect x="74" y="534.5" width="107" height="17.80" fill="none" stroke="#999" stroke-width="1"/>
<text x="65.50" y="92.30" font-size="6.6" text-anchor="end" font-weight="normal" fill="#222" >pTyr (4G10)</text>
<text x="65.50" y="147.20" font-size="6.6" text-anchor="end" font-weight="normal" fill="#222" >BTK pY223</text>
<text x="65.50" y="167.10" font-size="6.6" text-anchor="end" font-weight="normal" fill="#222" >PLCγ2 pY1217</text>
<text x="65.50" y="185.50" font-size="6.6" text-anchor="end" font-weight="normal" fill="#222" >DAPP1 pY139</text>
<text x="65.50" y="204.50" font-size="6.6" text-anchor="end" font-weight="normal" fill="#222" >Src pY419</text>
<text x="65.50" y="225.80" font-size="6.6" text-anchor="end" font-weight="normal" fill="#222" >Akt pS473</text>
<text x="43.40" y="261.00" font-size="6.6" text-anchor="middle" font-weight="normal" fill="#222" >phospho.</text>
<text x="43.40" y="269.20" font-size="6.6" text-anchor="middle" font-weight="normal" fill="#222" >Akt substrates</text>
<text x="43.40" y="277.00" font-size="6.6" text-anchor="middle" font-weight="normal" fill="#222" >(RXXp<tspan font-weight="bold">S</tspan>/p<tspan font-weight="bold">T</tspan>)</text>
<text x="65.60" y="324.60" font-size="6.6" text-anchor="end" font-weight="normal" fill="#222" letter-spacing="0.13">p38 pT180/pY182</text>
<text x="65.40" y="343.80" font-size="6.6" text-anchor="end" font-weight="normal" fill="#222" letter-spacing="0.08">ERK1/2 pT202/pY204</text>
<text x="39.00" y="371.70" font-size="6.6" text-anchor="middle" font-weight="normal" fill="#222" >phospho.</text>
<text x="39.00" y="379.40" font-size="6.6" text-anchor="middle" font-weight="normal" fill="#222" >MAPK substrates</text>
<text x="39.00" y="388.00" font-size="6.6" text-anchor="middle" font-weight="normal" fill="#222" >(p<tspan font-weight="bold">S</tspan>P)</text>
<text x="42.20" y="465.50" font-size="6.6" text-anchor="middle" font-weight="normal" fill="#222" >phospho.</text>
<text x="42.20" y="473.10" font-size="6.6" text-anchor="middle" font-weight="normal" fill="#222" >PKC substrates</text>
<text x="42.20" y="480.90" font-size="6.6" text-anchor="middle" font-weight="normal" fill="#222" >(R/KXp<tspan font-weight="bold">S</tspan>XR/K)</text>
<text x="65.70" y="525.60" font-size="6.6" text-anchor="end" font-weight="normal" fill="#222" letter-spacing="0.12">MLC2 pT18/pS19</text>
<text x="65.50" y="544.00" font-size="6.6" text-anchor="end" font-weight="normal" fill="#222" >α-tubulin</text>
<text x="221.90" y="10.30" font-size="11.6" text-anchor="start" font-weight="bold" fill="#111" stroke="#111" stroke-width="0.5">B</text>
<text x="316.70" y="7.05" font-size="8.42" text-anchor="middle" font-weight="normal" fill="#222" >pTyr (4G10)</text>
<line x1="294.24" y1="11.05" x2="339.16" y2="11.05" stroke="#333" stroke-width="1"/>
<line x1="275.40" y1="63.23" x2="275.40" y2="60.17" stroke="#333" stroke-width="0.9"/>
<line x1="273.10" y1="60.17" x2="277.70" y2="60.17" stroke="#333" stroke-width="1.1"/>
<rect x="271.65" y="63.23" width="7.5" height="11.02" fill="#1a5390" stroke="#0f2e58" stroke-width="0.5"/>
<line x1="275.40" y1="74.25" x2="275.40" y2="77.25" stroke="#111" stroke-width="0.8"/>
<line x1="287.15" y1="63.85" x2="287.15" y2="60.17" stroke="#333" stroke-width="0.9"/>
<line x1="284.85" y1="60.17" x2="289.45" y2="60.17" stroke="#333" stroke-width="1.1"/>
<rect x="283.40" y="63.85" width="7.5" height="10.40" fill="#1a5390" stroke="#0f2e58" stroke-width="0.5"/>
<line x1="287.15" y1="74.25" x2="287.15" y2="77.25" stroke="#111" stroke-width="0.8"/>
<line x1="298.90" y1="37.53" x2="298.90" y2="35.69" stroke="#333" stroke-width="0.9"/>
<line x1="296.60" y1="35.69" x2="301.20" y2="35.69" stroke="#333" stroke-width="1.1"/>
<rect x="295.15" y="37.53" width="7.5" height="36.72" fill="#cf062e" stroke="#7a0a1c" stroke-width="0.5"/>
<line x1="298.90" y1="74.25" x2="298.90" y2="77.25" stroke="#111" stroke-width="0.8"/>
<line x1="310.65" y1="30.80" x2="310.65" y2="28.35" stroke="#333" stroke-width="0.9"/>
<line x1="308.35" y1="28.35" x2="312.95" y2="28.35" stroke="#333" stroke-width="1.1"/>
<rect x="306.90" y="30.80" width="7.5" height="43.45" fill="#cf062e" stroke="#7a0a1c" stroke-width="0.5"/>
<line x1="310.65" y1="74.25" x2="310.65" y2="77.25" stroke="#111" stroke-width="0.8"/>
<line x1="322.40" y1="24.07" x2="322.40" y2="17.33" stroke="#333" stroke-width="0.9"/>
<line x1="320.10" y1="17.33" x2="324.70" y2="17.33" stroke="#333" stroke-width="1.1"/>
<rect x="318.65" y="24.07" width="7.5" height="50.18" fill="#39aa38" stroke="#1f6a1f" stroke-width="0.5"/>
<line x1="322.40" y1="74.25" x2="322.40" y2="77.25" stroke="#111" stroke-width="0.8"/>
<line x1="334.15" y1="32.02" x2="334.15" y2="29.57" stroke="#333" stroke-width="0.9"/>
<line x1="331.85" y1="29.57" x2="336.45" y2="29.57" stroke="#333" stroke-width="1.1"/>
<rect x="330.40" y="32.02" width="7.5" height="42.23" fill="#611e6a" stroke="#3a1040" stroke-width="0.5"/>
<line x1="334.15" y1="74.25" x2="334.15" y2="77.25" stroke="#111" stroke-width="0.8"/>
<line x1="345.90" y1="44.87" x2="345.90" y2="39.37" stroke="#333" stroke-width="0.9"/>
<line x1="343.60" y1="39.37" x2="348.20" y2="39.37" stroke="#333" stroke-width="1.1"/>
<rect x="342.15" y="44.87" width="7.5" height="29.38" fill="#1a5390" stroke="#0f2e58" stroke-width="0.5"/>
<line x1="345.90" y1="74.25" x2="345.90" y2="77.25" stroke="#111" stroke-width="0.8"/>
<line x1="357.65" y1="37.53" x2="357.65" y2="33.86" stroke="#333" stroke-width="0.9"/>
<line x1="355.35" y1="33.86" x2="359.95" y2="33.86" stroke="#333" stroke-width="1.1"/>
<rect x="353.90" y="37.53" width="7.5" height="36.72" fill="#f49b10" stroke="#9a5e0c" stroke-width="0.5"/>
<line x1="357.65" y1="74.25" x2="357.65" y2="77.25" stroke="#111" stroke-width="0.8"/>
<line x1="267.20" y1="74.65" x2="267.20" y2="10.25" stroke="#111" stroke-width="0.9"/>
<line x1="264.20" y1="74.25" x2="364.65" y2="74.25" stroke="#111" stroke-width="0.9"/>
<line x1="264.20" y1="74.25" x2="267.20" y2="74.25" stroke="#111" stroke-width="0.8"/>
<text x="261.40" y="76.75" font-size="6.7" text-anchor="end" font-weight="normal" fill="#222" >0</text>
<line x1="264.20" y1="62.01" x2="267.20" y2="62.01" stroke="#111" stroke-width="0.8"/>
<text x="261.40" y="64.51" font-size="6.7" text-anchor="end" font-weight="normal" fill="#222" >20</text>
<line x1="264.20" y1="49.77" x2="267.20" y2="49.77" stroke="#111" stroke-width="0.8"/>
<text x="261.40" y="52.27" font-size="6.7" text-anchor="end" font-weight="normal" fill="#222" >40</text>
<line x1="264.20" y1="37.53" x2="267.20" y2="37.53" stroke="#111" stroke-width="0.8"/>
<text x="261.40" y="40.03" font-size="6.7" text-anchor="end" font-weight="normal" fill="#222" >60</text>
<line x1="264.20" y1="25.29" x2="267.20" y2="25.29" stroke="#111" stroke-width="0.8"/>
<text x="261.40" y="27.79" font-size="6.7" text-anchor="end" font-weight="normal" fill="#222" >80</text>
<line x1="264.20" y1="13.05" x2="267.20" y2="13.05" stroke="#111" stroke-width="0.8"/>
<text x="261.40" y="15.55" font-size="6.7" text-anchor="end" font-weight="normal" fill="#222" >100</text>
<text x="316.70" y="94.30" font-size="8.42" text-anchor="middle" font-weight="normal" fill="#222" >BTK pY223</text>
<line x1="295.16" y1="98.30" x2="338.24" y2="98.30" stroke="#333" stroke-width="1"/>
<line x1="275.40" y1="151.71" x2="275.40" y2="148.04" stroke="#333" stroke-width="0.9"/>
<line x1="273.10" y1="148.04" x2="277.70" y2="148.04" stroke="#333" stroke-width="1.1"/>
<rect x="271.65" y="151.71" width="7.5" height="9.79" fill="#1a5390" stroke="#0f2e58" stroke-width="0.5"/>
<line x1="275.40" y1="161.50" x2="275.40" y2="164.50" stroke="#111" stroke-width="0.8"/>
<line x1="287.15" y1="146.20" x2="287.15" y2="139.47" stroke="#333" stroke-width="0.9"/>
<line x1="284.85" y1="139.47" x2="289.45" y2="139.47" stroke="#333" stroke-width="1.1"/>
<rect x="283.40" y="146.20" width="7.5" height="15.30" fill="#1a5390" stroke="#0f2e58" stroke-width="0.5"/>
<line x1="287.15" y1="161.50" x2="287.15" y2="164.50" stroke="#111" stroke-width="0.8"/>
<line x1="298.90" y1="147.42" x2="298.90" y2="141.30" stroke="#333" stroke-width="0.9"/>
<line x1="296.60" y1="141.30" x2="301.20" y2="141.30" stroke="#333" stroke-width="1.1"/>
<rect x="295.15" y="147.42" width="7.5" height="14.08" fill="#cf062e" stroke="#7a0a1c" stroke-width="0.5"/>
<line x1="298.90" y1="161.50" x2="298.90" y2="164.50" stroke="#111" stroke-width="0.8"/>
<line x1="310.65" y1="129.06" x2="310.65" y2="123.56" stroke="#333" stroke-width="0.9"/>
<line x1="308.35" y1="123.56" x2="312.95" y2="123.56" stroke="#333" stroke-width="1.1"/>
<rect x="306.90" y="129.06" width="7.5" height="32.44" fill="#cf062e" stroke="#7a0a1c" stroke-width="0.5"/>
<line x1="310.65" y1="161.50" x2="310.65" y2="164.50" stroke="#111" stroke-width="0.8"/>
<line x1="322.40" y1="129.06" x2="322.40" y2="117.44" stroke="#333" stroke-width="0.9"/>
<line x1="320.10" y1="117.44" x2="324.70" y2="117.44" stroke="#333" stroke-width="1.1"/>
<rect x="318.65" y="129.06" width="7.5" height="32.44" fill="#39aa38" stroke="#1f6a1f" stroke-width="0.5"/>
<line x1="322.40" y1="161.50" x2="322.40" y2="164.50" stroke="#111" stroke-width="0.8"/>
<line x1="334.15" y1="124.78" x2="334.15" y2="112.54" stroke="#333" stroke-width="0.9"/>
<line x1="331.85" y1="112.54" x2="336.45" y2="112.54" stroke="#333" stroke-width="1.1"/>
<rect x="330.40" y="124.78" width="7.5" height="36.72" fill="#611e6a" stroke="#3a1040" stroke-width="0.5"/>
<line x1="334.15" y1="161.50" x2="334.15" y2="164.50" stroke="#111" stroke-width="0.8"/>
<line x1="345.90" y1="155.38" x2="345.90" y2="151.10" stroke="#333" stroke-width="0.9"/>
<line x1="343.60" y1="151.10" x2="348.20" y2="151.10" stroke="#333" stroke-width="1.1"/>
<rect x="342.15" y="155.38" width="7.5" height="6.12" fill="#1a5390" stroke="#0f2e58" stroke-width="0.5"/>
<line x1="345.90" y1="161.50" x2="345.90" y2="164.50" stroke="#111" stroke-width="0.8"/>
<line x1="357.65" y1="138.24" x2="357.65" y2="126.00" stroke="#333" stroke-width="0.9"/>
<line x1="355.35" y1="126.00" x2="359.95" y2="126.00" stroke="#333" stroke-width="1.1"/>
<rect x="353.90" y="138.24" width="7.5" height="23.26" fill="#f49b10" stroke="#9a5e0c" stroke-width="0.5"/>
<line x1="357.65" y1="161.50" x2="357.65" y2="164.50" stroke="#111" stroke-width="0.8"/>
<line x1="267.20" y1="161.90" x2="267.20" y2="97.50" stroke="#111" stroke-width="0.9"/>
<line x1="264.20" y1="161.50" x2="364.65" y2="161.50" stroke="#111" stroke-width="0.9"/>
<line x1="264.20" y1="161.50" x2="267.20" y2="161.50" stroke="#111" stroke-width="0.8"/>
<text x="261.40" y="164.00" font-size="6.7" text-anchor="end" font-weight="normal" fill="#222" >0</text>
<line x1="264.20" y1="149.26" x2="267.20" y2="149.26" stroke="#111" stroke-width="0.8"/>
<text x="261.40" y="151.76" font-size="6.7" text-anchor="end" font-weight="normal" fill="#222" >100000</text>
<line x1="264.20" y1="137.02" x2="267.20" y2="137.02" stroke="#111" stroke-width="0.8"/>
<text x="261.40" y="139.52" font-size="6.7" text-anchor="end" font-weight="normal" fill="#222" >200000</text>
<line x1="264.20" y1="124.78" x2="267.20" y2="124.78" stroke="#111" stroke-width="0.8"/>
<text x="261.40" y="127.28" font-size="6.7" text-anchor="end" font-weight="normal" fill="#222" >300000</text>
<line x1="264.20" y1="112.54" x2="267.20" y2="112.54" stroke="#111" stroke-width="0.8"/>
<text x="261.40" y="115.04" font-size="6.7" text-anchor="end" font-weight="normal" fill="#222" >400000</text>
<line x1="264.20" y1="100.30" x2="267.20" y2="100.30" stroke="#111" stroke-width="0.8"/>
<text x="261.40" y="102.80" font-size="6.7" text-anchor="end" font-weight="normal" fill="#222" >500000</text>
<text x="316.70" y="181.60" font-size="8.42" text-anchor="middle" font-weight="normal" fill="#222" >PLCG2 pY1217</text>
<line x1="287.20" y1="185.60" x2="346.20" y2="185.60" stroke="#333" stroke-width="1"/>
<line x1="275.40" y1="248.39" x2="275.40" y2="248.19" stroke="#333" stroke-width="0.9"/>
<line x1="273.10" y1="248.19" x2="277.70" y2="248.19" stroke="#333" stroke-width="1.1"/>
<rect x="271.65" y="248.39" width="7.5" height="0.41" fill="#1a5390" stroke="#0f2e58" stroke-width="0.5"/>
<line x1="275.40" y1="248.80" x2="275.40" y2="251.80" stroke="#111" stroke-width="0.8"/>
<line x1="287.15" y1="242.17" x2="287.15" y2="241.15" stroke="#333" stroke-width="0.9"/>
<line x1="284.85" y1="241.15" x2="289.45" y2="241.15" stroke="#333" stroke-width="1.1"/>
<rect x="283.40" y="242.17" width="7.5" height="6.63" fill="#1a5390" stroke="#0f2e58" stroke-width="0.5"/>
<line x1="287.15" y1="248.80" x2="287.15" y2="251.80" stroke="#111" stroke-width="0.8"/>
<line x1="298.90" y1="226.36" x2="298.90" y2="205.45" stroke="#333" stroke-width="0.9"/>
<line x1="296.60" y1="205.45" x2="301.20" y2="205.45" stroke="#333" stroke-width="1.1"/>
<rect x="295.15" y="226.36" width="7.5" height="22.44" fill="#cf062e" stroke="#7a0a1c" stroke-width="0.5"/>
<line x1="298.90" y1="248.80" x2="298.90" y2="251.80" stroke="#111" stroke-width="0.8"/>
<line x1="310.65" y1="203.41" x2="310.65" y2="196.78" stroke="#333" stroke-width="0.9"/>
<line x1="308.35" y1="196.78" x2="312.95" y2="196.78" stroke="#333" stroke-width="1.1"/>
<rect x="306.90" y="203.41" width="7.5" height="45.39" fill="#cf062e" stroke="#7a0a1c" stroke-width="0.5"/>
<line x1="310.65" y1="248.80" x2="310.65" y2="251.80" stroke="#111" stroke-width="0.8"/>
<line x1="322.40" y1="208.51" x2="322.40" y2="197.80" stroke="#333" stroke-width="0.9"/>
<line x1="320.10" y1="197.80" x2="324.70" y2="197.80" stroke="#333" stroke-width="1.1"/>
<rect x="318.65" y="208.51" width="7.5" height="40.29" fill="#39aa38" stroke="#1f6a1f" stroke-width="0.5"/>
<line x1="322.40" y1="248.80" x2="322.40" y2="251.80" stroke="#111" stroke-width="0.8"/>
<line x1="334.15" y1="205.96" x2="334.15" y2="201.88" stroke="#333" stroke-width="0.9"/>
<line x1="331.85" y1="201.88" x2="336.45" y2="201.88" stroke="#333" stroke-width="1.1"/>
<rect x="330.40" y="205.96" width="7.5" height="42.84" fill="#611e6a" stroke="#3a1040" stroke-width="0.5"/>
<line x1="334.15" y1="248.80" x2="334.15" y2="251.80" stroke="#111" stroke-width="0.8"/>
<line x1="345.90" y1="244.21" x2="345.90" y2="242.17" stroke="#333" stroke-width="0.9"/>
<line x1="343.60" y1="242.17" x2="348.20" y2="242.17" stroke="#333" stroke-width="1.1"/>
<rect x="342.15" y="244.21" width="7.5" height="4.59" fill="#1a5390" stroke="#0f2e58" stroke-width="0.5"/>
<line x1="345.90" y1="248.80" x2="345.90" y2="251.80" stroke="#111" stroke-width="0.8"/>
<line x1="357.65" y1="213.10" x2="357.65" y2="206.98" stroke="#333" stroke-width="0.9"/>
<line x1="355.35" y1="206.98" x2="359.95" y2="206.98" stroke="#333" stroke-width="1.1"/>
<rect x="353.90" y="213.10" width="7.5" height="35.70" fill="#f49b10" stroke="#9a5e0c" stroke-width="0.5"/>
<line x1="357.65" y1="248.80" x2="357.65" y2="251.80" stroke="#111" stroke-width="0.8"/>
<line x1="267.20" y1="249.20" x2="267.20" y2="184.80" stroke="#111" stroke-width="0.9"/>
<line x1="264.20" y1="248.80" x2="364.65" y2="248.80" stroke="#111" stroke-width="0.9"/>
<line x1="264.20" y1="248.80" x2="267.20" y2="248.80" stroke="#111" stroke-width="0.8"/>
<text x="261.40" y="251.30" font-size="6.7" text-anchor="end" font-weight="normal" fill="#222" >0</text>
<line x1="264.20" y1="228.40" x2="267.20" y2="228.40" stroke="#111" stroke-width="0.8"/>
<text x="261.40" y="230.90" font-size="6.7" text-anchor="end" font-weight="normal" fill="#222" >200000</text>
<line x1="264.20" y1="208.00" x2="267.20" y2="208.00" stroke="#111" stroke-width="0.8"/>
<text x="261.40" y="210.50" font-size="6.7" text-anchor="end" font-weight="normal" fill="#222" >400000</text>
<line x1="264.20" y1="187.60" x2="267.20" y2="187.60" stroke="#111" stroke-width="0.8"/>
<text x="261.40" y="190.10" font-size="6.7" text-anchor="end" font-weight="normal" fill="#222" >600000</text>
<text x="316.70" y="268.90" font-size="8.42" text-anchor="middle" font-weight="normal" fill="#222" >DAPP1 pY139</text>
<line x1="289.55" y1="272.90" x2="343.85" y2="272.90" stroke="#333" stroke-width="1"/>
<line x1="275.40" y1="335.34" x2="275.40" y2="334.95" stroke="#333" stroke-width="0.9"/>
<line x1="273.10" y1="334.95" x2="277.70" y2="334.95" stroke="#333" stroke-width="1.1"/>
<rect x="271.65" y="335.34" width="7.5" height="0.77" fill="#1a5390" stroke="#0f2e58" stroke-width="0.5"/>
<line x1="275.40" y1="336.10" x2="275.40" y2="339.10" stroke="#111" stroke-width="0.8"/>
<line x1="287.15" y1="334.95" x2="287.15" y2="334.19" stroke="#333" stroke-width="0.9"/>
<line x1="284.85" y1="334.19" x2="289.45" y2="334.19" stroke="#333" stroke-width="1.1"/>
<rect x="283.40" y="334.95" width="7.5" height="1.15" fill="#1a5390" stroke="#0f2e58" stroke-width="0.5"/>
<line x1="287.15" y1="336.10" x2="287.15" y2="339.10" stroke="#111" stroke-width="0.8"/>
<line x1="298.90" y1="323.10" x2="298.90" y2="318.50" stroke="#333" stroke-width="0.9"/>
<line x1="296.60" y1="318.50" x2="301.20" y2="318.50" stroke="#333" stroke-width="1.1"/>
<rect x="295.15" y="323.10" width="7.5" height="13.01" fill="#cf062e" stroke="#7a0a1c" stroke-width="0.5"/>
<line x1="298.90" y1="336.10" x2="298.90" y2="339.10" stroke="#111" stroke-width="0.8"/>
<line x1="310.65" y1="294.79" x2="310.65" y2="284.08" stroke="#333" stroke-width="0.9"/>
<line x1="308.35" y1="284.08" x2="312.95" y2="284.08" stroke="#333" stroke-width="1.1"/>
<rect x="306.90" y="294.79" width="7.5" height="41.31" fill="#cf062e" stroke="#7a0a1c" stroke-width="0.5"/>
<line x1="310.65" y1="336.10" x2="310.65" y2="339.10" stroke="#111" stroke-width="0.8"/>
<line x1="322.40" y1="316.21" x2="322.40" y2="305.50" stroke="#333" stroke-width="0.9"/>
<line x1="320.10" y1="305.50" x2="324.70" y2="305.50" stroke="#333" stroke-width="1.1"/>
<rect x="318.65" y="316.21" width="7.5" height="19.89" fill="#39aa38" stroke="#1f6a1f" stroke-width="0.5"/>
<line x1="322.40" y1="336.10" x2="322.40" y2="339.10" stroke="#111" stroke-width="0.8"/>
<line x1="334.15" y1="321.18" x2="334.15" y2="318.12" stroke="#333" stroke-width="0.9"/>
<line x1="331.85" y1="318.12" x2="336.45" y2="318.12" stroke="#333" stroke-width="1.1"/>
<rect x="330.40" y="321.18" width="7.5" height="14.92" fill="#611e6a" stroke="#3a1040" stroke-width="0.5"/>
<line x1="334.15" y1="336.10" x2="334.15" y2="339.10" stroke="#111" stroke-width="0.8"/>
<line x1="345.90" y1="335.34" x2="345.90" y2="334.95" stroke="#333" stroke-width="0.9"/>
<line x1="343.60" y1="334.95" x2="348.20" y2="334.95" stroke="#333" stroke-width="1.1"/>
<rect x="342.15" y="335.34" width="7.5" height="0.77" fill="#1a5390" stroke="#0f2e58" stroke-width="0.5"/>
<line x1="345.90" y1="336.10" x2="345.90" y2="339.10" stroke="#111" stroke-width="0.8"/>
<line x1="357.65" y1="313.92" x2="357.65" y2="301.68" stroke="#333" stroke-width="0.9"/>
<line x1="355.35" y1="301.68" x2="359.95" y2="301.68" stroke="#333" stroke-width="1.1"/>
<rect x="353.90" y="313.92" width="7.5" height="22.19" fill="#f49b10" stroke="#9a5e0c" stroke-width="0.5"/>
<line x1="357.65" y1="336.10" x2="357.65" y2="339.10" stroke="#111" stroke-width="0.8"/>
<line x1="267.20" y1="336.50" x2="267.20" y2="272.10" stroke="#111" stroke-width="0.9"/>
<line x1="264.20" y1="336.10" x2="364.65" y2="336.10" stroke="#111" stroke-width="0.9"/>
<line x1="264.20" y1="336.10" x2="267.20" y2="336.10" stroke="#111" stroke-width="0.8"/>
<text x="261.40" y="338.60" font-size="6.7" text-anchor="end" font-weight="normal" fill="#222" >0</text>
<line x1="264.20" y1="320.80" x2="267.20" y2="320.80" stroke="#111" stroke-width="0.8"/>
<text x="261.40" y="323.30" font-size="6.7" text-anchor="end" font-weight="normal" fill="#222" >20000</text>
<line x1="264.20" y1="305.50" x2="267.20" y2="305.50" stroke="#111" stroke-width="0.8"/>
<text x="261.40" y="308.00" font-size="6.7" text-anchor="end" font-weight="normal" fill="#222" >40000</text>
<line x1="264.20" y1="290.20" x2="267.20" y2="290.20" stroke="#111" stroke-width="0.8"/>
<text x="261.40" y="292.70" font-size="6.7" text-anchor="end" font-weight="normal" fill="#222" >60000</text>
<line x1="264.20" y1="274.90" x2="267.20" y2="274.90" stroke="#111" stroke-width="0.8"/>
<text x="261.40" y="277.40" font-size="6.7" text-anchor="end" font-weight="normal" fill="#222" >80000</text>
<text x="316.70" y="356.30" font-size="8.42" text-anchor="middle" font-weight="normal" fill="#222" >Src pY419</text>
<line x1="297.04" y1="360.30" x2="336.36" y2="360.30" stroke="#333" stroke-width="1"/>
<line x1="275.40" y1="409.73" x2="275.40" y2="401.31" stroke="#333" stroke-width="0.9"/>
<line x1="273.10" y1="401.31" x2="277.70" y2="401.31" stroke="#333" stroke-width="1.1"/>
<rect x="271.65" y="409.73" width="7.5" height="13.77" fill="#1a5390" stroke="#0f2e58" stroke-width="0.5"/>
<line x1="275.40" y1="423.50" x2="275.40" y2="426.50" stroke="#111" stroke-width="0.8"/>
<line x1="287.15" y1="402.39" x2="287.15" y2="394.89" stroke="#333" stroke-width="0.9"/>
<line x1="284.85" y1="394.89" x2="289.45" y2="394.89" stroke="#333" stroke-width="1.1"/>
<rect x="283.40" y="402.39" width="7.5" height="21.11" fill="#1a5390" stroke="#0f2e58" stroke-width="0.5"/>
<line x1="287.15" y1="423.50" x2="287.15" y2="426.50" stroke="#111" stroke-width="0.8"/>
<line x1="298.90" y1="395.96" x2="298.90" y2="384.49" stroke="#333" stroke-width="0.9"/>
<line x1="296.60" y1="384.49" x2="301.20" y2="384.49" stroke="#333" stroke-width="1.1"/>
<rect x="295.15" y="395.96" width="7.5" height="27.54" fill="#cf062e" stroke="#7a0a1c" stroke-width="0.5"/>
<line x1="298.90" y1="423.50" x2="298.90" y2="426.50" stroke="#111" stroke-width="0.8"/>
<line x1="310.65" y1="392.13" x2="310.65" y2="376.38" stroke="#333" stroke-width="0.9"/>
<line x1="308.35" y1="376.38" x2="312.95" y2="376.38" stroke="#333" stroke-width="1.1"/>
<rect x="306.90" y="392.13" width="7.5" height="31.36" fill="#cf062e" stroke="#7a0a1c" stroke-width="0.5"/>
<line x1="310.65" y1="423.50" x2="310.65" y2="426.50" stroke="#111" stroke-width="0.8"/>
<line x1="322.40" y1="389.84" x2="322.40" y2="384.03" stroke="#333" stroke-width="0.9"/>
<line x1="320.10" y1="384.03" x2="324.70" y2="384.03" stroke="#333" stroke-width="1.1"/>
<rect x="318.65" y="389.84" width="7.5" height="33.66" fill="#39aa38" stroke="#1f6a1f" stroke-width="0.5"/>
<line x1="322.40" y1="423.50" x2="322.40" y2="426.50" stroke="#111" stroke-width="0.8"/>
<line x1="334.15" y1="397.49" x2="334.15" y2="386.47" stroke="#333" stroke-width="0.9"/>
<line x1="331.85" y1="386.47" x2="336.45" y2="386.47" stroke="#333" stroke-width="1.1"/>
<rect x="330.40" y="397.49" width="7.5" height="26.01" fill="#611e6a" stroke="#3a1040" stroke-width="0.5"/>
<line x1="334.15" y1="423.50" x2="334.15" y2="426.50" stroke="#111" stroke-width="0.8"/>
<line x1="345.90" y1="416.92" x2="345.90" y2="413.10" stroke="#333" stroke-width="0.9"/>
<line x1="343.60" y1="413.10" x2="348.20" y2="413.10" stroke="#333" stroke-width="1.1"/>
<rect x="342.15" y="416.92" width="7.5" height="6.58" fill="#1a5390" stroke="#0f2e58" stroke-width="0.5"/>
<line x1="345.90" y1="423.50" x2="345.90" y2="426.50" stroke="#111" stroke-width="0.8"/>
<line x1="357.65" y1="402.85" x2="357.65" y2="396.27" stroke="#333" stroke-width="0.9"/>
<line x1="355.35" y1="396.27" x2="359.95" y2="396.27" stroke="#333" stroke-width="1.1"/>
<rect x="353.90" y="402.85" width="7.5" height="20.65" fill="#f49b10" stroke="#9a5e0c" stroke-width="0.5"/>
<line x1="357.65" y1="423.50" x2="357.65" y2="426.50" stroke="#111" stroke-width="0.8"/>
<line x1="267.20" y1="423.90" x2="267.20" y2="359.50" stroke="#111" stroke-width="0.9"/>
<line x1="264.20" y1="423.50" x2="364.65" y2="423.50" stroke="#111" stroke-width="0.9"/>
<line x1="264.20" y1="423.50" x2="267.20" y2="423.50" stroke="#111" stroke-width="0.8"/>
<text x="261.40" y="426.00" font-size="6.7" text-anchor="end" font-weight="normal" fill="#222" >0</text>
<line x1="264.20" y1="408.20" x2="267.20" y2="408.20" stroke="#111" stroke-width="0.8"/>
<text x="261.40" y="410.70" font-size="6.7" text-anchor="end" font-weight="normal" fill="#222" >1000000</text>
<line x1="264.20" y1="392.90" x2="267.20" y2="392.90" stroke="#111" stroke-width="0.8"/>
<text x="261.40" y="395.40" font-size="6.7" text-anchor="end" font-weight="normal" fill="#222" >2000000</text>
<line x1="264.20" y1="377.60" x2="267.20" y2="377.60" stroke="#111" stroke-width="0.8"/>
<text x="261.40" y="380.10" font-size="6.7" text-anchor="end" font-weight="normal" fill="#222" >3000000</text>
<line x1="264.20" y1="362.30" x2="267.20" y2="362.30" stroke="#111" stroke-width="0.8"/>
<text x="261.40" y="364.80" font-size="6.7" text-anchor="end" font-weight="normal" fill="#222" >4000000</text>
<text x="316.70" y="443.60" font-size="8.42" text-anchor="middle" font-weight="normal" fill="#222" >Akt pS473</text>
<line x1="297.27" y1="447.60" x2="336.13" y2="447.60" stroke="#333" stroke-width="1"/>
<line x1="275.40" y1="505.70" x2="275.40" y2="504.07" stroke="#333" stroke-width="0.9"/>
<line x1="273.10" y1="504.07" x2="277.70" y2="504.07" stroke="#333" stroke-width="1.1"/>
<rect x="271.65" y="505.70" width="7.5" height="5.10" fill="#1a5390" stroke="#0f2e58" stroke-width="0.5"/>
<line x1="275.40" y1="510.80" x2="275.40" y2="513.80" stroke="#111" stroke-width="0.8"/>
<line x1="287.15" y1="503.05" x2="287.15" y2="498.97" stroke="#333" stroke-width="0.9"/>
<line x1="284.85" y1="498.97" x2="289.45" y2="498.97" stroke="#333" stroke-width="1.1"/>
<rect x="283.40" y="503.05" width="7.5" height="7.75" fill="#1a5390" stroke="#0f2e58" stroke-width="0.5"/>
<line x1="287.15" y1="510.80" x2="287.15" y2="513.80" stroke="#111" stroke-width="0.8"/>
<line x1="298.90" y1="485.91" x2="298.90" y2="472.45" stroke="#333" stroke-width="0.9"/>
<line x1="296.60" y1="472.45" x2="301.20" y2="472.45" stroke="#333" stroke-width="1.1"/>
<rect x="295.15" y="485.91" width="7.5" height="24.89" fill="#cf062e" stroke="#7a0a1c" stroke-width="0.5"/>
<line x1="298.90" y1="510.80" x2="298.90" y2="513.80" stroke="#111" stroke-width="0.8"/>
<line x1="310.65" y1="475.71" x2="310.65" y2="464.29" stroke="#333" stroke-width="0.9"/>
<line x1="308.35" y1="464.29" x2="312.95" y2="464.29" stroke="#333" stroke-width="1.1"/>
<rect x="306.90" y="475.71" width="7.5" height="35.09" fill="#cf062e" stroke="#7a0a1c" stroke-width="0.5"/>
<line x1="310.65" y1="510.80" x2="310.65" y2="513.80" stroke="#111" stroke-width="0.8"/>
<line x1="322.40" y1="486.73" x2="322.40" y2="478.57" stroke="#333" stroke-width="0.9"/>
<line x1="320.10" y1="478.57" x2="324.70" y2="478.57" stroke="#333" stroke-width="1.1"/>
<rect x="318.65" y="486.73" width="7.5" height="24.07" fill="#39aa38" stroke="#1f6a1f" stroke-width="0.5"/>
<line x1="322.40" y1="510.80" x2="322.40" y2="513.80" stroke="#111" stroke-width="0.8"/>
<line x1="334.15" y1="476.12" x2="334.15" y2="455.31" stroke="#333" stroke-width="0.9"/>
<line x1="331.85" y1="455.31" x2="336.45" y2="455.31" stroke="#333" stroke-width="1.1"/>
<rect x="330.40" y="476.12" width="7.5" height="34.68" fill="#611e6a" stroke="#3a1040" stroke-width="0.5"/>
<line x1="334.15" y1="510.80" x2="334.15" y2="513.80" stroke="#111" stroke-width="0.8"/>
<line x1="345.90" y1="497.13" x2="345.90" y2="490.40" stroke="#333" stroke-width="0.9"/>
<line x1="343.60" y1="490.40" x2="348.20" y2="490.40" stroke="#333" stroke-width="1.1"/>
<rect x="342.15" y="497.13" width="7.5" height="13.67" fill="#1a5390" stroke="#0f2e58" stroke-width="0.5"/>
<line x1="345.90" y1="510.80" x2="345.90" y2="513.80" stroke="#111" stroke-width="0.8"/>
<line x1="357.65" y1="474.08" x2="357.65" y2="460.21" stroke="#333" stroke-width="0.9"/>
<line x1="355.35" y1="460.21" x2="359.95" y2="460.21" stroke="#333" stroke-width="1.1"/>
<rect x="353.90" y="474.08" width="7.5" height="36.72" fill="#f49b10" stroke="#9a5e0c" stroke-width="0.5"/>
<line x1="357.65" y1="510.80" x2="357.65" y2="513.80" stroke="#111" stroke-width="0.8"/>
<line x1="267.20" y1="511.20" x2="267.20" y2="446.80" stroke="#111" stroke-width="0.9"/>
<line x1="264.20" y1="510.80" x2="364.65" y2="510.80" stroke="#111" stroke-width="0.9"/>
<line x1="264.20" y1="510.80" x2="267.20" y2="510.80" stroke="#111" stroke-width="0.8"/>
<text x="261.40" y="513.30" font-size="6.7" text-anchor="end" font-weight="normal" fill="#222" >0</text>
<line x1="264.20" y1="490.40" x2="267.20" y2="490.40" stroke="#111" stroke-width="0.8"/>
<text x="261.40" y="492.90" font-size="6.7" text-anchor="end" font-weight="normal" fill="#222" >100000</text>
<line x1="264.20" y1="470.00" x2="267.20" y2="470.00" stroke="#111" stroke-width="0.8"/>
<text x="261.40" y="472.50" font-size="6.7" text-anchor="end" font-weight="normal" fill="#222" >200000</text>
<line x1="264.20" y1="449.60" x2="267.20" y2="449.60" stroke="#111" stroke-width="0.8"/>
<text x="261.40" y="452.10" font-size="6.7" text-anchor="end" font-weight="normal" fill="#222" >300000</text>
<text x="260.70" y="523.50" font-size="6.4" text-anchor="end" font-weight="normal" fill="#222" >oxLDL:</text>
<text x="260.70" y="531.50" font-size="6.4" text-anchor="end" font-weight="normal" fill="#222" >GPVI agonist:</text>
<text x="260.70" y="539.70" font-size="6.4" text-anchor="end" font-weight="normal" fill="#222" >inhibitor:</text>
<text x="275.40" y="523.80" font-size="6.4" text-anchor="middle" font-weight="normal" fill="#222" >−</text>
<text x="275.40" y="532.00" font-size="6.4" text-anchor="middle" font-weight="normal" fill="#222" >−</text>
<text x="276.60" y="538.2" font-size="6.8" text-anchor="end" fill="#222" transform="rotate(-45 276.60 538.2)">veh</text>
<text x="287.15" y="523.80" font-size="6.4" text-anchor="middle" font-weight="normal" fill="#222" >+</text>
<text x="287.15" y="532.00" font-size="6.4" text-anchor="middle" font-weight="normal" fill="#222" >−</text>
<text x="288.35" y="538.2" font-size="6.8" text-anchor="end" fill="#222" transform="rotate(-45 288.35 538.2)">veh</text>
<text x="298.90" y="523.80" font-size="6.4" text-anchor="middle" font-weight="normal" fill="#222" >−</text>
<text x="298.90" y="532.00" font-size="6.4" text-anchor="middle" font-weight="normal" fill="#222" >+</text>
<text x="300.10" y="538.2" font-size="6.8" text-anchor="end" fill="#222" transform="rotate(-45 300.10 538.2)">veh</text>
<text x="310.65" y="523.80" font-size="6.4" text-anchor="middle" font-weight="normal" fill="#222" >+</text>
<text x="310.65" y="532.00" font-size="6.4" text-anchor="middle" font-weight="normal" fill="#222" >+</text>
<text x="311.85" y="538.2" font-size="6.8" text-anchor="end" fill="#222" transform="rotate(-45 311.85 538.2)">veh</text>
<text x="322.40" y="523.80" font-size="6.4" text-anchor="middle" font-weight="normal" fill="#222" >+</text>
<text x="322.40" y="532.00" font-size="6.4" text-anchor="middle" font-weight="normal" fill="#222" >+</text>
<text x="323.60" y="538.2" font-size="6.8" text-anchor="end" fill="#222" transform="rotate(-45 323.60 538.2)">Tica</text>
<text x="334.15" y="523.80" font-size="6.4" text-anchor="middle" font-weight="normal" fill="#222" >+</text>
<text x="334.15" y="532.00" font-size="6.4" text-anchor="middle" font-weight="normal" fill="#222" >+</text>
<text x="335.35" y="538.2" font-size="6.8" text-anchor="end" fill="#222" transform="rotate(-45 335.35 538.2)">ASA</text>
<text x="345.90" y="523.80" font-size="6.4" text-anchor="middle" font-weight="normal" fill="#222" >+</text>
<text x="345.90" y="532.00" font-size="6.4" text-anchor="middle" font-weight="normal" fill="#222" >+</text>
<text x="347.10" y="538.2" font-size="6.8" text-anchor="end" fill="#222" transform="rotate(-45 347.10 538.2)">Ibru</text>
<text x="357.65" y="523.80" font-size="6.4" text-anchor="middle" font-weight="normal" fill="#222" >+</text>
<text x="357.65" y="532.00" font-size="6.4" text-anchor="middle" font-weight="normal" fill="#222" >+</text>
<text x="358.85" y="538.2" font-size="6.8" text-anchor="end" fill="#222" transform="rotate(-45 358.85 538.2)">R406</text>
<text x="471.00" y="7.05" font-size="8.12" text-anchor="middle" font-weight="normal" fill="#222" >phospho Akt substrates</text>
<line x1="428.79" y1="11.05" x2="513.21" y2="11.05" stroke="#333" stroke-width="1"/>
<line x1="429.70" y1="68.13" x2="429.70" y2="66.98" stroke="#333" stroke-width="0.9"/>
<line x1="427.40" y1="66.98" x2="432.00" y2="66.98" stroke="#333" stroke-width="1.1"/>
<rect x="425.95" y="68.13" width="7.5" height="6.12" fill="#1a5390" stroke="#0f2e58" stroke-width="0.5"/>
<line x1="429.70" y1="74.25" x2="429.70" y2="77.25" stroke="#111" stroke-width="0.8"/>
<line x1="441.45" y1="64.69" x2="441.45" y2="62.77" stroke="#333" stroke-width="0.9"/>
<line x1="439.15" y1="62.77" x2="443.75" y2="62.77" stroke="#333" stroke-width="1.1"/>
<rect x="437.70" y="64.69" width="7.5" height="9.56" fill="#1a5390" stroke="#0f2e58" stroke-width="0.5"/>
<line x1="441.45" y1="74.25" x2="441.45" y2="77.25" stroke="#111" stroke-width="0.8"/>
<line x1="453.20" y1="52.45" x2="453.20" y2="39.44" stroke="#333" stroke-width="0.9"/>
<line x1="450.90" y1="39.44" x2="455.50" y2="39.44" stroke="#333" stroke-width="1.1"/>
<rect x="449.45" y="52.45" width="7.5" height="21.80" fill="#cf062e" stroke="#7a0a1c" stroke-width="0.5"/>
<line x1="453.20" y1="74.25" x2="453.20" y2="77.25" stroke="#111" stroke-width="0.8"/>
<line x1="464.95" y1="34.09" x2="464.95" y2="25.67" stroke="#333" stroke-width="0.9"/>
<line x1="462.65" y1="25.67" x2="467.25" y2="25.67" stroke="#333" stroke-width="1.1"/>
<rect x="461.20" y="34.09" width="7.5" height="40.16" fill="#cf062e" stroke="#7a0a1c" stroke-width="0.5"/>
<line x1="464.95" y1="74.25" x2="464.95" y2="77.25" stroke="#111" stroke-width="0.8"/>
<line x1="476.70" y1="32.94" x2="476.70" y2="16.49" stroke="#333" stroke-width="0.9"/>
<line x1="474.40" y1="16.49" x2="479.00" y2="16.49" stroke="#333" stroke-width="1.1"/>
<rect x="472.95" y="32.94" width="7.5" height="41.31" fill="#39aa38" stroke="#1f6a1f" stroke-width="0.5"/>
<line x1="476.70" y1="74.25" x2="476.70" y2="77.25" stroke="#111" stroke-width="0.8"/>
<line x1="488.45" y1="51.30" x2="488.45" y2="42.50" stroke="#333" stroke-width="0.9"/>
<line x1="486.15" y1="42.50" x2="490.75" y2="42.50" stroke="#333" stroke-width="1.1"/>
<rect x="484.70" y="51.30" width="7.5" height="22.95" fill="#611e6a" stroke="#3a1040" stroke-width="0.5"/>
<line x1="488.45" y1="74.25" x2="488.45" y2="77.25" stroke="#111" stroke-width="0.8"/>
<line x1="500.20" y1="65.83" x2="500.20" y2="62.77" stroke="#333" stroke-width="0.9"/>
<line x1="497.90" y1="62.77" x2="502.50" y2="62.77" stroke="#333" stroke-width="1.1"/>
<rect x="496.45" y="65.83" width="7.5" height="8.42" fill="#1a5390" stroke="#0f2e58" stroke-width="0.5"/>
<line x1="500.20" y1="74.25" x2="500.20" y2="77.25" stroke="#111" stroke-width="0.8"/>
<line x1="511.95" y1="31.79" x2="511.95" y2="24.14" stroke="#333" stroke-width="0.9"/>
<line x1="509.65" y1="24.14" x2="514.25" y2="24.14" stroke="#333" stroke-width="1.1"/>
<rect x="508.20" y="31.79" width="7.5" height="42.46" fill="#f49b10" stroke="#9a5e0c" stroke-width="0.5"/>
<line x1="511.95" y1="74.25" x2="511.95" y2="77.25" stroke="#111" stroke-width="0.8"/>
<line x1="421.50" y1="74.65" x2="421.50" y2="10.25" stroke="#111" stroke-width="0.9"/>
<line x1="418.50" y1="74.25" x2="518.95" y2="74.25" stroke="#111" stroke-width="0.9"/>
<line x1="418.50" y1="74.25" x2="421.50" y2="74.25" stroke="#111" stroke-width="0.8"/>
<text x="415.70" y="76.75" font-size="6.7" text-anchor="end" font-weight="normal" fill="#222" >0</text>
<line x1="418.50" y1="58.95" x2="421.50" y2="58.95" stroke="#111" stroke-width="0.8"/>
<text x="415.70" y="61.45" font-size="6.7" text-anchor="end" font-weight="normal" fill="#222" >20</text>
<line x1="418.50" y1="43.65" x2="421.50" y2="43.65" stroke="#111" stroke-width="0.8"/>
<text x="415.70" y="46.15" font-size="6.7" text-anchor="end" font-weight="normal" fill="#222" >40</text>
<line x1="418.50" y1="28.35" x2="421.50" y2="28.35" stroke="#111" stroke-width="0.8"/>
<text x="415.70" y="30.85" font-size="6.7" text-anchor="end" font-weight="normal" fill="#222" >60</text>
<line x1="418.50" y1="13.05" x2="421.50" y2="13.05" stroke="#111" stroke-width="0.8"/>
<text x="415.70" y="15.55" font-size="6.7" text-anchor="end" font-weight="normal" fill="#222" >80</text>
<text x="471.00" y="94.30" font-size="8.42" text-anchor="middle" font-weight="normal" fill="#222" >p38 pT180/pY182</text>
<line x1="437.53" y1="98.30" x2="504.47" y2="98.30" stroke="#333" stroke-width="1"/>
<line x1="429.70" y1="160.89" x2="429.70" y2="160.68" stroke="#333" stroke-width="0.9"/>
<line x1="427.40" y1="160.68" x2="432.00" y2="160.68" stroke="#333" stroke-width="1.1"/>
<rect x="425.95" y="160.89" width="7.5" height="0.61" fill="#1a5390" stroke="#0f2e58" stroke-width="0.5"/>
<line x1="429.70" y1="161.50" x2="429.70" y2="164.50" stroke="#111" stroke-width="0.8"/>
<line x1="441.45" y1="160.28" x2="441.45" y2="159.66" stroke="#333" stroke-width="0.9"/>
<line x1="439.15" y1="159.66" x2="443.75" y2="159.66" stroke="#333" stroke-width="1.1"/>
<rect x="437.70" y="160.28" width="7.5" height="1.22" fill="#1a5390" stroke="#0f2e58" stroke-width="0.5"/>
<line x1="441.45" y1="161.50" x2="441.45" y2="164.50" stroke="#111" stroke-width="0.8"/>
<line x1="453.20" y1="137.02" x2="453.20" y2="117.84" stroke="#333" stroke-width="0.9"/>
<line x1="450.90" y1="117.84" x2="455.50" y2="117.84" stroke="#333" stroke-width="1.1"/>
<rect x="449.45" y="137.02" width="7.5" height="24.48" fill="#cf062e" stroke="#7a0a1c" stroke-width="0.5"/>
<line x1="453.20" y1="161.50" x2="453.20" y2="164.50" stroke="#111" stroke-width="0.8"/>
<line x1="464.95" y1="126.82" x2="464.95" y2="109.68" stroke="#333" stroke-width="0.9"/>
<line x1="462.65" y1="109.68" x2="467.25" y2="109.68" stroke="#333" stroke-width="1.1"/>
<rect x="461.20" y="126.82" width="7.5" height="34.68" fill="#cf062e" stroke="#7a0a1c" stroke-width="0.5"/>
<line x1="464.95" y1="161.50" x2="464.95" y2="164.50" stroke="#111" stroke-width="0.8"/>
<line x1="476.70" y1="128.45" x2="476.70" y2="112.13" stroke="#333" stroke-width="0.9"/>
<line x1="474.40" y1="112.13" x2="479.00" y2="112.13" stroke="#333" stroke-width="1.1"/>
<rect x="472.95" y="128.45" width="7.5" height="33.05" fill="#39aa38" stroke="#1f6a1f" stroke-width="0.5"/>
<line x1="476.70" y1="161.50" x2="476.70" y2="164.50" stroke="#111" stroke-width="0.8"/>
<line x1="488.45" y1="127.23" x2="488.45" y2="113.76" stroke="#333" stroke-width="0.9"/>
<line x1="486.15" y1="113.76" x2="490.75" y2="113.76" stroke="#333" stroke-width="1.1"/>
<rect x="484.70" y="127.23" width="7.5" height="34.27" fill="#611e6a" stroke="#3a1040" stroke-width="0.5"/>
<line x1="488.45" y1="161.50" x2="488.45" y2="164.50" stroke="#111" stroke-width="0.8"/>
<line x1="500.20" y1="155.79" x2="500.20" y2="151.30" stroke="#333" stroke-width="0.9"/>
<line x1="497.90" y1="151.30" x2="502.50" y2="151.30" stroke="#333" stroke-width="1.1"/>
<rect x="496.45" y="155.79" width="7.5" height="5.71" fill="#1a5390" stroke="#0f2e58" stroke-width="0.5"/>
<line x1="500.20" y1="161.50" x2="500.20" y2="164.50" stroke="#111" stroke-width="0.8"/>
<line x1="511.95" y1="128.04" x2="511.95" y2="110.50" stroke="#333" stroke-width="0.9"/>
<line x1="509.65" y1="110.50" x2="514.25" y2="110.50" stroke="#333" stroke-width="1.1"/>
<rect x="508.20" y="128.04" width="7.5" height="33.46" fill="#f49b10" stroke="#9a5e0c" stroke-width="0.5"/>
<line x1="511.95" y1="161.50" x2="511.95" y2="164.50" stroke="#111" stroke-width="0.8"/>
<line x1="421.50" y1="161.90" x2="421.50" y2="97.50" stroke="#111" stroke-width="0.9"/>
<line x1="418.50" y1="161.50" x2="518.95" y2="161.50" stroke="#111" stroke-width="0.9"/>
<line x1="418.50" y1="161.50" x2="421.50" y2="161.50" stroke="#111" stroke-width="0.8"/>
<text x="415.70" y="164.00" font-size="6.7" text-anchor="end" font-weight="normal" fill="#222" >0</text>
<line x1="418.50" y1="141.10" x2="421.50" y2="141.10" stroke="#111" stroke-width="0.8"/>
<text x="415.70" y="143.60" font-size="6.7" text-anchor="end" font-weight="normal" fill="#222" >500000</text>
<line x1="418.50" y1="120.70" x2="421.50" y2="120.70" stroke="#111" stroke-width="0.8"/>
<text x="415.70" y="123.20" font-size="6.7" text-anchor="end" font-weight="normal" fill="#222" >1000000</text>
<line x1="418.50" y1="100.30" x2="421.50" y2="100.30" stroke="#111" stroke-width="0.8"/>
<text x="415.70" y="102.80" font-size="6.7" text-anchor="end" font-weight="normal" fill="#222" >1500000</text>
<text x="471.00" y="181.60" font-size="8.42" text-anchor="middle" font-weight="normal" fill="#222" >ERK1/2 pT202/pY204</text>
<line x1="430.04" y1="185.60" x2="511.96" y2="185.60" stroke="#333" stroke-width="1"/>
<line x1="429.70" y1="248.31" x2="429.70" y2="247.58" stroke="#333" stroke-width="0.9"/>
<line x1="427.40" y1="247.58" x2="432.00" y2="247.58" stroke="#333" stroke-width="1.1"/>
<rect x="425.95" y="248.31" width="7.5" height="0.49" fill="#1a5390" stroke="#0f2e58" stroke-width="0.5"/>
<line x1="429.70" y1="248.80" x2="429.70" y2="251.80" stroke="#111" stroke-width="0.8"/>
<line x1="441.45" y1="248.56" x2="441.45" y2="248.19" stroke="#333" stroke-width="0.9"/>
<line x1="439.15" y1="248.19" x2="443.75" y2="248.19" stroke="#333" stroke-width="1.1"/>
<rect x="437.70" y="248.56" width="7.5" height="0.24" fill="#1a5390" stroke="#0f2e58" stroke-width="0.5"/>
<line x1="441.45" y1="248.80" x2="441.45" y2="251.80" stroke="#111" stroke-width="0.8"/>
<line x1="453.20" y1="241.70" x2="453.20" y2="235.09" stroke="#333" stroke-width="0.9"/>
<line x1="450.90" y1="235.09" x2="455.50" y2="235.09" stroke="#333" stroke-width="1.1"/>
<rect x="449.45" y="241.70" width="7.5" height="7.10" fill="#cf062e" stroke="#7a0a1c" stroke-width="0.5"/>
<line x1="453.20" y1="248.80" x2="453.20" y2="251.80" stroke="#111" stroke-width="0.8"/>
<line x1="464.95" y1="220.65" x2="464.95" y2="194.45" stroke="#333" stroke-width="0.9"/>
<line x1="462.65" y1="194.45" x2="467.25" y2="194.45" stroke="#333" stroke-width="1.1"/>
<rect x="461.20" y="220.65" width="7.5" height="28.15" fill="#cf062e" stroke="#7a0a1c" stroke-width="0.5"/>
<line x1="464.95" y1="248.80" x2="464.95" y2="251.80" stroke="#111" stroke-width="0.8"/>
<line x1="476.70" y1="235.83" x2="476.70" y2="225.05" stroke="#333" stroke-width="0.9"/>
<line x1="474.40" y1="225.05" x2="479.00" y2="225.05" stroke="#333" stroke-width="1.1"/>
<rect x="472.95" y="235.83" width="7.5" height="12.97" fill="#39aa38" stroke="#1f6a1f" stroke-width="0.5"/>
<line x1="476.70" y1="248.80" x2="476.70" y2="251.80" stroke="#111" stroke-width="0.8"/>
<line x1="488.45" y1="244.64" x2="488.45" y2="240.72" stroke="#333" stroke-width="0.9"/>
<line x1="486.15" y1="240.72" x2="490.75" y2="240.72" stroke="#333" stroke-width="1.1"/>
<rect x="484.70" y="244.64" width="7.5" height="4.16" fill="#611e6a" stroke="#3a1040" stroke-width="0.5"/>
<line x1="488.45" y1="248.80" x2="488.45" y2="251.80" stroke="#111" stroke-width="0.8"/>
<line x1="500.20" y1="248.56" x2="500.20" y2="248.31" stroke="#333" stroke-width="0.9"/>
<line x1="497.90" y1="248.31" x2="502.50" y2="248.31" stroke="#333" stroke-width="1.1"/>
<rect x="496.45" y="248.56" width="7.5" height="0.24" fill="#1a5390" stroke="#0f2e58" stroke-width="0.5"/>
<line x1="500.20" y1="248.80" x2="500.20" y2="251.80" stroke="#111" stroke-width="0.8"/>
<line x1="511.95" y1="240.72" x2="511.95" y2="233.38" stroke="#333" stroke-width="0.9"/>
<line x1="509.65" y1="233.38" x2="514.25" y2="233.38" stroke="#333" stroke-width="1.1"/>
<rect x="508.20" y="240.72" width="7.5" height="8.08" fill="#f49b10" stroke="#9a5e0c" stroke-width="0.5"/>
<line x1="511.95" y1="248.80" x2="511.95" y2="251.80" stroke="#111" stroke-width="0.8"/>
<line x1="421.50" y1="249.20" x2="421.50" y2="184.80" stroke="#111" stroke-width="0.9"/>
<line x1="418.50" y1="248.80" x2="518.95" y2="248.80" stroke="#111" stroke-width="0.9"/>
<line x1="418.50" y1="248.80" x2="421.50" y2="248.80" stroke="#111" stroke-width="0.8"/>
<text x="415.70" y="251.30" font-size="6.7" text-anchor="end" font-weight="normal" fill="#222" >0</text>
<line x1="418.50" y1="236.56" x2="421.50" y2="236.56" stroke="#111" stroke-width="0.8"/>
<text x="415.70" y="239.06" font-size="6.7" text-anchor="end" font-weight="normal" fill="#222" >500000</text>
<line x1="418.50" y1="224.32" x2="421.50" y2="224.32" stroke="#111" stroke-width="0.8"/>
<text x="415.70" y="226.82" font-size="6.7" text-anchor="end" font-weight="normal" fill="#222" >1000000</text>
<line x1="418.50" y1="212.08" x2="421.50" y2="212.08" stroke="#111" stroke-width="0.8"/>
<text x="415.70" y="214.58" font-size="6.7" text-anchor="end" font-weight="normal" fill="#222" >1500000</text>
<line x1="418.50" y1="199.84" x2="421.50" y2="199.84" stroke="#111" stroke-width="0.8"/>
<text x="415.70" y="202.34" font-size="6.7" text-anchor="end" font-weight="normal" fill="#222" >2000000</text>
<line x1="418.50" y1="187.60" x2="421.50" y2="187.60" stroke="#111" stroke-width="0.8"/>
<text x="415.70" y="190.10" font-size="6.7" text-anchor="end" font-weight="normal" fill="#222" >2500000</text>
<text x="471.00" y="268.90" font-size="8.12" text-anchor="middle" font-weight="normal" fill="#222" >phospho MAPK substrates</text>
<line x1="422.93" y1="272.90" x2="519.07" y2="272.90" stroke="#333" stroke-width="1"/>
<line x1="429.70" y1="326.92" x2="429.70" y2="323.10" stroke="#333" stroke-width="0.9"/>
<line x1="427.40" y1="323.10" x2="432.00" y2="323.10" stroke="#333" stroke-width="1.1"/>
<rect x="425.95" y="326.92" width="7.5" height="9.18" fill="#1a5390" stroke="#0f2e58" stroke-width="0.5"/>
<line x1="429.70" y1="336.10" x2="429.70" y2="339.10" stroke="#111" stroke-width="0.8"/>
<line x1="441.45" y1="320.04" x2="441.45" y2="316.21" stroke="#333" stroke-width="0.9"/>
<line x1="439.15" y1="316.21" x2="443.75" y2="316.21" stroke="#333" stroke-width="1.1"/>
<rect x="437.70" y="320.04" width="7.5" height="16.07" fill="#1a5390" stroke="#0f2e58" stroke-width="0.5"/>
<line x1="441.45" y1="336.10" x2="441.45" y2="339.10" stroke="#111" stroke-width="0.8"/>
<line x1="453.20" y1="324.62" x2="453.20" y2="320.42" stroke="#333" stroke-width="0.9"/>
<line x1="450.90" y1="320.42" x2="455.50" y2="320.42" stroke="#333" stroke-width="1.1"/>
<rect x="449.45" y="324.62" width="7.5" height="11.47" fill="#cf062e" stroke="#7a0a1c" stroke-width="0.5"/>
<line x1="453.20" y1="336.10" x2="453.20" y2="339.10" stroke="#111" stroke-width="0.8"/>
<line x1="464.95" y1="293.26" x2="464.95" y2="281.02" stroke="#333" stroke-width="0.9"/>
<line x1="462.65" y1="281.02" x2="467.25" y2="281.02" stroke="#333" stroke-width="1.1"/>
<rect x="461.20" y="293.26" width="7.5" height="42.84" fill="#cf062e" stroke="#7a0a1c" stroke-width="0.5"/>
<line x1="464.95" y1="336.10" x2="464.95" y2="339.10" stroke="#111" stroke-width="0.8"/>
<line x1="476.70" y1="304.74" x2="476.70" y2="289.44" stroke="#333" stroke-width="0.9"/>
<line x1="474.40" y1="289.44" x2="479.00" y2="289.44" stroke="#333" stroke-width="1.1"/>
<rect x="472.95" y="304.74" width="7.5" height="31.37" fill="#39aa38" stroke="#1f6a1f" stroke-width="0.5"/>
<line x1="476.70" y1="336.10" x2="476.70" y2="339.10" stroke="#111" stroke-width="0.8"/>
<line x1="488.45" y1="319.27" x2="488.45" y2="310.86" stroke="#333" stroke-width="0.9"/>
<line x1="486.15" y1="310.86" x2="490.75" y2="310.86" stroke="#333" stroke-width="1.1"/>
<rect x="484.70" y="319.27" width="7.5" height="16.83" fill="#611e6a" stroke="#3a1040" stroke-width="0.5"/>
<line x1="488.45" y1="336.10" x2="488.45" y2="339.10" stroke="#111" stroke-width="0.8"/>
<line x1="500.20" y1="318.12" x2="500.20" y2="308.18" stroke="#333" stroke-width="0.9"/>
<line x1="497.90" y1="308.18" x2="502.50" y2="308.18" stroke="#333" stroke-width="1.1"/>
<rect x="496.45" y="318.12" width="7.5" height="17.98" fill="#1a5390" stroke="#0f2e58" stroke-width="0.5"/>
<line x1="500.20" y1="336.10" x2="500.20" y2="339.10" stroke="#111" stroke-width="0.8"/>
<line x1="511.95" y1="302.82" x2="511.95" y2="299.38" stroke="#333" stroke-width="0.9"/>
<line x1="509.65" y1="299.38" x2="514.25" y2="299.38" stroke="#333" stroke-width="1.1"/>
<rect x="508.20" y="302.82" width="7.5" height="33.28" fill="#f49b10" stroke="#9a5e0c" stroke-width="0.5"/>
<line x1="511.95" y1="336.10" x2="511.95" y2="339.10" stroke="#111" stroke-width="0.8"/>
<line x1="421.50" y1="336.50" x2="421.50" y2="272.10" stroke="#111" stroke-width="0.9"/>
<line x1="418.50" y1="336.10" x2="518.95" y2="336.10" stroke="#111" stroke-width="0.9"/>
<line x1="418.50" y1="336.10" x2="421.50" y2="336.10" stroke="#111" stroke-width="0.8"/>
<text x="415.70" y="338.60" font-size="6.7" text-anchor="end" font-weight="normal" fill="#222" >0</text>
<line x1="418.50" y1="320.80" x2="421.50" y2="320.80" stroke="#111" stroke-width="0.8"/>
<text x="415.70" y="323.30" font-size="6.7" text-anchor="end" font-weight="normal" fill="#222" >20</text>
<line x1="418.50" y1="305.50" x2="421.50" y2="305.50" stroke="#111" stroke-width="0.8"/>
<text x="415.70" y="308.00" font-size="6.7" text-anchor="end" font-weight="normal" fill="#222" >40</text>
<line x1="418.50" y1="290.20" x2="421.50" y2="290.20" stroke="#111" stroke-width="0.8"/>
<text x="415.70" y="292.70" font-size="6.7" text-anchor="end" font-weight="normal" fill="#222" >60</text>
<line x1="418.50" y1="274.90" x2="421.50" y2="274.90" stroke="#111" stroke-width="0.8"/>
<text x="415.70" y="277.40" font-size="6.7" text-anchor="end" font-weight="normal" fill="#222" >80</text>
<text x="471.00" y="356.30" font-size="8.12" text-anchor="middle" font-weight="normal" fill="#222" >phospho PKC substrates</text>
<line x1="426.10" y1="360.30" x2="515.90" y2="360.30" stroke="#333" stroke-width="1"/>
<line x1="429.70" y1="419.22" x2="429.70" y2="415.54" stroke="#333" stroke-width="0.9"/>
<line x1="427.40" y1="415.54" x2="432.00" y2="415.54" stroke="#333" stroke-width="1.1"/>
<rect x="425.95" y="419.22" width="7.5" height="4.28" fill="#1a5390" stroke="#0f2e58" stroke-width="0.5"/>
<line x1="429.70" y1="423.50" x2="429.70" y2="426.50" stroke="#111" stroke-width="0.8"/>
<line x1="441.45" y1="417.69" x2="441.45" y2="415.24" stroke="#333" stroke-width="0.9"/>
<line x1="439.15" y1="415.24" x2="443.75" y2="415.24" stroke="#333" stroke-width="1.1"/>
<rect x="437.70" y="417.69" width="7.5" height="5.81" fill="#1a5390" stroke="#0f2e58" stroke-width="0.5"/>
<line x1="441.45" y1="423.50" x2="441.45" y2="426.50" stroke="#111" stroke-width="0.8"/>
<line x1="453.20" y1="409.42" x2="453.20" y2="403.00" stroke="#333" stroke-width="0.9"/>
<line x1="450.90" y1="403.00" x2="455.50" y2="403.00" stroke="#333" stroke-width="1.1"/>
<rect x="449.45" y="409.42" width="7.5" height="14.08" fill="#cf062e" stroke="#7a0a1c" stroke-width="0.5"/>
<line x1="453.20" y1="423.50" x2="453.20" y2="426.50" stroke="#111" stroke-width="0.8"/>
<line x1="464.95" y1="391.37" x2="464.95" y2="379.13" stroke="#333" stroke-width="0.9"/>
<line x1="462.65" y1="379.13" x2="467.25" y2="379.13" stroke="#333" stroke-width="1.1"/>
<rect x="461.20" y="391.37" width="7.5" height="32.13" fill="#cf062e" stroke="#7a0a1c" stroke-width="0.5"/>
<line x1="464.95" y1="423.50" x2="464.95" y2="426.50" stroke="#111" stroke-width="0.8"/>
<line x1="476.70" y1="389.84" x2="476.70" y2="376.38" stroke="#333" stroke-width="0.9"/>
<line x1="474.40" y1="376.38" x2="479.00" y2="376.38" stroke="#333" stroke-width="1.1"/>
<rect x="472.95" y="389.84" width="7.5" height="33.66" fill="#39aa38" stroke="#1f6a1f" stroke-width="0.5"/>
<line x1="476.70" y1="423.50" x2="476.70" y2="426.50" stroke="#111" stroke-width="0.8"/>
<line x1="488.45" y1="402.08" x2="488.45" y2="393.82" stroke="#333" stroke-width="0.9"/>
<line x1="486.15" y1="393.82" x2="490.75" y2="393.82" stroke="#333" stroke-width="1.1"/>
<rect x="484.70" y="402.08" width="7.5" height="21.42" fill="#611e6a" stroke="#3a1040" stroke-width="0.5"/>
<line x1="488.45" y1="423.50" x2="488.45" y2="426.50" stroke="#111" stroke-width="0.8"/>
<line x1="500.20" y1="420.44" x2="500.20" y2="419.22" stroke="#333" stroke-width="0.9"/>
<line x1="497.90" y1="419.22" x2="502.50" y2="419.22" stroke="#333" stroke-width="1.1"/>
<rect x="496.45" y="420.44" width="7.5" height="3.06" fill="#1a5390" stroke="#0f2e58" stroke-width="0.5"/>
<line x1="500.20" y1="423.50" x2="500.20" y2="426.50" stroke="#111" stroke-width="0.8"/>
<line x1="511.95" y1="387.39" x2="511.95" y2="385.86" stroke="#333" stroke-width="0.9"/>
<line x1="509.65" y1="385.86" x2="514.25" y2="385.86" stroke="#333" stroke-width="1.1"/>
<rect x="508.20" y="387.39" width="7.5" height="36.11" fill="#f49b10" stroke="#9a5e0c" stroke-width="0.5"/>
<line x1="511.95" y1="423.50" x2="511.95" y2="426.50" stroke="#111" stroke-width="0.8"/>
<line x1="421.50" y1="423.90" x2="421.50" y2="359.50" stroke="#111" stroke-width="0.9"/>
<line x1="418.50" y1="423.50" x2="518.95" y2="423.50" stroke="#111" stroke-width="0.9"/>
<line x1="418.50" y1="423.50" x2="421.50" y2="423.50" stroke="#111" stroke-width="0.8"/>
<text x="415.70" y="426.00" font-size="6.7" text-anchor="end" font-weight="normal" fill="#222" >0</text>
<line x1="418.50" y1="411.26" x2="421.50" y2="411.26" stroke="#111" stroke-width="0.8"/>
<text x="415.70" y="413.76" font-size="6.7" text-anchor="end" font-weight="normal" fill="#222" >20</text>
<line x1="418.50" y1="399.02" x2="421.50" y2="399.02" stroke="#111" stroke-width="0.8"/>
<text x="415.70" y="401.52" font-size="6.7" text-anchor="end" font-weight="normal" fill="#222" >40</text>
<line x1="418.50" y1="386.78" x2="421.50" y2="386.78" stroke="#111" stroke-width="0.8"/>
<text x="415.70" y="389.28" font-size="6.7" text-anchor="end" font-weight="normal" fill="#222" >60</text>
<line x1="418.50" y1="374.54" x2="421.50" y2="374.54" stroke="#111" stroke-width="0.8"/>
<text x="415.70" y="377.04" font-size="6.7" text-anchor="end" font-weight="normal" fill="#222" >80</text>
<line x1="418.50" y1="362.30" x2="421.50" y2="362.30" stroke="#111" stroke-width="0.8"/>
<text x="415.70" y="364.80" font-size="6.7" text-anchor="end" font-weight="normal" fill="#222" >100</text>
<text x="471.00" y="443.60" font-size="8.42" text-anchor="middle" font-weight="normal" fill="#222" >MLC2 pT18/pS19</text>
<line x1="437.99" y1="447.60" x2="504.01" y2="447.60" stroke="#333" stroke-width="1"/>
<line x1="429.70" y1="510.57" x2="429.70" y2="510.34" stroke="#333" stroke-width="0.9"/>
<line x1="427.40" y1="510.34" x2="432.00" y2="510.34" stroke="#333" stroke-width="1.1"/>
<rect x="425.95" y="510.57" width="7.5" height="0.23" fill="#1a5390" stroke="#0f2e58" stroke-width="0.5"/>
<line x1="429.70" y1="510.80" x2="429.70" y2="513.80" stroke="#111" stroke-width="0.8"/>
<line x1="441.45" y1="508.50" x2="441.45" y2="506.21" stroke="#333" stroke-width="0.9"/>
<line x1="439.15" y1="506.21" x2="443.75" y2="506.21" stroke="#333" stroke-width="1.1"/>
<rect x="437.70" y="508.50" width="7.5" height="2.30" fill="#1a5390" stroke="#0f2e58" stroke-width="0.5"/>
<line x1="441.45" y1="510.80" x2="441.45" y2="513.80" stroke="#111" stroke-width="0.8"/>
<line x1="453.20" y1="505.83" x2="453.20" y2="501.24" stroke="#333" stroke-width="0.9"/>
<line x1="450.90" y1="501.24" x2="455.50" y2="501.24" stroke="#333" stroke-width="1.1"/>
<rect x="449.45" y="505.83" width="7.5" height="4.97" fill="#cf062e" stroke="#7a0a1c" stroke-width="0.5"/>
<line x1="453.20" y1="510.80" x2="453.20" y2="513.80" stroke="#111" stroke-width="0.8"/>
<line x1="464.95" y1="480.97" x2="464.95" y2="457.25" stroke="#333" stroke-width="0.9"/>
<line x1="462.65" y1="457.25" x2="467.25" y2="457.25" stroke="#333" stroke-width="1.1"/>
<rect x="461.20" y="480.97" width="7.5" height="29.84" fill="#cf062e" stroke="#7a0a1c" stroke-width="0.5"/>
<line x1="464.95" y1="510.80" x2="464.95" y2="513.80" stroke="#111" stroke-width="0.8"/>
<line x1="476.70" y1="499.32" x2="476.70" y2="494.35" stroke="#333" stroke-width="0.9"/>
<line x1="474.40" y1="494.35" x2="479.00" y2="494.35" stroke="#333" stroke-width="1.1"/>
<rect x="472.95" y="499.32" width="7.5" height="11.48" fill="#39aa38" stroke="#1f6a1f" stroke-width="0.5"/>
<line x1="476.70" y1="510.80" x2="476.70" y2="513.80" stroke="#111" stroke-width="0.8"/>
<line x1="488.45" y1="506.98" x2="488.45" y2="504.68" stroke="#333" stroke-width="0.9"/>
<line x1="486.15" y1="504.68" x2="490.75" y2="504.68" stroke="#333" stroke-width="1.1"/>
<rect x="484.70" y="506.98" width="7.5" height="3.83" fill="#611e6a" stroke="#3a1040" stroke-width="0.5"/>
<line x1="488.45" y1="510.80" x2="488.45" y2="513.80" stroke="#111" stroke-width="0.8"/>
<line x1="500.20" y1="510.19" x2="500.20" y2="509.88" stroke="#333" stroke-width="0.9"/>
<line x1="497.90" y1="509.88" x2="502.50" y2="509.88" stroke="#333" stroke-width="1.1"/>
<rect x="496.45" y="510.19" width="7.5" height="0.61" fill="#1a5390" stroke="#0f2e58" stroke-width="0.5"/>
<line x1="500.20" y1="510.80" x2="500.20" y2="513.80" stroke="#111" stroke-width="0.8"/>
<line x1="511.95" y1="505.83" x2="511.95" y2="502.38" stroke="#333" stroke-width="0.9"/>
<line x1="509.65" y1="502.38" x2="514.25" y2="502.38" stroke="#333" stroke-width="1.1"/>
<rect x="508.20" y="505.83" width="7.5" height="4.97" fill="#f49b10" stroke="#9a5e0c" stroke-width="0.5"/>
<line x1="511.95" y1="510.80" x2="511.95" y2="513.80" stroke="#111" stroke-width="0.8"/>
<line x1="421.50" y1="511.20" x2="421.50" y2="446.80" stroke="#111" stroke-width="0.9"/>
<line x1="418.50" y1="510.80" x2="518.95" y2="510.80" stroke="#111" stroke-width="0.9"/>
<line x1="418.50" y1="510.80" x2="421.50" y2="510.80" stroke="#111" stroke-width="0.8"/>
<text x="415.70" y="513.30" font-size="6.7" text-anchor="end" font-weight="normal" fill="#222" >0</text>
<line x1="418.50" y1="495.50" x2="421.50" y2="495.50" stroke="#111" stroke-width="0.8"/>
<text x="415.70" y="498.00" font-size="6.7" text-anchor="end" font-weight="normal" fill="#222" >20</text>
<line x1="418.50" y1="480.20" x2="421.50" y2="480.20" stroke="#111" stroke-width="0.8"/>
<text x="415.70" y="482.70" font-size="6.7" text-anchor="end" font-weight="normal" fill="#222" >40000</text>
<line x1="418.50" y1="464.90" x2="421.50" y2="464.90" stroke="#111" stroke-width="0.8"/>
<text x="415.70" y="467.40" font-size="6.7" text-anchor="end" font-weight="normal" fill="#222" >60000</text>
<line x1="418.50" y1="449.60" x2="421.50" y2="449.60" stroke="#111" stroke-width="0.8"/>
<text x="415.70" y="452.10" font-size="6.7" text-anchor="end" font-weight="normal" fill="#222" >80000</text>
<text x="429.70" y="523.80" font-size="6.4" text-anchor="middle" font-weight="normal" fill="#222" >−</text>
<text x="429.70" y="532.00" font-size="6.4" text-anchor="middle" font-weight="normal" fill="#222" >−</text>
<text x="430.90" y="538.2" font-size="6.8" text-anchor="end" fill="#222" transform="rotate(-45 430.90 538.2)">veh</text>
<text x="441.45" y="523.80" font-size="6.4" text-anchor="middle" font-weight="normal" fill="#222" >+</text>
<text x="441.45" y="532.00" font-size="6.4" text-anchor="middle" font-weight="normal" fill="#222" >−</text>
<text x="442.65" y="538.2" font-size="6.8" text-anchor="end" fill="#222" transform="rotate(-45 442.65 538.2)">veh</text>
<text x="453.20" y="523.80" font-size="6.4" text-anchor="middle" font-weight="normal" fill="#222" >−</text>
<text x="453.20" y="532.00" font-size="6.4" text-anchor="middle" font-weight="normal" fill="#222" >+</text>
<text x="454.40" y="538.2" font-size="6.8" text-anchor="end" fill="#222" transform="rotate(-45 454.40 538.2)">veh</text>
<text x="464.95" y="523.80" font-size="6.4" text-anchor="middle" font-weight="normal" fill="#222" >+</text>
<text x="464.95" y="532.00" font-size="6.4" text-anchor="middle" font-weight="normal" fill="#222" >+</text>
<text x="466.15" y="538.2" font-size="6.8" text-anchor="end" fill="#222" transform="rotate(-45 466.15 538.2)">veh</text>
<text x="476.70" y="523.80" font-size="6.4" text-anchor="middle" font-weight="normal" fill="#222" >+</text>
<text x="476.70" y="532.00" font-size="6.4" text-anchor="middle" font-weight="normal" fill="#222" >+</text>
<text x="477.90" y="538.2" font-size="6.8" text-anchor="end" fill="#222" transform="rotate(-45 477.90 538.2)">Tica</text>
<text x="488.45" y="523.80" font-size="6.4" text-anchor="middle" font-weight="normal" fill="#222" >+</text>
<text x="488.45" y="532.00" font-size="6.4" text-anchor="middle" font-weight="normal" fill="#222" >+</text>
<text x="489.65" y="538.2" font-size="6.8" text-anchor="end" fill="#222" transform="rotate(-45 489.65 538.2)">ASA</text>
<text x="500.20" y="523.80" font-size="6.4" text-anchor="middle" font-weight="normal" fill="#222" >+</text>
<text x="500.20" y="532.00" font-size="6.4" text-anchor="middle" font-weight="normal" fill="#222" >+</text>
<text x="501.40" y="538.2" font-size="6.8" text-anchor="end" fill="#222" transform="rotate(-45 501.40 538.2)">Ibru</text>
<text x="511.95" y="523.80" font-size="6.4" text-anchor="middle" font-weight="normal" fill="#222" >+</text>
<text x="511.95" y="532.00" font-size="6.4" text-anchor="middle" font-weight="normal" fill="#222" >+</text>
<text x="513.15" y="538.2" font-size="6.8" text-anchor="end" fill="#222" transform="rotate(-45 513.15 538.2)">R406</text>
</svg>
</body></html>
